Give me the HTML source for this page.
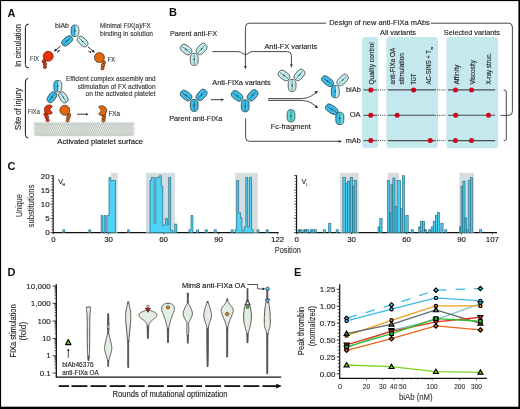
<!DOCTYPE html>
<html><head><meta charset="utf-8"><style>
html,body{margin:0;padding:0;background:#fff;}
svg{display:block;will-change:transform;}
text{font-family:"Liberation Sans", sans-serif;}
</style></head><body>
<svg width="520" height="409" viewBox="0 0 520 409" font-family='"Liberation Sans", sans-serif'><rect x="0" y="0" width="520" height="409" fill="#000"/>
<rect x="1.1" y="1.1" width="517.3" height="405.6" fill="#fff"/>
<text x="7.6" y="16.7" font-size="11" text-anchor="start" font-weight="bold" fill="#111" >A</text>
<text transform="translate(21.0,45.5) rotate(-90)" font-size="8.4" text-anchor="middle" font-weight="normal" fill="#1a1a1a" textLength="43.2" lengthAdjust="spacingAndGlyphs"  stroke="#1a1a1a" stroke-width="0.12">In circulation</text>
<text transform="translate(21.0,108.9) rotate(-90)" font-size="8.4" text-anchor="middle" font-weight="normal" fill="#1a1a1a" textLength="42.0" lengthAdjust="spacingAndGlyphs"  stroke="#1a1a1a" stroke-width="0.12">Site of injury</text>
<path d="M28.8,24 Q25.4,24 25.4,27.5 L25.4,64.5 Q25.4,68 28.8,68" fill="none" stroke="#111" stroke-width="1.0"/>
<path d="M28.2,78.5 Q25.4,78.5 25.4,82 L25.4,134.5 Q25.4,138 28.2,138" fill="none" stroke="#111" stroke-width="1.0"/>
<text x="55" y="28.4" font-size="6.4" text-anchor="start" font-weight="normal" fill="#333" textLength="14" lengthAdjust="spacingAndGlyphs"  stroke="#333" stroke-width="0.12">biAb</text>
<text x="100" y="28.2" font-size="6.4" text-anchor="start" font-weight="normal" fill="#333" textLength="50.8" lengthAdjust="spacingAndGlyphs"  stroke="#333" stroke-width="0.12">Minimal FIX(a)/FX</text>
<text x="100" y="35.8" font-size="6.4" text-anchor="start" font-weight="normal" fill="#333" textLength="53" lengthAdjust="spacingAndGlyphs"  stroke="#333" stroke-width="0.12">binding in solution</text>
<g transform="translate(75,30.8) rotate(90)"><path d="M5.70,-0.00 L5.67,-0.95 L5.57,-1.52 L5.40,-1.99 L5.16,-2.39 L4.86,-2.73 L4.49,-3.03 L4.05,-3.28 L3.53,-3.49 L2.94,-3.65 L2.24,-3.76 L1.40,-3.83 L0.00,-3.85 L-1.40,-3.83 L-2.24,-3.76 L-2.94,-3.65 L-3.53,-3.49 L-4.05,-3.28 L-4.49,-3.03 L-4.86,-2.73 L-5.16,-2.39 L-5.40,-1.99 L-5.57,-1.52 L-5.67,-0.95 L-5.70,-0.00 Z" fill="#c6f3f4"/><path d="M5.70,0.00 L5.67,0.95 L5.57,1.52 L5.40,1.99 L5.16,2.39 L4.86,2.73 L4.49,3.03 L4.05,3.28 L3.53,3.49 L2.94,3.65 L2.24,3.76 L1.40,3.83 L0.00,3.85 L-1.40,3.83 L-2.24,3.76 L-2.94,3.65 L-3.53,3.49 L-4.05,3.28 L-4.49,3.03 L-4.86,2.73 L-5.16,2.39 L-5.40,1.99 L-5.57,1.52 L-5.67,0.95 L-5.70,0.00 Z" fill="#3cc4f2"/><line x1="-3.99" y1="-1.93" x2="3.99" y2="-1.93" stroke="#000" stroke-opacity="0.14" stroke-width="0.5"/><line x1="-3.99" y1="1.93" x2="3.99" y2="1.93" stroke="#000" stroke-opacity="0.14" stroke-width="0.5"/><line x1="-4.84" y1="0" x2="4.84" y2="0" stroke="#1e1e1e" stroke-width="0.5"/><path d="M-1.1,0 L0,-0.8 L1.1,0 L0,0.8 Z" fill="#333"/><path d="M5.70,0.00 L5.67,0.95 L5.57,1.52 L5.40,1.99 L5.16,2.39 L4.86,2.73 L4.49,3.03 L4.05,3.28 L3.53,3.49 L2.94,3.65 L2.24,3.76 L1.40,3.83 L0.00,3.85 L-1.40,3.83 L-2.24,3.76 L-2.94,3.65 L-3.53,3.49 L-4.05,3.28 L-4.49,3.03 L-4.86,2.73 L-5.16,2.39 L-5.40,1.99 L-5.57,1.52 L-5.67,0.95 L-5.70,0.00 L-5.67,-0.95 L-5.57,-1.52 L-5.40,-1.99 L-5.16,-2.39 L-4.86,-2.73 L-4.49,-3.03 L-4.05,-3.28 L-3.53,-3.49 L-2.94,-3.65 L-2.24,-3.76 L-1.40,-3.83 L-0.00,-3.85 L1.40,-3.83 L2.24,-3.76 L2.94,-3.65 L3.53,-3.49 L4.05,-3.28 L4.49,-3.03 L4.86,-2.73 L5.16,-2.39 L5.40,-1.99 L5.57,-1.52 L5.67,-0.95 Z" fill="none" stroke="#1e1e1e" stroke-width="0.7"/></g>
<g transform="translate(67.2,40.9) rotate(-40)"><path d="M6.00,0.00 L5.96,0.86 L5.86,1.38 L5.68,1.80 L5.43,2.17 L5.11,2.49 L4.72,2.76 L4.26,2.98 L3.72,3.17 L3.09,3.31 L2.36,3.42 L1.47,3.48 L0.00,3.50 L-1.47,3.48 L-2.36,3.42 L-3.09,3.31 L-3.72,3.17 L-4.26,2.98 L-4.72,2.76 L-5.11,2.49 L-5.43,2.17 L-5.68,1.80 L-5.86,1.38 L-5.96,0.86 L-6.00,0.00 L-5.96,-0.86 L-5.86,-1.38 L-5.68,-1.80 L-5.43,-2.17 L-5.11,-2.49 L-4.72,-2.76 L-4.26,-2.98 L-3.72,-3.17 L-3.09,-3.31 L-2.36,-3.42 L-1.47,-3.48 L-0.00,-3.50 L1.47,-3.48 L2.36,-3.42 L3.09,-3.31 L3.72,-3.17 L4.26,-2.98 L4.72,-2.76 L5.11,-2.49 L5.43,-2.17 L5.68,-1.80 L5.86,-1.38 L5.96,-0.86 Z" fill="#3cc4f2"/><line x1="-4.20" y1="-1.75" x2="4.20" y2="-1.75" stroke="#000" stroke-opacity="0.14" stroke-width="0.5"/><line x1="-4.20" y1="1.75" x2="4.20" y2="1.75" stroke="#000" stroke-opacity="0.14" stroke-width="0.5"/><line x1="-5.10" y1="0" x2="5.10" y2="0" stroke="#1e1e1e" stroke-width="0.5"/><path d="M-1.1,0 L0,-0.8 L1.1,0 L0,0.8 Z" fill="#333"/><path d="M6.00,0.00 L5.96,0.86 L5.86,1.38 L5.68,1.80 L5.43,2.17 L5.11,2.49 L4.72,2.76 L4.26,2.98 L3.72,3.17 L3.09,3.31 L2.36,3.42 L1.47,3.48 L0.00,3.50 L-1.47,3.48 L-2.36,3.42 L-3.09,3.31 L-3.72,3.17 L-4.26,2.98 L-4.72,2.76 L-5.11,2.49 L-5.43,2.17 L-5.68,1.80 L-5.86,1.38 L-5.96,0.86 L-6.00,0.00 L-5.96,-0.86 L-5.86,-1.38 L-5.68,-1.80 L-5.43,-2.17 L-5.11,-2.49 L-4.72,-2.76 L-4.26,-2.98 L-3.72,-3.17 L-3.09,-3.31 L-2.36,-3.42 L-1.47,-3.48 L-0.00,-3.50 L1.47,-3.48 L2.36,-3.42 L3.09,-3.31 L3.72,-3.17 L4.26,-2.98 L4.72,-2.76 L5.11,-2.49 L5.43,-2.17 L5.68,-1.80 L5.86,-1.38 L5.96,-0.86 Z" fill="none" stroke="#1e1e1e" stroke-width="0.7"/></g>
<g transform="translate(82.6,41.5) rotate(45)"><path d="M6.00,0.00 L5.96,0.86 L5.86,1.38 L5.68,1.80 L5.43,2.17 L5.11,2.49 L4.72,2.76 L4.26,2.98 L3.72,3.17 L3.09,3.31 L2.36,3.42 L1.47,3.48 L0.00,3.50 L-1.47,3.48 L-2.36,3.42 L-3.09,3.31 L-3.72,3.17 L-4.26,2.98 L-4.72,2.76 L-5.11,2.49 L-5.43,2.17 L-5.68,1.80 L-5.86,1.38 L-5.96,0.86 L-6.00,0.00 L-5.96,-0.86 L-5.86,-1.38 L-5.68,-1.80 L-5.43,-2.17 L-5.11,-2.49 L-4.72,-2.76 L-4.26,-2.98 L-3.72,-3.17 L-3.09,-3.31 L-2.36,-3.42 L-1.47,-3.48 L-0.00,-3.50 L1.47,-3.48 L2.36,-3.42 L3.09,-3.31 L3.72,-3.17 L4.26,-2.98 L4.72,-2.76 L5.11,-2.49 L5.43,-2.17 L5.68,-1.80 L5.86,-1.38 L5.96,-0.86 Z" fill="#c6f3f4"/><line x1="-4.20" y1="-1.75" x2="4.20" y2="-1.75" stroke="#000" stroke-opacity="0.14" stroke-width="0.5"/><line x1="-4.20" y1="1.75" x2="4.20" y2="1.75" stroke="#000" stroke-opacity="0.14" stroke-width="0.5"/><line x1="-5.10" y1="0" x2="5.10" y2="0" stroke="#1e1e1e" stroke-width="0.5"/><path d="M-1.1,0 L0,-0.8 L1.1,0 L0,0.8 Z" fill="#333"/><path d="M6.00,0.00 L5.96,0.86 L5.86,1.38 L5.68,1.80 L5.43,2.17 L5.11,2.49 L4.72,2.76 L4.26,2.98 L3.72,3.17 L3.09,3.31 L2.36,3.42 L1.47,3.48 L0.00,3.50 L-1.47,3.48 L-2.36,3.42 L-3.09,3.31 L-3.72,3.17 L-4.26,2.98 L-4.72,2.76 L-5.11,2.49 L-5.43,2.17 L-5.68,1.80 L-5.86,1.38 L-5.96,0.86 L-6.00,0.00 L-5.96,-0.86 L-5.86,-1.38 L-5.68,-1.80 L-5.43,-2.17 L-5.11,-2.49 L-4.72,-2.76 L-4.26,-2.98 L-3.72,-3.17 L-3.09,-3.31 L-2.36,-3.42 L-1.47,-3.48 L-0.00,-3.50 L1.47,-3.48 L2.36,-3.42 L3.09,-3.31 L3.72,-3.17 L4.26,-2.98 L4.72,-2.76 L5.11,-2.49 L5.43,-2.17 L5.68,-1.80 L5.86,-1.38 L5.96,-0.86 Z" fill="none" stroke="#1e1e1e" stroke-width="0.7"/></g>
<line x1="60.6" y1="46.2" x2="55.85" y2="49.90" stroke="#222" stroke-width="0.95"/>
<path d="M53.8,51.5 L55.17,48.53 L57.01,50.90 Z" fill="#222"/>
<line x1="57.0" y1="52.5" x2="59.9" y2="50.3" stroke="#222" stroke-width="0.9"/>
<path d="M59.9,50.3 L57.14,50.64 L57.99,51.75 Z" fill="#222"/>
<line x1="87.9" y1="46.9" x2="92.80" y2="50.94" stroke="#222" stroke-width="0.95"/>
<path d="M94.8,52.6 L91.61,51.91 L93.52,49.60 Z" fill="#222"/>
<line x1="91.3" y1="53.1" x2="88.4" y2="50.9" stroke="#222" stroke-width="0.9"/>
<path d="M88.4,50.9 L91.16,51.24 L90.31,52.35 Z" fill="#222"/>
<circle cx="43.9" cy="61.3" r="1.8" fill="#ee3208" stroke="#2a1208" stroke-width="0.55"/>
<circle cx="44.9" cy="64.0" r="1.8" fill="#ee3208" stroke="#2a1208" stroke-width="0.55"/>
<circle cx="44.9" cy="67.0" r="1.6" fill="#ee3208" stroke="#2a1208" stroke-width="0.55"/>
<circle cx="48.2" cy="56.3" r="5.0" fill="#ee3208" stroke="#2a1208" stroke-width="0.6"/>
<circle cx="103.8" cy="62.4" r="1.8" fill="#e0690e" stroke="#2a1208" stroke-width="0.55"/>
<circle cx="103.0" cy="65.4" r="1.8" fill="#e0690e" stroke="#2a1208" stroke-width="0.55"/>
<circle cx="102.5" cy="68.4" r="1.6" fill="#e0690e" stroke="#2a1208" stroke-width="0.55"/>
<circle cx="99.4" cy="57.6" r="5.0" fill="#e0690e" stroke="#2a1208" stroke-width="0.6"/>
<text x="30" y="61.0" font-size="6.4" text-anchor="start" font-weight="normal" fill="#444" textLength="9" lengthAdjust="spacingAndGlyphs"  stroke="#444" stroke-width="0.12">FIX</text>
<text x="107.6" y="62.0" font-size="6.4" text-anchor="start" font-weight="normal" fill="#333" textLength="7.4" lengthAdjust="spacingAndGlyphs"  stroke="#333" stroke-width="0.12">FX</text>
<text x="155.6" y="81.0" font-size="6.4" text-anchor="end" font-weight="normal" fill="#333" textLength="89.6" lengthAdjust="spacingAndGlyphs"  stroke="#333" stroke-width="0.12">Efficient complex assembly and</text>
<text x="155.6" y="88.8" font-size="6.4" text-anchor="end" font-weight="normal" fill="#333" textLength="77.8" lengthAdjust="spacingAndGlyphs"  stroke="#333" stroke-width="0.12">stimulation of FX activation</text>
<text x="155.6" y="96.4" font-size="6.4" text-anchor="end" font-weight="normal" fill="#333" textLength="70" lengthAdjust="spacingAndGlyphs"  stroke="#333" stroke-width="0.12">on the activated platelet</text>
<g transform="translate(57.8,86.2) rotate(90)"><path d="M5.70,-0.00 L5.67,-0.98 L5.57,-1.57 L5.40,-2.06 L5.16,-2.48 L4.86,-2.84 L4.49,-3.15 L4.05,-3.41 L3.53,-3.62 L2.94,-3.79 L2.24,-3.91 L1.40,-3.98 L0.00,-4.00 L-1.40,-3.98 L-2.24,-3.91 L-2.94,-3.79 L-3.53,-3.62 L-4.05,-3.41 L-4.49,-3.15 L-4.86,-2.84 L-5.16,-2.48 L-5.40,-2.06 L-5.57,-1.57 L-5.67,-0.98 L-5.70,-0.00 Z" fill="#c6f3f4"/><path d="M5.70,0.00 L5.67,0.98 L5.57,1.57 L5.40,2.06 L5.16,2.48 L4.86,2.84 L4.49,3.15 L4.05,3.41 L3.53,3.62 L2.94,3.79 L2.24,3.91 L1.40,3.98 L0.00,4.00 L-1.40,3.98 L-2.24,3.91 L-2.94,3.79 L-3.53,3.62 L-4.05,3.41 L-4.49,3.15 L-4.86,2.84 L-5.16,2.48 L-5.40,2.06 L-5.57,1.57 L-5.67,0.98 L-5.70,0.00 Z" fill="#3cc4f2"/><line x1="-3.99" y1="-2.00" x2="3.99" y2="-2.00" stroke="#000" stroke-opacity="0.14" stroke-width="0.5"/><line x1="-3.99" y1="2.00" x2="3.99" y2="2.00" stroke="#000" stroke-opacity="0.14" stroke-width="0.5"/><line x1="-4.84" y1="0" x2="4.84" y2="0" stroke="#1e1e1e" stroke-width="0.5"/><path d="M-1.1,0 L0,-0.8 L1.1,0 L0,0.8 Z" fill="#333"/><path d="M5.70,0.00 L5.67,0.98 L5.57,1.57 L5.40,2.06 L5.16,2.48 L4.86,2.84 L4.49,3.15 L4.05,3.41 L3.53,3.62 L2.94,3.79 L2.24,3.91 L1.40,3.98 L0.00,4.00 L-1.40,3.98 L-2.24,3.91 L-2.94,3.79 L-3.53,3.62 L-4.05,3.41 L-4.49,3.15 L-4.86,2.84 L-5.16,2.48 L-5.40,2.06 L-5.57,1.57 L-5.67,0.98 L-5.70,0.00 L-5.67,-0.98 L-5.57,-1.57 L-5.40,-2.06 L-5.16,-2.48 L-4.86,-2.84 L-4.49,-3.15 L-4.05,-3.41 L-3.53,-3.62 L-2.94,-3.79 L-2.24,-3.91 L-1.40,-3.98 L-0.00,-4.00 L1.40,-3.98 L2.24,-3.91 L2.94,-3.79 L3.53,-3.62 L4.05,-3.41 L4.49,-3.15 L4.86,-2.84 L5.16,-2.48 L5.40,-2.06 L5.57,-1.57 L5.67,-0.98 Z" fill="none" stroke="#1e1e1e" stroke-width="0.7"/></g>
<g transform="translate(51.9,97.2) rotate(-55)"><path d="M5.75,0.00 L5.72,0.86 L5.61,1.38 L5.44,1.80 L5.21,2.17 L4.90,2.49 L4.53,2.76 L4.08,2.98 L3.57,3.17 L2.96,3.31 L2.26,3.42 L1.41,3.48 L0.00,3.50 L-1.41,3.48 L-2.26,3.42 L-2.96,3.31 L-3.57,3.17 L-4.08,2.98 L-4.53,2.76 L-4.90,2.49 L-5.21,2.17 L-5.44,1.80 L-5.61,1.38 L-5.72,0.86 L-5.75,0.00 L-5.72,-0.86 L-5.61,-1.38 L-5.44,-1.80 L-5.21,-2.17 L-4.90,-2.49 L-4.53,-2.76 L-4.08,-2.98 L-3.57,-3.17 L-2.96,-3.31 L-2.26,-3.42 L-1.41,-3.48 L-0.00,-3.50 L1.41,-3.48 L2.26,-3.42 L2.96,-3.31 L3.57,-3.17 L4.08,-2.98 L4.53,-2.76 L4.90,-2.49 L5.21,-2.17 L5.44,-1.80 L5.61,-1.38 L5.72,-0.86 Z" fill="#3cc4f2"/><line x1="-4.02" y1="-1.75" x2="4.02" y2="-1.75" stroke="#000" stroke-opacity="0.14" stroke-width="0.5"/><line x1="-4.02" y1="1.75" x2="4.02" y2="1.75" stroke="#000" stroke-opacity="0.14" stroke-width="0.5"/><line x1="-4.89" y1="0" x2="4.89" y2="0" stroke="#1e1e1e" stroke-width="0.5"/><path d="M-1.1,0 L0,-0.8 L1.1,0 L0,0.8 Z" fill="#333"/><path d="M5.75,0.00 L5.72,0.86 L5.61,1.38 L5.44,1.80 L5.21,2.17 L4.90,2.49 L4.53,2.76 L4.08,2.98 L3.57,3.17 L2.96,3.31 L2.26,3.42 L1.41,3.48 L0.00,3.50 L-1.41,3.48 L-2.26,3.42 L-2.96,3.31 L-3.57,3.17 L-4.08,2.98 L-4.53,2.76 L-4.90,2.49 L-5.21,2.17 L-5.44,1.80 L-5.61,1.38 L-5.72,0.86 L-5.75,0.00 L-5.72,-0.86 L-5.61,-1.38 L-5.44,-1.80 L-5.21,-2.17 L-4.90,-2.49 L-4.53,-2.76 L-4.08,-2.98 L-3.57,-3.17 L-2.96,-3.31 L-2.26,-3.42 L-1.41,-3.48 L-0.00,-3.50 L1.41,-3.48 L2.26,-3.42 L2.96,-3.31 L3.57,-3.17 L4.08,-2.98 L4.53,-2.76 L4.90,-2.49 L5.21,-2.17 L5.44,-1.80 L5.61,-1.38 L5.72,-0.86 Z" fill="none" stroke="#1e1e1e" stroke-width="0.7"/></g>
<g transform="translate(63.4,97.4) rotate(57)"><path d="M5.75,0.00 L5.72,0.86 L5.61,1.38 L5.44,1.80 L5.21,2.17 L4.90,2.49 L4.53,2.76 L4.08,2.98 L3.57,3.17 L2.96,3.31 L2.26,3.42 L1.41,3.48 L0.00,3.50 L-1.41,3.48 L-2.26,3.42 L-2.96,3.31 L-3.57,3.17 L-4.08,2.98 L-4.53,2.76 L-4.90,2.49 L-5.21,2.17 L-5.44,1.80 L-5.61,1.38 L-5.72,0.86 L-5.75,0.00 L-5.72,-0.86 L-5.61,-1.38 L-5.44,-1.80 L-5.21,-2.17 L-4.90,-2.49 L-4.53,-2.76 L-4.08,-2.98 L-3.57,-3.17 L-2.96,-3.31 L-2.26,-3.42 L-1.41,-3.48 L-0.00,-3.50 L1.41,-3.48 L2.26,-3.42 L2.96,-3.31 L3.57,-3.17 L4.08,-2.98 L4.53,-2.76 L4.90,-2.49 L5.21,-2.17 L5.44,-1.80 L5.61,-1.38 L5.72,-0.86 Z" fill="#c6f3f4"/><line x1="-4.02" y1="-1.75" x2="4.02" y2="-1.75" stroke="#000" stroke-opacity="0.14" stroke-width="0.5"/><line x1="-4.02" y1="1.75" x2="4.02" y2="1.75" stroke="#000" stroke-opacity="0.14" stroke-width="0.5"/><line x1="-4.89" y1="0" x2="4.89" y2="0" stroke="#1e1e1e" stroke-width="0.5"/><path d="M-1.1,0 L0,-0.8 L1.1,0 L0,0.8 Z" fill="#333"/><path d="M5.75,0.00 L5.72,0.86 L5.61,1.38 L5.44,1.80 L5.21,2.17 L4.90,2.49 L4.53,2.76 L4.08,2.98 L3.57,3.17 L2.96,3.31 L2.26,3.42 L1.41,3.48 L0.00,3.50 L-1.41,3.48 L-2.26,3.42 L-2.96,3.31 L-3.57,3.17 L-4.08,2.98 L-4.53,2.76 L-4.90,2.49 L-5.21,2.17 L-5.44,1.80 L-5.61,1.38 L-5.72,0.86 L-5.75,0.00 L-5.72,-0.86 L-5.61,-1.38 L-5.44,-1.80 L-5.21,-2.17 L-4.90,-2.49 L-4.53,-2.76 L-4.08,-2.98 L-3.57,-3.17 L-2.96,-3.31 L-2.26,-3.42 L-1.41,-3.48 L-0.00,-3.50 L1.41,-3.48 L2.26,-3.42 L2.96,-3.31 L3.57,-3.17 L4.08,-2.98 L4.53,-2.76 L4.90,-2.49 L5.21,-2.17 L5.44,-1.80 L5.61,-1.38 L5.72,-0.86 Z" fill="none" stroke="#1e1e1e" stroke-width="0.7"/></g>
<circle cx="45.6" cy="114.3" r="1.8" fill="#ee3208" stroke="#2a1208" stroke-width="0.55"/>
<circle cx="46.8" cy="117.0" r="1.9" fill="#ee3208" stroke="#2a1208" stroke-width="0.55"/>
<circle cx="47.6" cy="120.2" r="1.6" fill="#ee3208" stroke="#2a1208" stroke-width="0.55"/>
<path d="M49.70,109.60 L52.42,106.28 A4.7,4.7 0 1 0 52.42,112.92 Z" fill="#ee3208" stroke="#2a1208" stroke-width="0.6" stroke-linejoin="round"/>
<circle cx="69.0" cy="115.0" r="1.8" fill="#e0690e" stroke="#2a1208" stroke-width="0.55"/>
<circle cx="68.3" cy="117.7" r="1.8" fill="#e0690e" stroke="#2a1208" stroke-width="0.55"/>
<circle cx="67.6" cy="120.6" r="1.6" fill="#e0690e" stroke="#2a1208" stroke-width="0.55"/>
<circle cx="64.8" cy="110.3" r="5.0" fill="#e0690e" stroke="#2a1208" stroke-width="0.6"/>
<text x="27.8" y="114.2" font-size="6.4" text-anchor="start" font-weight="normal" fill="#444" textLength="12" lengthAdjust="spacingAndGlyphs"  stroke="#444" stroke-width="0.12">FIXa</text>
<line x1="77" y1="114.2" x2="86.30" y2="114.20" stroke="#222" stroke-width="0.9"/>
<path d="M88.6,114.2 L86.00,115.50 L86.00,112.90 Z" fill="#222"/>
<circle cx="104.0" cy="115.5" r="1.8" fill="#e0690e" stroke="#2a1208" stroke-width="0.55"/>
<circle cx="103.7" cy="118.2" r="1.8" fill="#e0690e" stroke="#2a1208" stroke-width="0.55"/>
<circle cx="103.4" cy="120.8" r="1.5" fill="#e0690e" stroke="#2a1208" stroke-width="0.55"/>
<path d="M101.20,110.60 L98.65,114.35 A4.9,4.9 0 1 0 98.65,106.85 Z" fill="#e0690e" stroke="#2a1208" stroke-width="0.6" stroke-linejoin="round"/>
<text x="108.4" y="115.6" font-size="6.4" text-anchor="start" font-weight="normal" fill="#333" textLength="11.8" lengthAdjust="spacingAndGlyphs"  stroke="#333" stroke-width="0.12">FXa</text>
<g><rect x="33.8" y="122.6" width="100.8" height="13.4" fill="#f4f6f4"/><circle cx="34.90" cy="123.7" r="1.1" fill="none" stroke="#98a298" stroke-width="0.42"/><circle cx="36.95" cy="123.7" r="1.1" fill="none" stroke="#98a298" stroke-width="0.42"/><circle cx="39.00" cy="123.7" r="1.1" fill="none" stroke="#98a298" stroke-width="0.42"/><circle cx="41.05" cy="123.7" r="1.1" fill="none" stroke="#98a298" stroke-width="0.42"/><circle cx="43.10" cy="123.7" r="1.1" fill="none" stroke="#98a298" stroke-width="0.42"/><circle cx="45.15" cy="123.7" r="1.1" fill="none" stroke="#98a298" stroke-width="0.42"/><circle cx="47.20" cy="123.7" r="1.1" fill="none" stroke="#98a298" stroke-width="0.42"/><circle cx="49.25" cy="123.7" r="1.1" fill="none" stroke="#98a298" stroke-width="0.42"/><circle cx="51.30" cy="123.7" r="1.1" fill="none" stroke="#98a298" stroke-width="0.42"/><circle cx="53.35" cy="123.7" r="1.1" fill="none" stroke="#98a298" stroke-width="0.42"/><circle cx="55.40" cy="123.7" r="1.1" fill="none" stroke="#98a298" stroke-width="0.42"/><circle cx="57.45" cy="123.7" r="1.1" fill="none" stroke="#98a298" stroke-width="0.42"/><circle cx="59.50" cy="123.7" r="1.1" fill="none" stroke="#98a298" stroke-width="0.42"/><circle cx="61.55" cy="123.7" r="1.1" fill="none" stroke="#98a298" stroke-width="0.42"/><circle cx="63.60" cy="123.7" r="1.1" fill="none" stroke="#98a298" stroke-width="0.42"/><circle cx="65.65" cy="123.7" r="1.1" fill="none" stroke="#98a298" stroke-width="0.42"/><circle cx="67.70" cy="123.7" r="1.1" fill="none" stroke="#98a298" stroke-width="0.42"/><circle cx="69.75" cy="123.7" r="1.1" fill="none" stroke="#98a298" stroke-width="0.42"/><circle cx="71.80" cy="123.7" r="1.1" fill="none" stroke="#98a298" stroke-width="0.42"/><circle cx="73.85" cy="123.7" r="1.1" fill="none" stroke="#98a298" stroke-width="0.42"/><circle cx="75.90" cy="123.7" r="1.1" fill="none" stroke="#98a298" stroke-width="0.42"/><circle cx="77.95" cy="123.7" r="1.1" fill="none" stroke="#98a298" stroke-width="0.42"/><circle cx="80.00" cy="123.7" r="1.1" fill="none" stroke="#98a298" stroke-width="0.42"/><circle cx="82.05" cy="123.7" r="1.1" fill="none" stroke="#98a298" stroke-width="0.42"/><circle cx="84.10" cy="123.7" r="1.1" fill="none" stroke="#98a298" stroke-width="0.42"/><circle cx="86.15" cy="123.7" r="1.1" fill="none" stroke="#98a298" stroke-width="0.42"/><circle cx="88.20" cy="123.7" r="1.1" fill="none" stroke="#98a298" stroke-width="0.42"/><circle cx="90.25" cy="123.7" r="1.1" fill="none" stroke="#98a298" stroke-width="0.42"/><circle cx="92.30" cy="123.7" r="1.1" fill="none" stroke="#98a298" stroke-width="0.42"/><circle cx="94.35" cy="123.7" r="1.1" fill="none" stroke="#98a298" stroke-width="0.42"/><circle cx="96.40" cy="123.7" r="1.1" fill="none" stroke="#98a298" stroke-width="0.42"/><circle cx="98.45" cy="123.7" r="1.1" fill="none" stroke="#98a298" stroke-width="0.42"/><circle cx="100.50" cy="123.7" r="1.1" fill="none" stroke="#98a298" stroke-width="0.42"/><circle cx="102.55" cy="123.7" r="1.1" fill="none" stroke="#98a298" stroke-width="0.42"/><circle cx="104.60" cy="123.7" r="1.1" fill="none" stroke="#98a298" stroke-width="0.42"/><circle cx="106.65" cy="123.7" r="1.1" fill="none" stroke="#98a298" stroke-width="0.42"/><circle cx="108.70" cy="123.7" r="1.1" fill="none" stroke="#98a298" stroke-width="0.42"/><circle cx="110.75" cy="123.7" r="1.1" fill="none" stroke="#98a298" stroke-width="0.42"/><circle cx="112.80" cy="123.7" r="1.1" fill="none" stroke="#98a298" stroke-width="0.42"/><circle cx="114.85" cy="123.7" r="1.1" fill="none" stroke="#98a298" stroke-width="0.42"/><circle cx="116.90" cy="123.7" r="1.1" fill="none" stroke="#98a298" stroke-width="0.42"/><circle cx="118.95" cy="123.7" r="1.1" fill="none" stroke="#98a298" stroke-width="0.42"/><circle cx="121.00" cy="123.7" r="1.1" fill="none" stroke="#98a298" stroke-width="0.42"/><circle cx="123.05" cy="123.7" r="1.1" fill="none" stroke="#98a298" stroke-width="0.42"/><circle cx="125.10" cy="123.7" r="1.1" fill="none" stroke="#98a298" stroke-width="0.42"/><circle cx="127.15" cy="123.7" r="1.1" fill="none" stroke="#98a298" stroke-width="0.42"/><circle cx="129.20" cy="123.7" r="1.1" fill="none" stroke="#98a298" stroke-width="0.42"/><circle cx="131.25" cy="123.7" r="1.1" fill="none" stroke="#98a298" stroke-width="0.42"/><circle cx="133.30" cy="123.7" r="1.1" fill="none" stroke="#98a298" stroke-width="0.42"/><circle cx="35.90" cy="125.9" r="1.1" fill="none" stroke="#aab3aa" stroke-width="0.42"/><circle cx="37.95" cy="125.9" r="1.1" fill="none" stroke="#aab3aa" stroke-width="0.42"/><circle cx="40.00" cy="125.9" r="1.1" fill="none" stroke="#aab3aa" stroke-width="0.42"/><circle cx="42.05" cy="125.9" r="1.1" fill="none" stroke="#aab3aa" stroke-width="0.42"/><circle cx="44.10" cy="125.9" r="1.1" fill="none" stroke="#aab3aa" stroke-width="0.42"/><circle cx="46.15" cy="125.9" r="1.1" fill="none" stroke="#aab3aa" stroke-width="0.42"/><circle cx="48.20" cy="125.9" r="1.1" fill="none" stroke="#aab3aa" stroke-width="0.42"/><circle cx="50.25" cy="125.9" r="1.1" fill="none" stroke="#aab3aa" stroke-width="0.42"/><circle cx="52.30" cy="125.9" r="1.1" fill="none" stroke="#aab3aa" stroke-width="0.42"/><circle cx="54.35" cy="125.9" r="1.1" fill="none" stroke="#aab3aa" stroke-width="0.42"/><circle cx="56.40" cy="125.9" r="1.1" fill="none" stroke="#aab3aa" stroke-width="0.42"/><circle cx="58.45" cy="125.9" r="1.1" fill="none" stroke="#aab3aa" stroke-width="0.42"/><circle cx="60.50" cy="125.9" r="1.1" fill="none" stroke="#aab3aa" stroke-width="0.42"/><circle cx="62.55" cy="125.9" r="1.1" fill="none" stroke="#aab3aa" stroke-width="0.42"/><circle cx="64.60" cy="125.9" r="1.1" fill="none" stroke="#aab3aa" stroke-width="0.42"/><circle cx="66.65" cy="125.9" r="1.1" fill="none" stroke="#aab3aa" stroke-width="0.42"/><circle cx="68.70" cy="125.9" r="1.1" fill="none" stroke="#aab3aa" stroke-width="0.42"/><circle cx="70.75" cy="125.9" r="1.1" fill="none" stroke="#aab3aa" stroke-width="0.42"/><circle cx="72.80" cy="125.9" r="1.1" fill="none" stroke="#aab3aa" stroke-width="0.42"/><circle cx="74.85" cy="125.9" r="1.1" fill="none" stroke="#aab3aa" stroke-width="0.42"/><circle cx="76.90" cy="125.9" r="1.1" fill="none" stroke="#aab3aa" stroke-width="0.42"/><circle cx="78.95" cy="125.9" r="1.1" fill="none" stroke="#aab3aa" stroke-width="0.42"/><circle cx="81.00" cy="125.9" r="1.1" fill="none" stroke="#aab3aa" stroke-width="0.42"/><circle cx="83.05" cy="125.9" r="1.1" fill="none" stroke="#aab3aa" stroke-width="0.42"/><circle cx="85.10" cy="125.9" r="1.1" fill="none" stroke="#aab3aa" stroke-width="0.42"/><circle cx="87.15" cy="125.9" r="1.1" fill="none" stroke="#aab3aa" stroke-width="0.42"/><circle cx="89.20" cy="125.9" r="1.1" fill="none" stroke="#aab3aa" stroke-width="0.42"/><circle cx="91.25" cy="125.9" r="1.1" fill="none" stroke="#aab3aa" stroke-width="0.42"/><circle cx="93.30" cy="125.9" r="1.1" fill="none" stroke="#aab3aa" stroke-width="0.42"/><circle cx="95.35" cy="125.9" r="1.1" fill="none" stroke="#aab3aa" stroke-width="0.42"/><circle cx="97.40" cy="125.9" r="1.1" fill="none" stroke="#aab3aa" stroke-width="0.42"/><circle cx="99.45" cy="125.9" r="1.1" fill="none" stroke="#aab3aa" stroke-width="0.42"/><circle cx="101.50" cy="125.9" r="1.1" fill="none" stroke="#aab3aa" stroke-width="0.42"/><circle cx="103.55" cy="125.9" r="1.1" fill="none" stroke="#aab3aa" stroke-width="0.42"/><circle cx="105.60" cy="125.9" r="1.1" fill="none" stroke="#aab3aa" stroke-width="0.42"/><circle cx="107.65" cy="125.9" r="1.1" fill="none" stroke="#aab3aa" stroke-width="0.42"/><circle cx="109.70" cy="125.9" r="1.1" fill="none" stroke="#aab3aa" stroke-width="0.42"/><circle cx="111.75" cy="125.9" r="1.1" fill="none" stroke="#aab3aa" stroke-width="0.42"/><circle cx="113.80" cy="125.9" r="1.1" fill="none" stroke="#aab3aa" stroke-width="0.42"/><circle cx="115.85" cy="125.9" r="1.1" fill="none" stroke="#aab3aa" stroke-width="0.42"/><circle cx="117.90" cy="125.9" r="1.1" fill="none" stroke="#aab3aa" stroke-width="0.42"/><circle cx="119.95" cy="125.9" r="1.1" fill="none" stroke="#aab3aa" stroke-width="0.42"/><circle cx="122.00" cy="125.9" r="1.1" fill="none" stroke="#aab3aa" stroke-width="0.42"/><circle cx="124.05" cy="125.9" r="1.1" fill="none" stroke="#aab3aa" stroke-width="0.42"/><circle cx="126.10" cy="125.9" r="1.1" fill="none" stroke="#aab3aa" stroke-width="0.42"/><circle cx="128.15" cy="125.9" r="1.1" fill="none" stroke="#aab3aa" stroke-width="0.42"/><circle cx="130.20" cy="125.9" r="1.1" fill="none" stroke="#aab3aa" stroke-width="0.42"/><circle cx="132.25" cy="125.9" r="1.1" fill="none" stroke="#aab3aa" stroke-width="0.42"/><circle cx="34.90" cy="128.1" r="1.1" fill="none" stroke="#aab3aa" stroke-width="0.42"/><circle cx="36.95" cy="128.1" r="1.1" fill="none" stroke="#aab3aa" stroke-width="0.42"/><circle cx="39.00" cy="128.1" r="1.1" fill="none" stroke="#aab3aa" stroke-width="0.42"/><circle cx="41.05" cy="128.1" r="1.1" fill="none" stroke="#aab3aa" stroke-width="0.42"/><circle cx="43.10" cy="128.1" r="1.1" fill="none" stroke="#aab3aa" stroke-width="0.42"/><circle cx="45.15" cy="128.1" r="1.1" fill="none" stroke="#aab3aa" stroke-width="0.42"/><circle cx="47.20" cy="128.1" r="1.1" fill="none" stroke="#aab3aa" stroke-width="0.42"/><circle cx="49.25" cy="128.1" r="1.1" fill="none" stroke="#aab3aa" stroke-width="0.42"/><circle cx="51.30" cy="128.1" r="1.1" fill="none" stroke="#aab3aa" stroke-width="0.42"/><circle cx="53.35" cy="128.1" r="1.1" fill="none" stroke="#aab3aa" stroke-width="0.42"/><circle cx="55.40" cy="128.1" r="1.1" fill="none" stroke="#aab3aa" stroke-width="0.42"/><circle cx="57.45" cy="128.1" r="1.1" fill="none" stroke="#aab3aa" stroke-width="0.42"/><circle cx="59.50" cy="128.1" r="1.1" fill="none" stroke="#aab3aa" stroke-width="0.42"/><circle cx="61.55" cy="128.1" r="1.1" fill="none" stroke="#aab3aa" stroke-width="0.42"/><circle cx="63.60" cy="128.1" r="1.1" fill="none" stroke="#aab3aa" stroke-width="0.42"/><circle cx="65.65" cy="128.1" r="1.1" fill="none" stroke="#aab3aa" stroke-width="0.42"/><circle cx="67.70" cy="128.1" r="1.1" fill="none" stroke="#aab3aa" stroke-width="0.42"/><circle cx="69.75" cy="128.1" r="1.1" fill="none" stroke="#aab3aa" stroke-width="0.42"/><circle cx="71.80" cy="128.1" r="1.1" fill="none" stroke="#aab3aa" stroke-width="0.42"/><circle cx="73.85" cy="128.1" r="1.1" fill="none" stroke="#aab3aa" stroke-width="0.42"/><circle cx="75.90" cy="128.1" r="1.1" fill="none" stroke="#aab3aa" stroke-width="0.42"/><circle cx="77.95" cy="128.1" r="1.1" fill="none" stroke="#aab3aa" stroke-width="0.42"/><circle cx="80.00" cy="128.1" r="1.1" fill="none" stroke="#aab3aa" stroke-width="0.42"/><circle cx="82.05" cy="128.1" r="1.1" fill="none" stroke="#aab3aa" stroke-width="0.42"/><circle cx="84.10" cy="128.1" r="1.1" fill="none" stroke="#aab3aa" stroke-width="0.42"/><circle cx="86.15" cy="128.1" r="1.1" fill="none" stroke="#aab3aa" stroke-width="0.42"/><circle cx="88.20" cy="128.1" r="1.1" fill="none" stroke="#aab3aa" stroke-width="0.42"/><circle cx="90.25" cy="128.1" r="1.1" fill="none" stroke="#aab3aa" stroke-width="0.42"/><circle cx="92.30" cy="128.1" r="1.1" fill="none" stroke="#aab3aa" stroke-width="0.42"/><circle cx="94.35" cy="128.1" r="1.1" fill="none" stroke="#aab3aa" stroke-width="0.42"/><circle cx="96.40" cy="128.1" r="1.1" fill="none" stroke="#aab3aa" stroke-width="0.42"/><circle cx="98.45" cy="128.1" r="1.1" fill="none" stroke="#aab3aa" stroke-width="0.42"/><circle cx="100.50" cy="128.1" r="1.1" fill="none" stroke="#aab3aa" stroke-width="0.42"/><circle cx="102.55" cy="128.1" r="1.1" fill="none" stroke="#aab3aa" stroke-width="0.42"/><circle cx="104.60" cy="128.1" r="1.1" fill="none" stroke="#aab3aa" stroke-width="0.42"/><circle cx="106.65" cy="128.1" r="1.1" fill="none" stroke="#aab3aa" stroke-width="0.42"/><circle cx="108.70" cy="128.1" r="1.1" fill="none" stroke="#aab3aa" stroke-width="0.42"/><circle cx="110.75" cy="128.1" r="1.1" fill="none" stroke="#aab3aa" stroke-width="0.42"/><circle cx="112.80" cy="128.1" r="1.1" fill="none" stroke="#aab3aa" stroke-width="0.42"/><circle cx="114.85" cy="128.1" r="1.1" fill="none" stroke="#aab3aa" stroke-width="0.42"/><circle cx="116.90" cy="128.1" r="1.1" fill="none" stroke="#aab3aa" stroke-width="0.42"/><circle cx="118.95" cy="128.1" r="1.1" fill="none" stroke="#aab3aa" stroke-width="0.42"/><circle cx="121.00" cy="128.1" r="1.1" fill="none" stroke="#aab3aa" stroke-width="0.42"/><circle cx="123.05" cy="128.1" r="1.1" fill="none" stroke="#aab3aa" stroke-width="0.42"/><circle cx="125.10" cy="128.1" r="1.1" fill="none" stroke="#aab3aa" stroke-width="0.42"/><circle cx="127.15" cy="128.1" r="1.1" fill="none" stroke="#aab3aa" stroke-width="0.42"/><circle cx="129.20" cy="128.1" r="1.1" fill="none" stroke="#aab3aa" stroke-width="0.42"/><circle cx="131.25" cy="128.1" r="1.1" fill="none" stroke="#aab3aa" stroke-width="0.42"/><circle cx="133.30" cy="128.1" r="1.1" fill="none" stroke="#aab3aa" stroke-width="0.42"/><circle cx="35.90" cy="130.3" r="1.1" fill="none" stroke="#aab3aa" stroke-width="0.42"/><circle cx="37.95" cy="130.3" r="1.1" fill="none" stroke="#aab3aa" stroke-width="0.42"/><circle cx="40.00" cy="130.3" r="1.1" fill="none" stroke="#aab3aa" stroke-width="0.42"/><circle cx="42.05" cy="130.3" r="1.1" fill="none" stroke="#aab3aa" stroke-width="0.42"/><circle cx="44.10" cy="130.3" r="1.1" fill="none" stroke="#aab3aa" stroke-width="0.42"/><circle cx="46.15" cy="130.3" r="1.1" fill="none" stroke="#aab3aa" stroke-width="0.42"/><circle cx="48.20" cy="130.3" r="1.1" fill="none" stroke="#aab3aa" stroke-width="0.42"/><circle cx="50.25" cy="130.3" r="1.1" fill="none" stroke="#aab3aa" stroke-width="0.42"/><circle cx="52.30" cy="130.3" r="1.1" fill="none" stroke="#aab3aa" stroke-width="0.42"/><circle cx="54.35" cy="130.3" r="1.1" fill="none" stroke="#aab3aa" stroke-width="0.42"/><circle cx="56.40" cy="130.3" r="1.1" fill="none" stroke="#aab3aa" stroke-width="0.42"/><circle cx="58.45" cy="130.3" r="1.1" fill="none" stroke="#aab3aa" stroke-width="0.42"/><circle cx="60.50" cy="130.3" r="1.1" fill="none" stroke="#aab3aa" stroke-width="0.42"/><circle cx="62.55" cy="130.3" r="1.1" fill="none" stroke="#aab3aa" stroke-width="0.42"/><circle cx="64.60" cy="130.3" r="1.1" fill="none" stroke="#aab3aa" stroke-width="0.42"/><circle cx="66.65" cy="130.3" r="1.1" fill="none" stroke="#aab3aa" stroke-width="0.42"/><circle cx="68.70" cy="130.3" r="1.1" fill="none" stroke="#aab3aa" stroke-width="0.42"/><circle cx="70.75" cy="130.3" r="1.1" fill="none" stroke="#aab3aa" stroke-width="0.42"/><circle cx="72.80" cy="130.3" r="1.1" fill="none" stroke="#aab3aa" stroke-width="0.42"/><circle cx="74.85" cy="130.3" r="1.1" fill="none" stroke="#aab3aa" stroke-width="0.42"/><circle cx="76.90" cy="130.3" r="1.1" fill="none" stroke="#aab3aa" stroke-width="0.42"/><circle cx="78.95" cy="130.3" r="1.1" fill="none" stroke="#aab3aa" stroke-width="0.42"/><circle cx="81.00" cy="130.3" r="1.1" fill="none" stroke="#aab3aa" stroke-width="0.42"/><circle cx="83.05" cy="130.3" r="1.1" fill="none" stroke="#aab3aa" stroke-width="0.42"/><circle cx="85.10" cy="130.3" r="1.1" fill="none" stroke="#aab3aa" stroke-width="0.42"/><circle cx="87.15" cy="130.3" r="1.1" fill="none" stroke="#aab3aa" stroke-width="0.42"/><circle cx="89.20" cy="130.3" r="1.1" fill="none" stroke="#aab3aa" stroke-width="0.42"/><circle cx="91.25" cy="130.3" r="1.1" fill="none" stroke="#aab3aa" stroke-width="0.42"/><circle cx="93.30" cy="130.3" r="1.1" fill="none" stroke="#aab3aa" stroke-width="0.42"/><circle cx="95.35" cy="130.3" r="1.1" fill="none" stroke="#aab3aa" stroke-width="0.42"/><circle cx="97.40" cy="130.3" r="1.1" fill="none" stroke="#aab3aa" stroke-width="0.42"/><circle cx="99.45" cy="130.3" r="1.1" fill="none" stroke="#aab3aa" stroke-width="0.42"/><circle cx="101.50" cy="130.3" r="1.1" fill="none" stroke="#aab3aa" stroke-width="0.42"/><circle cx="103.55" cy="130.3" r="1.1" fill="none" stroke="#aab3aa" stroke-width="0.42"/><circle cx="105.60" cy="130.3" r="1.1" fill="none" stroke="#aab3aa" stroke-width="0.42"/><circle cx="107.65" cy="130.3" r="1.1" fill="none" stroke="#aab3aa" stroke-width="0.42"/><circle cx="109.70" cy="130.3" r="1.1" fill="none" stroke="#aab3aa" stroke-width="0.42"/><circle cx="111.75" cy="130.3" r="1.1" fill="none" stroke="#aab3aa" stroke-width="0.42"/><circle cx="113.80" cy="130.3" r="1.1" fill="none" stroke="#aab3aa" stroke-width="0.42"/><circle cx="115.85" cy="130.3" r="1.1" fill="none" stroke="#aab3aa" stroke-width="0.42"/><circle cx="117.90" cy="130.3" r="1.1" fill="none" stroke="#aab3aa" stroke-width="0.42"/><circle cx="119.95" cy="130.3" r="1.1" fill="none" stroke="#aab3aa" stroke-width="0.42"/><circle cx="122.00" cy="130.3" r="1.1" fill="none" stroke="#aab3aa" stroke-width="0.42"/><circle cx="124.05" cy="130.3" r="1.1" fill="none" stroke="#aab3aa" stroke-width="0.42"/><circle cx="126.10" cy="130.3" r="1.1" fill="none" stroke="#aab3aa" stroke-width="0.42"/><circle cx="128.15" cy="130.3" r="1.1" fill="none" stroke="#aab3aa" stroke-width="0.42"/><circle cx="130.20" cy="130.3" r="1.1" fill="none" stroke="#aab3aa" stroke-width="0.42"/><circle cx="132.25" cy="130.3" r="1.1" fill="none" stroke="#aab3aa" stroke-width="0.42"/><circle cx="34.90" cy="132.5" r="1.1" fill="none" stroke="#aab3aa" stroke-width="0.42"/><circle cx="36.95" cy="132.5" r="1.1" fill="none" stroke="#aab3aa" stroke-width="0.42"/><circle cx="39.00" cy="132.5" r="1.1" fill="none" stroke="#aab3aa" stroke-width="0.42"/><circle cx="41.05" cy="132.5" r="1.1" fill="none" stroke="#aab3aa" stroke-width="0.42"/><circle cx="43.10" cy="132.5" r="1.1" fill="none" stroke="#aab3aa" stroke-width="0.42"/><circle cx="45.15" cy="132.5" r="1.1" fill="none" stroke="#aab3aa" stroke-width="0.42"/><circle cx="47.20" cy="132.5" r="1.1" fill="none" stroke="#aab3aa" stroke-width="0.42"/><circle cx="49.25" cy="132.5" r="1.1" fill="none" stroke="#aab3aa" stroke-width="0.42"/><circle cx="51.30" cy="132.5" r="1.1" fill="none" stroke="#aab3aa" stroke-width="0.42"/><circle cx="53.35" cy="132.5" r="1.1" fill="none" stroke="#aab3aa" stroke-width="0.42"/><circle cx="55.40" cy="132.5" r="1.1" fill="none" stroke="#aab3aa" stroke-width="0.42"/><circle cx="57.45" cy="132.5" r="1.1" fill="none" stroke="#aab3aa" stroke-width="0.42"/><circle cx="59.50" cy="132.5" r="1.1" fill="none" stroke="#aab3aa" stroke-width="0.42"/><circle cx="61.55" cy="132.5" r="1.1" fill="none" stroke="#aab3aa" stroke-width="0.42"/><circle cx="63.60" cy="132.5" r="1.1" fill="none" stroke="#aab3aa" stroke-width="0.42"/><circle cx="65.65" cy="132.5" r="1.1" fill="none" stroke="#aab3aa" stroke-width="0.42"/><circle cx="67.70" cy="132.5" r="1.1" fill="none" stroke="#aab3aa" stroke-width="0.42"/><circle cx="69.75" cy="132.5" r="1.1" fill="none" stroke="#aab3aa" stroke-width="0.42"/><circle cx="71.80" cy="132.5" r="1.1" fill="none" stroke="#aab3aa" stroke-width="0.42"/><circle cx="73.85" cy="132.5" r="1.1" fill="none" stroke="#aab3aa" stroke-width="0.42"/><circle cx="75.90" cy="132.5" r="1.1" fill="none" stroke="#aab3aa" stroke-width="0.42"/><circle cx="77.95" cy="132.5" r="1.1" fill="none" stroke="#aab3aa" stroke-width="0.42"/><circle cx="80.00" cy="132.5" r="1.1" fill="none" stroke="#aab3aa" stroke-width="0.42"/><circle cx="82.05" cy="132.5" r="1.1" fill="none" stroke="#aab3aa" stroke-width="0.42"/><circle cx="84.10" cy="132.5" r="1.1" fill="none" stroke="#aab3aa" stroke-width="0.42"/><circle cx="86.15" cy="132.5" r="1.1" fill="none" stroke="#aab3aa" stroke-width="0.42"/><circle cx="88.20" cy="132.5" r="1.1" fill="none" stroke="#aab3aa" stroke-width="0.42"/><circle cx="90.25" cy="132.5" r="1.1" fill="none" stroke="#aab3aa" stroke-width="0.42"/><circle cx="92.30" cy="132.5" r="1.1" fill="none" stroke="#aab3aa" stroke-width="0.42"/><circle cx="94.35" cy="132.5" r="1.1" fill="none" stroke="#aab3aa" stroke-width="0.42"/><circle cx="96.40" cy="132.5" r="1.1" fill="none" stroke="#aab3aa" stroke-width="0.42"/><circle cx="98.45" cy="132.5" r="1.1" fill="none" stroke="#aab3aa" stroke-width="0.42"/><circle cx="100.50" cy="132.5" r="1.1" fill="none" stroke="#aab3aa" stroke-width="0.42"/><circle cx="102.55" cy="132.5" r="1.1" fill="none" stroke="#aab3aa" stroke-width="0.42"/><circle cx="104.60" cy="132.5" r="1.1" fill="none" stroke="#aab3aa" stroke-width="0.42"/><circle cx="106.65" cy="132.5" r="1.1" fill="none" stroke="#aab3aa" stroke-width="0.42"/><circle cx="108.70" cy="132.5" r="1.1" fill="none" stroke="#aab3aa" stroke-width="0.42"/><circle cx="110.75" cy="132.5" r="1.1" fill="none" stroke="#aab3aa" stroke-width="0.42"/><circle cx="112.80" cy="132.5" r="1.1" fill="none" stroke="#aab3aa" stroke-width="0.42"/><circle cx="114.85" cy="132.5" r="1.1" fill="none" stroke="#aab3aa" stroke-width="0.42"/><circle cx="116.90" cy="132.5" r="1.1" fill="none" stroke="#aab3aa" stroke-width="0.42"/><circle cx="118.95" cy="132.5" r="1.1" fill="none" stroke="#aab3aa" stroke-width="0.42"/><circle cx="121.00" cy="132.5" r="1.1" fill="none" stroke="#aab3aa" stroke-width="0.42"/><circle cx="123.05" cy="132.5" r="1.1" fill="none" stroke="#aab3aa" stroke-width="0.42"/><circle cx="125.10" cy="132.5" r="1.1" fill="none" stroke="#aab3aa" stroke-width="0.42"/><circle cx="127.15" cy="132.5" r="1.1" fill="none" stroke="#aab3aa" stroke-width="0.42"/><circle cx="129.20" cy="132.5" r="1.1" fill="none" stroke="#aab3aa" stroke-width="0.42"/><circle cx="131.25" cy="132.5" r="1.1" fill="none" stroke="#aab3aa" stroke-width="0.42"/><circle cx="133.30" cy="132.5" r="1.1" fill="none" stroke="#aab3aa" stroke-width="0.42"/><circle cx="35.90" cy="134.8" r="1.1" fill="none" stroke="#98a298" stroke-width="0.42"/><circle cx="37.95" cy="134.8" r="1.1" fill="none" stroke="#98a298" stroke-width="0.42"/><circle cx="40.00" cy="134.8" r="1.1" fill="none" stroke="#98a298" stroke-width="0.42"/><circle cx="42.05" cy="134.8" r="1.1" fill="none" stroke="#98a298" stroke-width="0.42"/><circle cx="44.10" cy="134.8" r="1.1" fill="none" stroke="#98a298" stroke-width="0.42"/><circle cx="46.15" cy="134.8" r="1.1" fill="none" stroke="#98a298" stroke-width="0.42"/><circle cx="48.20" cy="134.8" r="1.1" fill="none" stroke="#98a298" stroke-width="0.42"/><circle cx="50.25" cy="134.8" r="1.1" fill="none" stroke="#98a298" stroke-width="0.42"/><circle cx="52.30" cy="134.8" r="1.1" fill="none" stroke="#98a298" stroke-width="0.42"/><circle cx="54.35" cy="134.8" r="1.1" fill="none" stroke="#98a298" stroke-width="0.42"/><circle cx="56.40" cy="134.8" r="1.1" fill="none" stroke="#98a298" stroke-width="0.42"/><circle cx="58.45" cy="134.8" r="1.1" fill="none" stroke="#98a298" stroke-width="0.42"/><circle cx="60.50" cy="134.8" r="1.1" fill="none" stroke="#98a298" stroke-width="0.42"/><circle cx="62.55" cy="134.8" r="1.1" fill="none" stroke="#98a298" stroke-width="0.42"/><circle cx="64.60" cy="134.8" r="1.1" fill="none" stroke="#98a298" stroke-width="0.42"/><circle cx="66.65" cy="134.8" r="1.1" fill="none" stroke="#98a298" stroke-width="0.42"/><circle cx="68.70" cy="134.8" r="1.1" fill="none" stroke="#98a298" stroke-width="0.42"/><circle cx="70.75" cy="134.8" r="1.1" fill="none" stroke="#98a298" stroke-width="0.42"/><circle cx="72.80" cy="134.8" r="1.1" fill="none" stroke="#98a298" stroke-width="0.42"/><circle cx="74.85" cy="134.8" r="1.1" fill="none" stroke="#98a298" stroke-width="0.42"/><circle cx="76.90" cy="134.8" r="1.1" fill="none" stroke="#98a298" stroke-width="0.42"/><circle cx="78.95" cy="134.8" r="1.1" fill="none" stroke="#98a298" stroke-width="0.42"/><circle cx="81.00" cy="134.8" r="1.1" fill="none" stroke="#98a298" stroke-width="0.42"/><circle cx="83.05" cy="134.8" r="1.1" fill="none" stroke="#98a298" stroke-width="0.42"/><circle cx="85.10" cy="134.8" r="1.1" fill="none" stroke="#98a298" stroke-width="0.42"/><circle cx="87.15" cy="134.8" r="1.1" fill="none" stroke="#98a298" stroke-width="0.42"/><circle cx="89.20" cy="134.8" r="1.1" fill="none" stroke="#98a298" stroke-width="0.42"/><circle cx="91.25" cy="134.8" r="1.1" fill="none" stroke="#98a298" stroke-width="0.42"/><circle cx="93.30" cy="134.8" r="1.1" fill="none" stroke="#98a298" stroke-width="0.42"/><circle cx="95.35" cy="134.8" r="1.1" fill="none" stroke="#98a298" stroke-width="0.42"/><circle cx="97.40" cy="134.8" r="1.1" fill="none" stroke="#98a298" stroke-width="0.42"/><circle cx="99.45" cy="134.8" r="1.1" fill="none" stroke="#98a298" stroke-width="0.42"/><circle cx="101.50" cy="134.8" r="1.1" fill="none" stroke="#98a298" stroke-width="0.42"/><circle cx="103.55" cy="134.8" r="1.1" fill="none" stroke="#98a298" stroke-width="0.42"/><circle cx="105.60" cy="134.8" r="1.1" fill="none" stroke="#98a298" stroke-width="0.42"/><circle cx="107.65" cy="134.8" r="1.1" fill="none" stroke="#98a298" stroke-width="0.42"/><circle cx="109.70" cy="134.8" r="1.1" fill="none" stroke="#98a298" stroke-width="0.42"/><circle cx="111.75" cy="134.8" r="1.1" fill="none" stroke="#98a298" stroke-width="0.42"/><circle cx="113.80" cy="134.8" r="1.1" fill="none" stroke="#98a298" stroke-width="0.42"/><circle cx="115.85" cy="134.8" r="1.1" fill="none" stroke="#98a298" stroke-width="0.42"/><circle cx="117.90" cy="134.8" r="1.1" fill="none" stroke="#98a298" stroke-width="0.42"/><circle cx="119.95" cy="134.8" r="1.1" fill="none" stroke="#98a298" stroke-width="0.42"/><circle cx="122.00" cy="134.8" r="1.1" fill="none" stroke="#98a298" stroke-width="0.42"/><circle cx="124.05" cy="134.8" r="1.1" fill="none" stroke="#98a298" stroke-width="0.42"/><circle cx="126.10" cy="134.8" r="1.1" fill="none" stroke="#98a298" stroke-width="0.42"/><circle cx="128.15" cy="134.8" r="1.1" fill="none" stroke="#98a298" stroke-width="0.42"/><circle cx="130.20" cy="134.8" r="1.1" fill="none" stroke="#98a298" stroke-width="0.42"/><circle cx="132.25" cy="134.8" r="1.1" fill="none" stroke="#98a298" stroke-width="0.42"/></g>
<text x="57.3" y="143.6" font-size="7.0" text-anchor="start" font-weight="normal" fill="#111" textLength="85.8" lengthAdjust="spacingAndGlyphs"  stroke="#111" stroke-width="0.12">Activated platelet surface</text>
<text x="168.9" y="16.2" font-size="11" text-anchor="start" font-weight="bold" fill="#111" >B</text>
<text x="170" y="35.8" font-size="6.6" text-anchor="start" font-weight="normal" fill="#222" textLength="47" lengthAdjust="spacingAndGlyphs"  stroke="#222" stroke-width="0.12">Parent anti-FX</text>
<text x="169.2" y="121.3" font-size="6.6" text-anchor="start" font-weight="normal" fill="#222" textLength="53" lengthAdjust="spacingAndGlyphs"  stroke="#222" stroke-width="0.12">Parent anti-FIXa</text>
<text x="212.3" y="84.8" font-size="6.6" text-anchor="start" font-weight="normal" fill="#222" textLength="58.4" lengthAdjust="spacingAndGlyphs"  stroke="#222" stroke-width="0.12">Anti-FIXa variants</text>
<text x="264.4" y="49.4" font-size="6.6" text-anchor="start" font-weight="normal" fill="#222" textLength="52.8" lengthAdjust="spacingAndGlyphs"  stroke="#222" stroke-width="0.12">Anti-FX variants</text>
<text x="270.8" y="128.6" font-size="6.6" text-anchor="start" font-weight="normal" fill="#222" textLength="40" lengthAdjust="spacingAndGlyphs"  stroke="#222" stroke-width="0.12">Fc-fragment</text>
<g transform="translate(186.1,49.5) rotate(37)"><path d="M6.10,0.00 L6.06,0.95 L5.96,1.52 L5.78,1.99 L5.52,2.39 L5.20,2.73 L4.80,3.03 L4.33,3.28 L3.78,3.49 L3.15,3.65 L2.40,3.76 L1.50,3.83 L0.00,3.85 L-1.50,3.83 L-2.40,3.76 L-3.15,3.65 L-3.78,3.49 L-4.33,3.28 L-4.80,3.03 L-5.20,2.73 L-5.52,2.39 L-5.78,1.99 L-5.96,1.52 L-6.06,0.95 L-6.10,0.00 L-6.06,-0.95 L-5.96,-1.52 L-5.78,-1.99 L-5.52,-2.39 L-5.20,-2.73 L-4.80,-3.03 L-4.33,-3.28 L-3.78,-3.49 L-3.15,-3.65 L-2.40,-3.76 L-1.50,-3.83 L-0.00,-3.85 L1.50,-3.83 L2.40,-3.76 L3.15,-3.65 L3.78,-3.49 L4.33,-3.28 L4.80,-3.03 L5.20,-2.73 L5.52,-2.39 L5.78,-1.99 L5.96,-1.52 L6.06,-0.95 Z" fill="#c6f3f4"/><line x1="-4.27" y1="-1.93" x2="4.27" y2="-1.93" stroke="#000" stroke-opacity="0.14" stroke-width="0.5"/><line x1="-4.27" y1="1.93" x2="4.27" y2="1.93" stroke="#000" stroke-opacity="0.14" stroke-width="0.5"/><line x1="-5.18" y1="0" x2="5.18" y2="0" stroke="#1e1e1e" stroke-width="0.5"/><path d="M-1.1,0 L0,-0.8 L1.1,0 L0,0.8 Z" fill="#333"/><path d="M6.10,0.00 L6.06,0.95 L5.96,1.52 L5.78,1.99 L5.52,2.39 L5.20,2.73 L4.80,3.03 L4.33,3.28 L3.78,3.49 L3.15,3.65 L2.40,3.76 L1.50,3.83 L0.00,3.85 L-1.50,3.83 L-2.40,3.76 L-3.15,3.65 L-3.78,3.49 L-4.33,3.28 L-4.80,3.03 L-5.20,2.73 L-5.52,2.39 L-5.78,1.99 L-5.96,1.52 L-6.06,0.95 L-6.10,0.00 L-6.06,-0.95 L-5.96,-1.52 L-5.78,-1.99 L-5.52,-2.39 L-5.20,-2.73 L-4.80,-3.03 L-4.33,-3.28 L-3.78,-3.49 L-3.15,-3.65 L-2.40,-3.76 L-1.50,-3.83 L-0.00,-3.85 L1.50,-3.83 L2.40,-3.76 L3.15,-3.65 L3.78,-3.49 L4.33,-3.28 L4.80,-3.03 L5.20,-2.73 L5.52,-2.39 L5.78,-1.99 L5.96,-1.52 L6.06,-0.95 Z" fill="none" stroke="#1e1e1e" stroke-width="0.7"/></g>
<g transform="translate(201.6,48.9) rotate(-49)"><path d="M6.10,0.00 L6.06,0.95 L5.96,1.52 L5.78,1.99 L5.52,2.39 L5.20,2.73 L4.80,3.03 L4.33,3.28 L3.78,3.49 L3.15,3.65 L2.40,3.76 L1.50,3.83 L0.00,3.85 L-1.50,3.83 L-2.40,3.76 L-3.15,3.65 L-3.78,3.49 L-4.33,3.28 L-4.80,3.03 L-5.20,2.73 L-5.52,2.39 L-5.78,1.99 L-5.96,1.52 L-6.06,0.95 L-6.10,0.00 L-6.06,-0.95 L-5.96,-1.52 L-5.78,-1.99 L-5.52,-2.39 L-5.20,-2.73 L-4.80,-3.03 L-4.33,-3.28 L-3.78,-3.49 L-3.15,-3.65 L-2.40,-3.76 L-1.50,-3.83 L-0.00,-3.85 L1.50,-3.83 L2.40,-3.76 L3.15,-3.65 L3.78,-3.49 L4.33,-3.28 L4.80,-3.03 L5.20,-2.73 L5.52,-2.39 L5.78,-1.99 L5.96,-1.52 L6.06,-0.95 Z" fill="#c6f3f4"/><line x1="-4.27" y1="-1.93" x2="4.27" y2="-1.93" stroke="#000" stroke-opacity="0.14" stroke-width="0.5"/><line x1="-4.27" y1="1.93" x2="4.27" y2="1.93" stroke="#000" stroke-opacity="0.14" stroke-width="0.5"/><line x1="-5.18" y1="0" x2="5.18" y2="0" stroke="#1e1e1e" stroke-width="0.5"/><path d="M-1.1,0 L0,-0.8 L1.1,0 L0,0.8 Z" fill="#333"/><path d="M6.10,0.00 L6.06,0.95 L5.96,1.52 L5.78,1.99 L5.52,2.39 L5.20,2.73 L4.80,3.03 L4.33,3.28 L3.78,3.49 L3.15,3.65 L2.40,3.76 L1.50,3.83 L0.00,3.85 L-1.50,3.83 L-2.40,3.76 L-3.15,3.65 L-3.78,3.49 L-4.33,3.28 L-4.80,3.03 L-5.20,2.73 L-5.52,2.39 L-5.78,1.99 L-5.96,1.52 L-6.06,0.95 L-6.10,0.00 L-6.06,-0.95 L-5.96,-1.52 L-5.78,-1.99 L-5.52,-2.39 L-5.20,-2.73 L-4.80,-3.03 L-4.33,-3.28 L-3.78,-3.49 L-3.15,-3.65 L-2.40,-3.76 L-1.50,-3.83 L-0.00,-3.85 L1.50,-3.83 L2.40,-3.76 L3.15,-3.65 L3.78,-3.49 L4.33,-3.28 L4.80,-3.03 L5.20,-2.73 L5.52,-2.39 L5.78,-1.99 L5.96,-1.52 L6.06,-0.95 Z" fill="none" stroke="#1e1e1e" stroke-width="0.7"/></g>
<g transform="translate(194.2,59.4) rotate(90)"><path d="M6.00,0.00 L5.96,0.96 L5.86,1.54 L5.68,2.01 L5.43,2.42 L5.11,2.77 L4.72,3.07 L4.26,3.32 L3.72,3.53 L3.09,3.69 L2.36,3.81 L1.47,3.88 L0.00,3.90 L-1.47,3.88 L-2.36,3.81 L-3.09,3.69 L-3.72,3.53 L-4.26,3.32 L-4.72,3.07 L-5.11,2.77 L-5.43,2.42 L-5.68,2.01 L-5.86,1.54 L-5.96,0.96 L-6.00,0.00 L-5.96,-0.96 L-5.86,-1.54 L-5.68,-2.01 L-5.43,-2.42 L-5.11,-2.77 L-4.72,-3.07 L-4.26,-3.32 L-3.72,-3.53 L-3.09,-3.69 L-2.36,-3.81 L-1.47,-3.88 L-0.00,-3.90 L1.47,-3.88 L2.36,-3.81 L3.09,-3.69 L3.72,-3.53 L4.26,-3.32 L4.72,-3.07 L5.11,-2.77 L5.43,-2.42 L5.68,-2.01 L5.86,-1.54 L5.96,-0.96 Z" fill="#c6f3f4"/><line x1="-4.20" y1="-1.95" x2="4.20" y2="-1.95" stroke="#000" stroke-opacity="0.14" stroke-width="0.5"/><line x1="-4.20" y1="1.95" x2="4.20" y2="1.95" stroke="#000" stroke-opacity="0.14" stroke-width="0.5"/><line x1="-5.10" y1="0" x2="5.10" y2="0" stroke="#1e1e1e" stroke-width="0.5"/><path d="M-1.1,0 L0,-0.8 L1.1,0 L0,0.8 Z" fill="#333"/><path d="M6.00,0.00 L5.96,0.96 L5.86,1.54 L5.68,2.01 L5.43,2.42 L5.11,2.77 L4.72,3.07 L4.26,3.32 L3.72,3.53 L3.09,3.69 L2.36,3.81 L1.47,3.88 L0.00,3.90 L-1.47,3.88 L-2.36,3.81 L-3.09,3.69 L-3.72,3.53 L-4.26,3.32 L-4.72,3.07 L-5.11,2.77 L-5.43,2.42 L-5.68,2.01 L-5.86,1.54 L-5.96,0.96 L-6.00,0.00 L-5.96,-0.96 L-5.86,-1.54 L-5.68,-2.01 L-5.43,-2.42 L-5.11,-2.77 L-4.72,-3.07 L-4.26,-3.32 L-3.72,-3.53 L-3.09,-3.69 L-2.36,-3.81 L-1.47,-3.88 L-0.00,-3.90 L1.47,-3.88 L2.36,-3.81 L3.09,-3.69 L3.72,-3.53 L4.26,-3.32 L4.72,-3.07 L5.11,-2.77 L5.43,-2.42 L5.68,-2.01 L5.86,-1.54 L5.96,-0.96 Z" fill="none" stroke="#1e1e1e" stroke-width="0.7"/></g>
<g transform="translate(186.1,95.5) rotate(37)"><path d="M6.10,0.00 L6.06,0.95 L5.96,1.52 L5.78,1.99 L5.52,2.39 L5.20,2.73 L4.80,3.03 L4.33,3.28 L3.78,3.49 L3.15,3.65 L2.40,3.76 L1.50,3.83 L0.00,3.85 L-1.50,3.83 L-2.40,3.76 L-3.15,3.65 L-3.78,3.49 L-4.33,3.28 L-4.80,3.03 L-5.20,2.73 L-5.52,2.39 L-5.78,1.99 L-5.96,1.52 L-6.06,0.95 L-6.10,0.00 L-6.06,-0.95 L-5.96,-1.52 L-5.78,-1.99 L-5.52,-2.39 L-5.20,-2.73 L-4.80,-3.03 L-4.33,-3.28 L-3.78,-3.49 L-3.15,-3.65 L-2.40,-3.76 L-1.50,-3.83 L-0.00,-3.85 L1.50,-3.83 L2.40,-3.76 L3.15,-3.65 L3.78,-3.49 L4.33,-3.28 L4.80,-3.03 L5.20,-2.73 L5.52,-2.39 L5.78,-1.99 L5.96,-1.52 L6.06,-0.95 Z" fill="#3cc4f2"/><line x1="-4.27" y1="-1.93" x2="4.27" y2="-1.93" stroke="#000" stroke-opacity="0.14" stroke-width="0.5"/><line x1="-4.27" y1="1.93" x2="4.27" y2="1.93" stroke="#000" stroke-opacity="0.14" stroke-width="0.5"/><line x1="-5.18" y1="0" x2="5.18" y2="0" stroke="#1e1e1e" stroke-width="0.5"/><path d="M-1.1,0 L0,-0.8 L1.1,0 L0,0.8 Z" fill="#333"/><path d="M6.10,0.00 L6.06,0.95 L5.96,1.52 L5.78,1.99 L5.52,2.39 L5.20,2.73 L4.80,3.03 L4.33,3.28 L3.78,3.49 L3.15,3.65 L2.40,3.76 L1.50,3.83 L0.00,3.85 L-1.50,3.83 L-2.40,3.76 L-3.15,3.65 L-3.78,3.49 L-4.33,3.28 L-4.80,3.03 L-5.20,2.73 L-5.52,2.39 L-5.78,1.99 L-5.96,1.52 L-6.06,0.95 L-6.10,0.00 L-6.06,-0.95 L-5.96,-1.52 L-5.78,-1.99 L-5.52,-2.39 L-5.20,-2.73 L-4.80,-3.03 L-4.33,-3.28 L-3.78,-3.49 L-3.15,-3.65 L-2.40,-3.76 L-1.50,-3.83 L-0.00,-3.85 L1.50,-3.83 L2.40,-3.76 L3.15,-3.65 L3.78,-3.49 L4.33,-3.28 L4.80,-3.03 L5.20,-2.73 L5.52,-2.39 L5.78,-1.99 L5.96,-1.52 L6.06,-0.95 Z" fill="none" stroke="#1e1e1e" stroke-width="0.7"/></g>
<g transform="translate(201.6,94.9) rotate(-49)"><path d="M6.10,0.00 L6.06,0.95 L5.96,1.52 L5.78,1.99 L5.52,2.39 L5.20,2.73 L4.80,3.03 L4.33,3.28 L3.78,3.49 L3.15,3.65 L2.40,3.76 L1.50,3.83 L0.00,3.85 L-1.50,3.83 L-2.40,3.76 L-3.15,3.65 L-3.78,3.49 L-4.33,3.28 L-4.80,3.03 L-5.20,2.73 L-5.52,2.39 L-5.78,1.99 L-5.96,1.52 L-6.06,0.95 L-6.10,0.00 L-6.06,-0.95 L-5.96,-1.52 L-5.78,-1.99 L-5.52,-2.39 L-5.20,-2.73 L-4.80,-3.03 L-4.33,-3.28 L-3.78,-3.49 L-3.15,-3.65 L-2.40,-3.76 L-1.50,-3.83 L-0.00,-3.85 L1.50,-3.83 L2.40,-3.76 L3.15,-3.65 L3.78,-3.49 L4.33,-3.28 L4.80,-3.03 L5.20,-2.73 L5.52,-2.39 L5.78,-1.99 L5.96,-1.52 L6.06,-0.95 Z" fill="#3cc4f2"/><line x1="-4.27" y1="-1.93" x2="4.27" y2="-1.93" stroke="#000" stroke-opacity="0.14" stroke-width="0.5"/><line x1="-4.27" y1="1.93" x2="4.27" y2="1.93" stroke="#000" stroke-opacity="0.14" stroke-width="0.5"/><line x1="-5.18" y1="0" x2="5.18" y2="0" stroke="#1e1e1e" stroke-width="0.5"/><path d="M-1.1,0 L0,-0.8 L1.1,0 L0,0.8 Z" fill="#333"/><path d="M6.10,0.00 L6.06,0.95 L5.96,1.52 L5.78,1.99 L5.52,2.39 L5.20,2.73 L4.80,3.03 L4.33,3.28 L3.78,3.49 L3.15,3.65 L2.40,3.76 L1.50,3.83 L0.00,3.85 L-1.50,3.83 L-2.40,3.76 L-3.15,3.65 L-3.78,3.49 L-4.33,3.28 L-4.80,3.03 L-5.20,2.73 L-5.52,2.39 L-5.78,1.99 L-5.96,1.52 L-6.06,0.95 L-6.10,0.00 L-6.06,-0.95 L-5.96,-1.52 L-5.78,-1.99 L-5.52,-2.39 L-5.20,-2.73 L-4.80,-3.03 L-4.33,-3.28 L-3.78,-3.49 L-3.15,-3.65 L-2.40,-3.76 L-1.50,-3.83 L-0.00,-3.85 L1.50,-3.83 L2.40,-3.76 L3.15,-3.65 L3.78,-3.49 L4.33,-3.28 L4.80,-3.03 L5.20,-2.73 L5.52,-2.39 L5.78,-1.99 L5.96,-1.52 L6.06,-0.95 Z" fill="none" stroke="#1e1e1e" stroke-width="0.7"/></g>
<g transform="translate(194.2,105.4) rotate(90)"><path d="M6.00,0.00 L5.96,0.96 L5.86,1.54 L5.68,2.01 L5.43,2.42 L5.11,2.77 L4.72,3.07 L4.26,3.32 L3.72,3.53 L3.09,3.69 L2.36,3.81 L1.47,3.88 L0.00,3.90 L-1.47,3.88 L-2.36,3.81 L-3.09,3.69 L-3.72,3.53 L-4.26,3.32 L-4.72,3.07 L-5.11,2.77 L-5.43,2.42 L-5.68,2.01 L-5.86,1.54 L-5.96,0.96 L-6.00,0.00 L-5.96,-0.96 L-5.86,-1.54 L-5.68,-2.01 L-5.43,-2.42 L-5.11,-2.77 L-4.72,-3.07 L-4.26,-3.32 L-3.72,-3.53 L-3.09,-3.69 L-2.36,-3.81 L-1.47,-3.88 L-0.00,-3.90 L1.47,-3.88 L2.36,-3.81 L3.09,-3.69 L3.72,-3.53 L4.26,-3.32 L4.72,-3.07 L5.11,-2.77 L5.43,-2.42 L5.68,-2.01 L5.86,-1.54 L5.96,-0.96 Z" fill="#3cc4f2"/><line x1="-4.20" y1="-1.95" x2="4.20" y2="-1.95" stroke="#000" stroke-opacity="0.14" stroke-width="0.5"/><line x1="-4.20" y1="1.95" x2="4.20" y2="1.95" stroke="#000" stroke-opacity="0.14" stroke-width="0.5"/><line x1="-5.10" y1="0" x2="5.10" y2="0" stroke="#1e1e1e" stroke-width="0.5"/><path d="M-1.1,0 L0,-0.8 L1.1,0 L0,0.8 Z" fill="#333"/><path d="M6.00,0.00 L5.96,0.96 L5.86,1.54 L5.68,2.01 L5.43,2.42 L5.11,2.77 L4.72,3.07 L4.26,3.32 L3.72,3.53 L3.09,3.69 L2.36,3.81 L1.47,3.88 L0.00,3.90 L-1.47,3.88 L-2.36,3.81 L-3.09,3.69 L-3.72,3.53 L-4.26,3.32 L-4.72,3.07 L-5.11,2.77 L-5.43,2.42 L-5.68,2.01 L-5.86,1.54 L-5.96,0.96 L-6.00,0.00 L-5.96,-0.96 L-5.86,-1.54 L-5.68,-2.01 L-5.43,-2.42 L-5.11,-2.77 L-4.72,-3.07 L-4.26,-3.32 L-3.72,-3.53 L-3.09,-3.69 L-2.36,-3.81 L-1.47,-3.88 L-0.00,-3.90 L1.47,-3.88 L2.36,-3.81 L3.09,-3.69 L3.72,-3.53 L4.26,-3.32 L4.72,-3.07 L5.11,-2.77 L5.43,-2.42 L5.68,-2.01 L5.86,-1.54 L5.96,-0.96 Z" fill="none" stroke="#1e1e1e" stroke-width="0.7"/></g>
<g transform="translate(237.1,95.89999999999999) rotate(37)"><path d="M6.10,0.00 L6.06,0.95 L5.96,1.52 L5.78,1.99 L5.52,2.39 L5.20,2.73 L4.80,3.03 L4.33,3.28 L3.78,3.49 L3.15,3.65 L2.40,3.76 L1.50,3.83 L0.00,3.85 L-1.50,3.83 L-2.40,3.76 L-3.15,3.65 L-3.78,3.49 L-4.33,3.28 L-4.80,3.03 L-5.20,2.73 L-5.52,2.39 L-5.78,1.99 L-5.96,1.52 L-6.06,0.95 L-6.10,0.00 L-6.06,-0.95 L-5.96,-1.52 L-5.78,-1.99 L-5.52,-2.39 L-5.20,-2.73 L-4.80,-3.03 L-4.33,-3.28 L-3.78,-3.49 L-3.15,-3.65 L-2.40,-3.76 L-1.50,-3.83 L-0.00,-3.85 L1.50,-3.83 L2.40,-3.76 L3.15,-3.65 L3.78,-3.49 L4.33,-3.28 L4.80,-3.03 L5.20,-2.73 L5.52,-2.39 L5.78,-1.99 L5.96,-1.52 L6.06,-0.95 Z" fill="#3cc4f2"/><line x1="-4.27" y1="-1.93" x2="4.27" y2="-1.93" stroke="#000" stroke-opacity="0.14" stroke-width="0.5"/><line x1="-4.27" y1="1.93" x2="4.27" y2="1.93" stroke="#000" stroke-opacity="0.14" stroke-width="0.5"/><line x1="-5.18" y1="0" x2="5.18" y2="0" stroke="#1e1e1e" stroke-width="0.5"/><path d="M-1.1,0 L0,-0.8 L1.1,0 L0,0.8 Z" fill="#333"/><path d="M6.10,0.00 L6.06,0.95 L5.96,1.52 L5.78,1.99 L5.52,2.39 L5.20,2.73 L4.80,3.03 L4.33,3.28 L3.78,3.49 L3.15,3.65 L2.40,3.76 L1.50,3.83 L0.00,3.85 L-1.50,3.83 L-2.40,3.76 L-3.15,3.65 L-3.78,3.49 L-4.33,3.28 L-4.80,3.03 L-5.20,2.73 L-5.52,2.39 L-5.78,1.99 L-5.96,1.52 L-6.06,0.95 L-6.10,0.00 L-6.06,-0.95 L-5.96,-1.52 L-5.78,-1.99 L-5.52,-2.39 L-5.20,-2.73 L-4.80,-3.03 L-4.33,-3.28 L-3.78,-3.49 L-3.15,-3.65 L-2.40,-3.76 L-1.50,-3.83 L-0.00,-3.85 L1.50,-3.83 L2.40,-3.76 L3.15,-3.65 L3.78,-3.49 L4.33,-3.28 L4.80,-3.03 L5.20,-2.73 L5.52,-2.39 L5.78,-1.99 L5.96,-1.52 L6.06,-0.95 Z" fill="none" stroke="#1e1e1e" stroke-width="0.7"/></g>
<g transform="translate(252.6,95.3) rotate(-49)"><path d="M6.10,0.00 L6.06,0.95 L5.96,1.52 L5.78,1.99 L5.52,2.39 L5.20,2.73 L4.80,3.03 L4.33,3.28 L3.78,3.49 L3.15,3.65 L2.40,3.76 L1.50,3.83 L0.00,3.85 L-1.50,3.83 L-2.40,3.76 L-3.15,3.65 L-3.78,3.49 L-4.33,3.28 L-4.80,3.03 L-5.20,2.73 L-5.52,2.39 L-5.78,1.99 L-5.96,1.52 L-6.06,0.95 L-6.10,0.00 L-6.06,-0.95 L-5.96,-1.52 L-5.78,-1.99 L-5.52,-2.39 L-5.20,-2.73 L-4.80,-3.03 L-4.33,-3.28 L-3.78,-3.49 L-3.15,-3.65 L-2.40,-3.76 L-1.50,-3.83 L-0.00,-3.85 L1.50,-3.83 L2.40,-3.76 L3.15,-3.65 L3.78,-3.49 L4.33,-3.28 L4.80,-3.03 L5.20,-2.73 L5.52,-2.39 L5.78,-1.99 L5.96,-1.52 L6.06,-0.95 Z" fill="#3cc4f2"/><line x1="-4.27" y1="-1.93" x2="4.27" y2="-1.93" stroke="#000" stroke-opacity="0.14" stroke-width="0.5"/><line x1="-4.27" y1="1.93" x2="4.27" y2="1.93" stroke="#000" stroke-opacity="0.14" stroke-width="0.5"/><line x1="-5.18" y1="0" x2="5.18" y2="0" stroke="#1e1e1e" stroke-width="0.5"/><path d="M-1.1,0 L0,-0.8 L1.1,0 L0,0.8 Z" fill="#333"/><path d="M6.10,0.00 L6.06,0.95 L5.96,1.52 L5.78,1.99 L5.52,2.39 L5.20,2.73 L4.80,3.03 L4.33,3.28 L3.78,3.49 L3.15,3.65 L2.40,3.76 L1.50,3.83 L0.00,3.85 L-1.50,3.83 L-2.40,3.76 L-3.15,3.65 L-3.78,3.49 L-4.33,3.28 L-4.80,3.03 L-5.20,2.73 L-5.52,2.39 L-5.78,1.99 L-5.96,1.52 L-6.06,0.95 L-6.10,0.00 L-6.06,-0.95 L-5.96,-1.52 L-5.78,-1.99 L-5.52,-2.39 L-5.20,-2.73 L-4.80,-3.03 L-4.33,-3.28 L-3.78,-3.49 L-3.15,-3.65 L-2.40,-3.76 L-1.50,-3.83 L-0.00,-3.85 L1.50,-3.83 L2.40,-3.76 L3.15,-3.65 L3.78,-3.49 L4.33,-3.28 L4.80,-3.03 L5.20,-2.73 L5.52,-2.39 L5.78,-1.99 L5.96,-1.52 L6.06,-0.95 Z" fill="none" stroke="#1e1e1e" stroke-width="0.7"/></g>
<g transform="translate(245.2,105.8) rotate(90)"><path d="M6.00,0.00 L5.96,0.96 L5.86,1.54 L5.68,2.01 L5.43,2.42 L5.11,2.77 L4.72,3.07 L4.26,3.32 L3.72,3.53 L3.09,3.69 L2.36,3.81 L1.47,3.88 L0.00,3.90 L-1.47,3.88 L-2.36,3.81 L-3.09,3.69 L-3.72,3.53 L-4.26,3.32 L-4.72,3.07 L-5.11,2.77 L-5.43,2.42 L-5.68,2.01 L-5.86,1.54 L-5.96,0.96 L-6.00,0.00 L-5.96,-0.96 L-5.86,-1.54 L-5.68,-2.01 L-5.43,-2.42 L-5.11,-2.77 L-4.72,-3.07 L-4.26,-3.32 L-3.72,-3.53 L-3.09,-3.69 L-2.36,-3.81 L-1.47,-3.88 L-0.00,-3.90 L1.47,-3.88 L2.36,-3.81 L3.09,-3.69 L3.72,-3.53 L4.26,-3.32 L4.72,-3.07 L5.11,-2.77 L5.43,-2.42 L5.68,-2.01 L5.86,-1.54 L5.96,-0.96 Z" fill="#3cc4f2"/><line x1="-4.20" y1="-1.95" x2="4.20" y2="-1.95" stroke="#000" stroke-opacity="0.14" stroke-width="0.5"/><line x1="-4.20" y1="1.95" x2="4.20" y2="1.95" stroke="#000" stroke-opacity="0.14" stroke-width="0.5"/><line x1="-5.10" y1="0" x2="5.10" y2="0" stroke="#1e1e1e" stroke-width="0.5"/><path d="M-1.1,0 L0,-0.8 L1.1,0 L0,0.8 Z" fill="#333"/><path d="M6.00,0.00 L5.96,0.96 L5.86,1.54 L5.68,2.01 L5.43,2.42 L5.11,2.77 L4.72,3.07 L4.26,3.32 L3.72,3.53 L3.09,3.69 L2.36,3.81 L1.47,3.88 L0.00,3.90 L-1.47,3.88 L-2.36,3.81 L-3.09,3.69 L-3.72,3.53 L-4.26,3.32 L-4.72,3.07 L-5.11,2.77 L-5.43,2.42 L-5.68,2.01 L-5.86,1.54 L-5.96,0.96 L-6.00,0.00 L-5.96,-0.96 L-5.86,-1.54 L-5.68,-2.01 L-5.43,-2.42 L-5.11,-2.77 L-4.72,-3.07 L-4.26,-3.32 L-3.72,-3.53 L-3.09,-3.69 L-2.36,-3.81 L-1.47,-3.88 L-0.00,-3.90 L1.47,-3.88 L2.36,-3.81 L3.09,-3.69 L3.72,-3.53 L4.26,-3.32 L4.72,-3.07 L5.11,-2.77 L5.43,-2.42 L5.68,-2.01 L5.86,-1.54 L5.96,-0.96 Z" fill="none" stroke="#1e1e1e" stroke-width="0.7"/></g>
<g transform="translate(284.0,75.5) rotate(37)"><path d="M6.10,0.00 L6.06,0.95 L5.96,1.52 L5.78,1.99 L5.52,2.39 L5.20,2.73 L4.80,3.03 L4.33,3.28 L3.78,3.49 L3.15,3.65 L2.40,3.76 L1.50,3.83 L0.00,3.85 L-1.50,3.83 L-2.40,3.76 L-3.15,3.65 L-3.78,3.49 L-4.33,3.28 L-4.80,3.03 L-5.20,2.73 L-5.52,2.39 L-5.78,1.99 L-5.96,1.52 L-6.06,0.95 L-6.10,0.00 L-6.06,-0.95 L-5.96,-1.52 L-5.78,-1.99 L-5.52,-2.39 L-5.20,-2.73 L-4.80,-3.03 L-4.33,-3.28 L-3.78,-3.49 L-3.15,-3.65 L-2.40,-3.76 L-1.50,-3.83 L-0.00,-3.85 L1.50,-3.83 L2.40,-3.76 L3.15,-3.65 L3.78,-3.49 L4.33,-3.28 L4.80,-3.03 L5.20,-2.73 L5.52,-2.39 L5.78,-1.99 L5.96,-1.52 L6.06,-0.95 Z" fill="#c6f3f4"/><line x1="-4.27" y1="-1.93" x2="4.27" y2="-1.93" stroke="#000" stroke-opacity="0.14" stroke-width="0.5"/><line x1="-4.27" y1="1.93" x2="4.27" y2="1.93" stroke="#000" stroke-opacity="0.14" stroke-width="0.5"/><line x1="-5.18" y1="0" x2="5.18" y2="0" stroke="#1e1e1e" stroke-width="0.5"/><path d="M-1.1,0 L0,-0.8 L1.1,0 L0,0.8 Z" fill="#333"/><path d="M6.10,0.00 L6.06,0.95 L5.96,1.52 L5.78,1.99 L5.52,2.39 L5.20,2.73 L4.80,3.03 L4.33,3.28 L3.78,3.49 L3.15,3.65 L2.40,3.76 L1.50,3.83 L0.00,3.85 L-1.50,3.83 L-2.40,3.76 L-3.15,3.65 L-3.78,3.49 L-4.33,3.28 L-4.80,3.03 L-5.20,2.73 L-5.52,2.39 L-5.78,1.99 L-5.96,1.52 L-6.06,0.95 L-6.10,0.00 L-6.06,-0.95 L-5.96,-1.52 L-5.78,-1.99 L-5.52,-2.39 L-5.20,-2.73 L-4.80,-3.03 L-4.33,-3.28 L-3.78,-3.49 L-3.15,-3.65 L-2.40,-3.76 L-1.50,-3.83 L-0.00,-3.85 L1.50,-3.83 L2.40,-3.76 L3.15,-3.65 L3.78,-3.49 L4.33,-3.28 L4.80,-3.03 L5.20,-2.73 L5.52,-2.39 L5.78,-1.99 L5.96,-1.52 L6.06,-0.95 Z" fill="none" stroke="#1e1e1e" stroke-width="0.7"/></g>
<g transform="translate(299.5,74.9) rotate(-49)"><path d="M6.10,0.00 L6.06,0.95 L5.96,1.52 L5.78,1.99 L5.52,2.39 L5.20,2.73 L4.80,3.03 L4.33,3.28 L3.78,3.49 L3.15,3.65 L2.40,3.76 L1.50,3.83 L0.00,3.85 L-1.50,3.83 L-2.40,3.76 L-3.15,3.65 L-3.78,3.49 L-4.33,3.28 L-4.80,3.03 L-5.20,2.73 L-5.52,2.39 L-5.78,1.99 L-5.96,1.52 L-6.06,0.95 L-6.10,0.00 L-6.06,-0.95 L-5.96,-1.52 L-5.78,-1.99 L-5.52,-2.39 L-5.20,-2.73 L-4.80,-3.03 L-4.33,-3.28 L-3.78,-3.49 L-3.15,-3.65 L-2.40,-3.76 L-1.50,-3.83 L-0.00,-3.85 L1.50,-3.83 L2.40,-3.76 L3.15,-3.65 L3.78,-3.49 L4.33,-3.28 L4.80,-3.03 L5.20,-2.73 L5.52,-2.39 L5.78,-1.99 L5.96,-1.52 L6.06,-0.95 Z" fill="#c6f3f4"/><line x1="-4.27" y1="-1.93" x2="4.27" y2="-1.93" stroke="#000" stroke-opacity="0.14" stroke-width="0.5"/><line x1="-4.27" y1="1.93" x2="4.27" y2="1.93" stroke="#000" stroke-opacity="0.14" stroke-width="0.5"/><line x1="-5.18" y1="0" x2="5.18" y2="0" stroke="#1e1e1e" stroke-width="0.5"/><path d="M-1.1,0 L0,-0.8 L1.1,0 L0,0.8 Z" fill="#333"/><path d="M6.10,0.00 L6.06,0.95 L5.96,1.52 L5.78,1.99 L5.52,2.39 L5.20,2.73 L4.80,3.03 L4.33,3.28 L3.78,3.49 L3.15,3.65 L2.40,3.76 L1.50,3.83 L0.00,3.85 L-1.50,3.83 L-2.40,3.76 L-3.15,3.65 L-3.78,3.49 L-4.33,3.28 L-4.80,3.03 L-5.20,2.73 L-5.52,2.39 L-5.78,1.99 L-5.96,1.52 L-6.06,0.95 L-6.10,0.00 L-6.06,-0.95 L-5.96,-1.52 L-5.78,-1.99 L-5.52,-2.39 L-5.20,-2.73 L-4.80,-3.03 L-4.33,-3.28 L-3.78,-3.49 L-3.15,-3.65 L-2.40,-3.76 L-1.50,-3.83 L-0.00,-3.85 L1.50,-3.83 L2.40,-3.76 L3.15,-3.65 L3.78,-3.49 L4.33,-3.28 L4.80,-3.03 L5.20,-2.73 L5.52,-2.39 L5.78,-1.99 L5.96,-1.52 L6.06,-0.95 Z" fill="none" stroke="#1e1e1e" stroke-width="0.7"/></g>
<g transform="translate(292.1,85.4) rotate(90)"><path d="M6.00,0.00 L5.96,0.96 L5.86,1.54 L5.68,2.01 L5.43,2.42 L5.11,2.77 L4.72,3.07 L4.26,3.32 L3.72,3.53 L3.09,3.69 L2.36,3.81 L1.47,3.88 L0.00,3.90 L-1.47,3.88 L-2.36,3.81 L-3.09,3.69 L-3.72,3.53 L-4.26,3.32 L-4.72,3.07 L-5.11,2.77 L-5.43,2.42 L-5.68,2.01 L-5.86,1.54 L-5.96,0.96 L-6.00,0.00 L-5.96,-0.96 L-5.86,-1.54 L-5.68,-2.01 L-5.43,-2.42 L-5.11,-2.77 L-4.72,-3.07 L-4.26,-3.32 L-3.72,-3.53 L-3.09,-3.69 L-2.36,-3.81 L-1.47,-3.88 L-0.00,-3.90 L1.47,-3.88 L2.36,-3.81 L3.09,-3.69 L3.72,-3.53 L4.26,-3.32 L4.72,-3.07 L5.11,-2.77 L5.43,-2.42 L5.68,-2.01 L5.86,-1.54 L5.96,-0.96 Z" fill="#c6f3f4"/><line x1="-4.20" y1="-1.95" x2="4.20" y2="-1.95" stroke="#000" stroke-opacity="0.14" stroke-width="0.5"/><line x1="-4.20" y1="1.95" x2="4.20" y2="1.95" stroke="#000" stroke-opacity="0.14" stroke-width="0.5"/><line x1="-5.10" y1="0" x2="5.10" y2="0" stroke="#1e1e1e" stroke-width="0.5"/><path d="M-1.1,0 L0,-0.8 L1.1,0 L0,0.8 Z" fill="#333"/><path d="M6.00,0.00 L5.96,0.96 L5.86,1.54 L5.68,2.01 L5.43,2.42 L5.11,2.77 L4.72,3.07 L4.26,3.32 L3.72,3.53 L3.09,3.69 L2.36,3.81 L1.47,3.88 L0.00,3.90 L-1.47,3.88 L-2.36,3.81 L-3.09,3.69 L-3.72,3.53 L-4.26,3.32 L-4.72,3.07 L-5.11,2.77 L-5.43,2.42 L-5.68,2.01 L-5.86,1.54 L-5.96,0.96 L-6.00,0.00 L-5.96,-0.96 L-5.86,-1.54 L-5.68,-2.01 L-5.43,-2.42 L-5.11,-2.77 L-4.72,-3.07 L-4.26,-3.32 L-3.72,-3.53 L-3.09,-3.69 L-2.36,-3.81 L-1.47,-3.88 L-0.00,-3.90 L1.47,-3.88 L2.36,-3.81 L3.09,-3.69 L3.72,-3.53 L4.26,-3.32 L4.72,-3.07 L5.11,-2.77 L5.43,-2.42 L5.68,-2.01 L5.86,-1.54 L5.96,-0.96 Z" fill="none" stroke="#1e1e1e" stroke-width="0.7"/></g>
<g transform="translate(327.6,81.2) rotate(38)"><path d="M6.60,0.00 L6.56,0.88 L6.44,1.42 L6.25,1.86 L5.98,2.23 L5.63,2.56 L5.20,2.83 L4.69,3.07 L4.09,3.26 L3.40,3.41 L2.60,3.51 L1.62,3.58 L0.00,3.60 L-1.62,3.58 L-2.60,3.51 L-3.40,3.41 L-4.09,3.26 L-4.69,3.07 L-5.20,2.83 L-5.63,2.56 L-5.98,2.23 L-6.25,1.86 L-6.44,1.42 L-6.56,0.88 L-6.60,0.00 L-6.56,-0.88 L-6.44,-1.42 L-6.25,-1.86 L-5.98,-2.23 L-5.63,-2.56 L-5.20,-2.83 L-4.69,-3.07 L-4.09,-3.26 L-3.40,-3.41 L-2.60,-3.51 L-1.62,-3.58 L-0.00,-3.60 L1.62,-3.58 L2.60,-3.51 L3.40,-3.41 L4.09,-3.26 L4.69,-3.07 L5.20,-2.83 L5.63,-2.56 L5.98,-2.23 L6.25,-1.86 L6.44,-1.42 L6.56,-0.88 Z" fill="#3cc4f2"/><line x1="-4.62" y1="-1.80" x2="4.62" y2="-1.80" stroke="#000" stroke-opacity="0.14" stroke-width="0.5"/><line x1="-4.62" y1="1.80" x2="4.62" y2="1.80" stroke="#000" stroke-opacity="0.14" stroke-width="0.5"/><line x1="-5.61" y1="0" x2="5.61" y2="0" stroke="#1e1e1e" stroke-width="0.5"/><path d="M-1.1,0 L0,-0.8 L1.1,0 L0,0.8 Z" fill="#333"/><path d="M6.60,0.00 L6.56,0.88 L6.44,1.42 L6.25,1.86 L5.98,2.23 L5.63,2.56 L5.20,2.83 L4.69,3.07 L4.09,3.26 L3.40,3.41 L2.60,3.51 L1.62,3.58 L0.00,3.60 L-1.62,3.58 L-2.60,3.51 L-3.40,3.41 L-4.09,3.26 L-4.69,3.07 L-5.20,2.83 L-5.63,2.56 L-5.98,2.23 L-6.25,1.86 L-6.44,1.42 L-6.56,0.88 L-6.60,0.00 L-6.56,-0.88 L-6.44,-1.42 L-6.25,-1.86 L-5.98,-2.23 L-5.63,-2.56 L-5.20,-2.83 L-4.69,-3.07 L-4.09,-3.26 L-3.40,-3.41 L-2.60,-3.51 L-1.62,-3.58 L-0.00,-3.60 L1.62,-3.58 L2.60,-3.51 L3.40,-3.41 L4.09,-3.26 L4.69,-3.07 L5.20,-2.83 L5.63,-2.56 L5.98,-2.23 L6.25,-1.86 L6.44,-1.42 L6.56,-0.88 Z" fill="none" stroke="#1e1e1e" stroke-width="0.7"/></g>
<g transform="translate(342.6,80.0) rotate(-45)"><path d="M6.60,0.00 L6.56,0.88 L6.44,1.42 L6.25,1.86 L5.98,2.23 L5.63,2.56 L5.20,2.83 L4.69,3.07 L4.09,3.26 L3.40,3.41 L2.60,3.51 L1.62,3.58 L0.00,3.60 L-1.62,3.58 L-2.60,3.51 L-3.40,3.41 L-4.09,3.26 L-4.69,3.07 L-5.20,2.83 L-5.63,2.56 L-5.98,2.23 L-6.25,1.86 L-6.44,1.42 L-6.56,0.88 L-6.60,0.00 L-6.56,-0.88 L-6.44,-1.42 L-6.25,-1.86 L-5.98,-2.23 L-5.63,-2.56 L-5.20,-2.83 L-4.69,-3.07 L-4.09,-3.26 L-3.40,-3.41 L-2.60,-3.51 L-1.62,-3.58 L-0.00,-3.60 L1.62,-3.58 L2.60,-3.51 L3.40,-3.41 L4.09,-3.26 L4.69,-3.07 L5.20,-2.83 L5.63,-2.56 L5.98,-2.23 L6.25,-1.86 L6.44,-1.42 L6.56,-0.88 Z" fill="#c6f3f4"/><line x1="-4.62" y1="-1.80" x2="4.62" y2="-1.80" stroke="#000" stroke-opacity="0.14" stroke-width="0.5"/><line x1="-4.62" y1="1.80" x2="4.62" y2="1.80" stroke="#000" stroke-opacity="0.14" stroke-width="0.5"/><line x1="-5.61" y1="0" x2="5.61" y2="0" stroke="#1e1e1e" stroke-width="0.5"/><path d="M-1.1,0 L0,-0.8 L1.1,0 L0,0.8 Z" fill="#333"/><path d="M6.60,0.00 L6.56,0.88 L6.44,1.42 L6.25,1.86 L5.98,2.23 L5.63,2.56 L5.20,2.83 L4.69,3.07 L4.09,3.26 L3.40,3.41 L2.60,3.51 L1.62,3.58 L0.00,3.60 L-1.62,3.58 L-2.60,3.51 L-3.40,3.41 L-4.09,3.26 L-4.69,3.07 L-5.20,2.83 L-5.63,2.56 L-5.98,2.23 L-6.25,1.86 L-6.44,1.42 L-6.56,0.88 L-6.60,0.00 L-6.56,-0.88 L-6.44,-1.42 L-6.25,-1.86 L-5.98,-2.23 L-5.63,-2.56 L-5.20,-2.83 L-4.69,-3.07 L-4.09,-3.26 L-3.40,-3.41 L-2.60,-3.51 L-1.62,-3.58 L-0.00,-3.60 L1.62,-3.58 L2.60,-3.51 L3.40,-3.41 L4.09,-3.26 L4.69,-3.07 L5.20,-2.83 L5.63,-2.56 L5.98,-2.23 L6.25,-1.86 L6.44,-1.42 L6.56,-0.88 Z" fill="none" stroke="#1e1e1e" stroke-width="0.7"/></g>
<g transform="translate(335.3,91.6) rotate(90)"><path d="M6.10,-0.00 L6.06,-0.98 L5.96,-1.57 L5.78,-2.06 L5.52,-2.48 L5.20,-2.84 L4.80,-3.15 L4.33,-3.41 L3.78,-3.62 L3.15,-3.79 L2.40,-3.91 L1.50,-3.98 L0.00,-4.00 L-1.50,-3.98 L-2.40,-3.91 L-3.15,-3.79 L-3.78,-3.62 L-4.33,-3.41 L-4.80,-3.15 L-5.20,-2.84 L-5.52,-2.48 L-5.78,-2.06 L-5.96,-1.57 L-6.06,-0.98 L-6.10,-0.00 Z" fill="#c6f3f4"/><path d="M6.10,0.00 L6.06,0.98 L5.96,1.57 L5.78,2.06 L5.52,2.48 L5.20,2.84 L4.80,3.15 L4.33,3.41 L3.78,3.62 L3.15,3.79 L2.40,3.91 L1.50,3.98 L0.00,4.00 L-1.50,3.98 L-2.40,3.91 L-3.15,3.79 L-3.78,3.62 L-4.33,3.41 L-4.80,3.15 L-5.20,2.84 L-5.52,2.48 L-5.78,2.06 L-5.96,1.57 L-6.06,0.98 L-6.10,0.00 Z" fill="#3cc4f2"/><line x1="-4.27" y1="-2.00" x2="4.27" y2="-2.00" stroke="#000" stroke-opacity="0.14" stroke-width="0.5"/><line x1="-4.27" y1="2.00" x2="4.27" y2="2.00" stroke="#000" stroke-opacity="0.14" stroke-width="0.5"/><line x1="-5.18" y1="0" x2="5.18" y2="0" stroke="#1e1e1e" stroke-width="0.5"/><path d="M-1.1,0 L0,-0.8 L1.1,0 L0,0.8 Z" fill="#333"/><path d="M6.10,0.00 L6.06,0.98 L5.96,1.57 L5.78,2.06 L5.52,2.48 L5.20,2.84 L4.80,3.15 L4.33,3.41 L3.78,3.62 L3.15,3.79 L2.40,3.91 L1.50,3.98 L0.00,4.00 L-1.50,3.98 L-2.40,3.91 L-3.15,3.79 L-3.78,3.62 L-4.33,3.41 L-4.80,3.15 L-5.20,2.84 L-5.52,2.48 L-5.78,2.06 L-5.96,1.57 L-6.06,0.98 L-6.10,0.00 L-6.06,-0.98 L-5.96,-1.57 L-5.78,-2.06 L-5.52,-2.48 L-5.20,-2.84 L-4.80,-3.15 L-4.33,-3.41 L-3.78,-3.62 L-3.15,-3.79 L-2.40,-3.91 L-1.50,-3.98 L-0.00,-4.00 L1.50,-3.98 L2.40,-3.91 L3.15,-3.79 L3.78,-3.62 L4.33,-3.41 L4.80,-3.15 L5.20,-2.84 L5.52,-2.48 L5.78,-2.06 L5.96,-1.57 L6.06,-0.98 Z" fill="none" stroke="#1e1e1e" stroke-width="0.7"/></g>
<g transform="translate(331.7,109.3) rotate(33)"><path d="M6.60,0.00 L6.56,0.91 L6.44,1.46 L6.25,1.91 L5.98,2.29 L5.63,2.63 L5.20,2.91 L4.69,3.15 L4.09,3.35 L3.40,3.50 L2.60,3.61 L1.62,3.68 L0.00,3.70 L-1.62,3.68 L-2.60,3.61 L-3.40,3.50 L-4.09,3.35 L-4.69,3.15 L-5.20,2.91 L-5.63,2.63 L-5.98,2.29 L-6.25,1.91 L-6.44,1.46 L-6.56,0.91 L-6.60,0.00 L-6.56,-0.91 L-6.44,-1.46 L-6.25,-1.91 L-5.98,-2.29 L-5.63,-2.63 L-5.20,-2.91 L-4.69,-3.15 L-4.09,-3.35 L-3.40,-3.50 L-2.60,-3.61 L-1.62,-3.68 L-0.00,-3.70 L1.62,-3.68 L2.60,-3.61 L3.40,-3.50 L4.09,-3.35 L4.69,-3.15 L5.20,-2.91 L5.63,-2.63 L5.98,-2.29 L6.25,-1.91 L6.44,-1.46 L6.56,-0.91 Z" fill="#3cc4f2"/><line x1="-4.62" y1="-1.85" x2="4.62" y2="-1.85" stroke="#000" stroke-opacity="0.14" stroke-width="0.5"/><line x1="-4.62" y1="1.85" x2="4.62" y2="1.85" stroke="#000" stroke-opacity="0.14" stroke-width="0.5"/><line x1="-5.61" y1="0" x2="5.61" y2="0" stroke="#1e1e1e" stroke-width="0.5"/><path d="M-1.1,0 L0,-0.8 L1.1,0 L0,0.8 Z" fill="#333"/><path d="M6.60,0.00 L6.56,0.91 L6.44,1.46 L6.25,1.91 L5.98,2.29 L5.63,2.63 L5.20,2.91 L4.69,3.15 L4.09,3.35 L3.40,3.50 L2.60,3.61 L1.62,3.68 L0.00,3.70 L-1.62,3.68 L-2.60,3.61 L-3.40,3.50 L-4.09,3.35 L-4.69,3.15 L-5.20,2.91 L-5.63,2.63 L-5.98,2.29 L-6.25,1.91 L-6.44,1.46 L-6.56,0.91 L-6.60,0.00 L-6.56,-0.91 L-6.44,-1.46 L-6.25,-1.91 L-5.98,-2.29 L-5.63,-2.63 L-5.20,-2.91 L-4.69,-3.15 L-4.09,-3.35 L-3.40,-3.50 L-2.60,-3.61 L-1.62,-3.68 L-0.00,-3.70 L1.62,-3.68 L2.60,-3.61 L3.40,-3.50 L4.09,-3.35 L4.69,-3.15 L5.20,-2.91 L5.63,-2.63 L5.98,-2.29 L6.25,-1.91 L6.44,-1.46 L6.56,-0.91 Z" fill="none" stroke="#1e1e1e" stroke-width="0.7"/></g>
<g transform="translate(339.8,118.4) rotate(90)"><path d="M6.20,-0.00 L6.16,-0.98 L6.05,-1.57 L5.87,-2.06 L5.61,-2.48 L5.29,-2.84 L4.88,-3.15 L4.40,-3.41 L3.84,-3.62 L3.20,-3.79 L2.44,-3.91 L1.52,-3.98 L0.00,-4.00 L-1.52,-3.98 L-2.44,-3.91 L-3.20,-3.79 L-3.84,-3.62 L-4.40,-3.41 L-4.88,-3.15 L-5.29,-2.84 L-5.61,-2.48 L-5.87,-2.06 L-6.05,-1.57 L-6.16,-0.98 L-6.20,-0.00 Z" fill="#62e2de"/><path d="M6.20,0.00 L6.16,0.98 L6.05,1.57 L5.87,2.06 L5.61,2.48 L5.29,2.84 L4.88,3.15 L4.40,3.41 L3.84,3.62 L3.20,3.79 L2.44,3.91 L1.52,3.98 L0.00,4.00 L-1.52,3.98 L-2.44,3.91 L-3.20,3.79 L-3.84,3.62 L-4.40,3.41 L-4.88,3.15 L-5.29,2.84 L-5.61,2.48 L-5.87,2.06 L-6.05,1.57 L-6.16,0.98 L-6.20,0.00 Z" fill="#3cc4f2"/><line x1="-4.34" y1="-2.00" x2="4.34" y2="-2.00" stroke="#000" stroke-opacity="0.14" stroke-width="0.5"/><line x1="-4.34" y1="2.00" x2="4.34" y2="2.00" stroke="#000" stroke-opacity="0.14" stroke-width="0.5"/><line x1="-5.27" y1="0" x2="5.27" y2="0" stroke="#1e1e1e" stroke-width="0.5"/><path d="M-1.1,0 L0,-0.8 L1.1,0 L0,0.8 Z" fill="#333"/><path d="M6.20,0.00 L6.16,0.98 L6.05,1.57 L5.87,2.06 L5.61,2.48 L5.29,2.84 L4.88,3.15 L4.40,3.41 L3.84,3.62 L3.20,3.79 L2.44,3.91 L1.52,3.98 L0.00,4.00 L-1.52,3.98 L-2.44,3.91 L-3.20,3.79 L-3.84,3.62 L-4.40,3.41 L-4.88,3.15 L-5.29,2.84 L-5.61,2.48 L-5.87,2.06 L-6.05,1.57 L-6.16,0.98 L-6.20,0.00 L-6.16,-0.98 L-6.05,-1.57 L-5.87,-2.06 L-5.61,-2.48 L-5.29,-2.84 L-4.88,-3.15 L-4.40,-3.41 L-3.84,-3.62 L-3.20,-3.79 L-2.44,-3.91 L-1.52,-3.98 L-0.00,-4.00 L1.52,-3.98 L2.44,-3.91 L3.20,-3.79 L3.84,-3.62 L4.40,-3.41 L4.88,-3.15 L5.29,-2.84 L5.61,-2.48 L5.87,-2.06 L6.05,-1.57 L6.16,-0.98 Z" fill="none" stroke="#1e1e1e" stroke-width="0.7"/></g>
<g transform="translate(291.0,115.8) rotate(90)"><path d="M6.10,0.00 L6.06,0.96 L5.96,1.54 L5.78,2.01 L5.52,2.42 L5.20,2.77 L4.80,3.07 L4.33,3.32 L3.78,3.53 L3.15,3.69 L2.40,3.81 L1.50,3.88 L0.00,3.90 L-1.50,3.88 L-2.40,3.81 L-3.15,3.69 L-3.78,3.53 L-4.33,3.32 L-4.80,3.07 L-5.20,2.77 L-5.52,2.42 L-5.78,2.01 L-5.96,1.54 L-6.06,0.96 L-6.10,0.00 L-6.06,-0.96 L-5.96,-1.54 L-5.78,-2.01 L-5.52,-2.42 L-5.20,-2.77 L-4.80,-3.07 L-4.33,-3.32 L-3.78,-3.53 L-3.15,-3.69 L-2.40,-3.81 L-1.50,-3.88 L-0.00,-3.90 L1.50,-3.88 L2.40,-3.81 L3.15,-3.69 L3.78,-3.53 L4.33,-3.32 L4.80,-3.07 L5.20,-2.77 L5.52,-2.42 L5.78,-2.01 L5.96,-1.54 L6.06,-0.96 Z" fill="#62e2de"/><line x1="-4.27" y1="-1.95" x2="4.27" y2="-1.95" stroke="#000" stroke-opacity="0.14" stroke-width="0.5"/><line x1="-4.27" y1="1.95" x2="4.27" y2="1.95" stroke="#000" stroke-opacity="0.14" stroke-width="0.5"/><line x1="-5.18" y1="0" x2="5.18" y2="0" stroke="#1e1e1e" stroke-width="0.5"/><path d="M-1.1,0 L0,-0.8 L1.1,0 L0,0.8 Z" fill="#333"/><path d="M6.10,0.00 L6.06,0.96 L5.96,1.54 L5.78,2.01 L5.52,2.42 L5.20,2.77 L4.80,3.07 L4.33,3.32 L3.78,3.53 L3.15,3.69 L2.40,3.81 L1.50,3.88 L0.00,3.90 L-1.50,3.88 L-2.40,3.81 L-3.15,3.69 L-3.78,3.53 L-4.33,3.32 L-4.80,3.07 L-5.20,2.77 L-5.52,2.42 L-5.78,2.01 L-5.96,1.54 L-6.06,0.96 L-6.10,0.00 L-6.06,-0.96 L-5.96,-1.54 L-5.78,-2.01 L-5.52,-2.42 L-5.20,-2.77 L-4.80,-3.07 L-4.33,-3.32 L-3.78,-3.53 L-3.15,-3.69 L-2.40,-3.81 L-1.50,-3.88 L-0.00,-3.90 L1.50,-3.88 L2.40,-3.81 L3.15,-3.69 L3.78,-3.53 L4.33,-3.32 L4.80,-3.07 L5.20,-2.77 L5.52,-2.42 L5.78,-2.01 L5.96,-1.54 L6.06,-0.96 Z" fill="none" stroke="#1e1e1e" stroke-width="0.7"/></g>
<path d="M212.3,51.6 L238.6,51.6 C241.6,51.6 242.2,54.4 245.4,54.4 C248.6,54.4 249.2,51.6 252.2,51.6 L287.5,51.6 Q291.4,51.6 291.4,55.5 L291.4,64.5" fill="none" stroke="#333" stroke-width="0.9"/>
<path d="M291.4,67.8 L290.0,64.3 L292.8,64.3 Z" fill="#333"/>
<path d="M326.2,23.2 L249.4,23.2 Q245.4,23.2 245.4,27.2 L245.4,66" fill="none" stroke="#333" stroke-width="0.9"/>
<path d="M245.4,69.4 L244.0,65.9 L246.8,65.9 Z" fill="#333"/>
<text x="329.2" y="25.3" font-size="6.6" text-anchor="start" font-weight="normal" fill="#222" textLength="100.6" lengthAdjust="spacingAndGlyphs"  stroke="#222" stroke-width="0.12">Design of new anti-FIXa mAbs</text>
<path d="M431,23.2 L508.6,23.2 Q512.4,23.2 512.4,27 L512.4,111.5 Q512.4,115.4 508.6,115.4 L500.5,115.4" fill="none" stroke="#333" stroke-width="0.9"/>
<path d="M503.6,90.2 L504.8,90.2 Q506.3,90.2 506.3,91.7 L506.3,139 Q506.3,140.5 504.8,140.5 L503.6,140.5" fill="none" stroke="#333" stroke-width="0.9"/>
<line x1="210.8" y1="99.7" x2="221.50" y2="99.70" stroke="#222" stroke-width="0.9"/>
<path d="M224,99.7 L221.20,101.10 L221.20,98.30 Z" fill="#222"/>
<path d="M268,98.6 L300,98.6 C308,98.6 312,96 316,92.5" fill="none" stroke="#333" stroke-width="0.9"/>
<path d="M268,100.4 L300,100.4 C308,100.4 312,103 316,106.6" fill="none" stroke="#333" stroke-width="0.9"/>
<path d="M318.2,90.8 L314.4,91.6 L316.2,94.2 Z" fill="#333"/>
<path d="M318.2,108.2 L314.4,107.4 L316.2,104.8 Z" fill="#333"/>
<path d="M245.6,118.4 L245.6,137.3 Q245.6,141.3 249.6,141.3 L339,141.3" fill="none" stroke="#333" stroke-width="0.9"/>
<path d="M342.2,141.3 L338.6,139.9 L338.6,142.7 Z" fill="#333"/>
<text x="346" y="91.6" font-size="6.8" text-anchor="start" font-weight="normal" fill="#222" textLength="14.8" lengthAdjust="spacingAndGlyphs"  stroke="#222" stroke-width="0.12">biAb</text>
<text x="349.7" y="117.3" font-size="6.8" text-anchor="start" font-weight="normal" fill="#222" textLength="11" lengthAdjust="spacingAndGlyphs"  stroke="#222" stroke-width="0.12">OA</text>
<text x="345.8" y="143.0" font-size="6.8" text-anchor="start" font-weight="normal" fill="#222" textLength="15" lengthAdjust="spacingAndGlyphs"  stroke="#222" stroke-width="0.12">mAb</text>
<text x="380" y="35.3" font-size="6.8" text-anchor="start" font-weight="normal" fill="#222" textLength="36" lengthAdjust="spacingAndGlyphs"  stroke="#222" stroke-width="0.12">All variants</text>
<text x="443.8" y="34.8" font-size="6.8" text-anchor="start" font-weight="normal" fill="#222" textLength="56.2" lengthAdjust="spacingAndGlyphs"  stroke="#222" stroke-width="0.12">Selected variants</text>
<rect x="362" y="37" width="16.2" height="111" rx="3" fill="#c3e8ee"/>
<rect x="386.4" y="37" width="51.6" height="111" rx="3" fill="#c3e8ee"/>
<rect x="446.4" y="37" width="51.8" height="111.2" rx="3" fill="#c3e8ee"/>
<text transform="translate(374.4,84.6) rotate(-90)" font-size="6.4" text-anchor="start" font-weight="normal" fill="#222" textLength="42.3" lengthAdjust="spacingAndGlyphs"  stroke="#222" stroke-width="0.12">Quality control</text>
<text transform="translate(395.2,84.6) rotate(-90)" font-size="6.4" text-anchor="start" font-weight="normal" fill="#222" textLength="36.9" lengthAdjust="spacingAndGlyphs"  stroke="#222" stroke-width="0.12">anti-FIXa OA</text>
<text transform="translate(403.6,84.6) rotate(-90)" font-size="6.4" text-anchor="start" font-weight="normal" fill="#222" textLength="31.6" lengthAdjust="spacingAndGlyphs"  stroke="#222" stroke-width="0.12">stimulation</text>
<text transform="translate(415.8,84.6) rotate(-90)" font-size="6.4" text-anchor="start" font-weight="normal" fill="#222" textLength="10.8" lengthAdjust="spacingAndGlyphs"  stroke="#222" stroke-width="0.12">TGT</text>
<text transform="translate(431.3,84.6) rotate(-90)" font-size="6.4" text-anchor="start" font-weight="normal" fill="#222" textLength="34.6" lengthAdjust="spacingAndGlyphs"  stroke="#222" stroke-width="0.12">AC-SINS + T</text>
<text transform="translate(432.8,49.9) rotate(-90)" font-size="3.8" text-anchor="start" font-weight="normal" fill="#222"  stroke="#222" stroke-width="0.12">m</text>
<text transform="translate(458.6,84.6) rotate(-90)" font-size="6.4" text-anchor="start" font-weight="normal" fill="#222" textLength="20" lengthAdjust="spacingAndGlyphs"  stroke="#222" stroke-width="0.12">Affinity</text>
<text transform="translate(474.8,84.6) rotate(-90)" font-size="6.4" text-anchor="start" font-weight="normal" fill="#222" textLength="24.6" lengthAdjust="spacingAndGlyphs"  stroke="#222" stroke-width="0.12">Viscosity</text>
<text transform="translate(490.8,84.6) rotate(-90)" font-size="6.4" text-anchor="start" font-weight="normal" fill="#222" textLength="31.6" lengthAdjust="spacingAndGlyphs"  stroke="#222" stroke-width="0.12">X-ray struc.</text>
<line x1="363.6" y1="89.9" x2="377.2" y2="89.9" stroke="#4a4f50" stroke-width="1.1"/>
<line x1="378.2" y1="89.9" x2="386.4" y2="89.9" stroke="#4a4f50" stroke-width="1.0" stroke-dasharray="1,0.9"/>
<line x1="388" y1="89.9" x2="435.8" y2="89.9" stroke="#4a4f50" stroke-width="1.1"/>
<line x1="437" y1="89.9" x2="446" y2="89.9" stroke="#4a4f50" stroke-width="1.0" stroke-dasharray="1,0.9"/>
<line x1="448" y1="89.9" x2="495.2" y2="89.9" stroke="#4a4f50" stroke-width="1.1"/>
<circle cx="370.8" cy="89.9" r="2.5" fill="#d0021b"/>
<circle cx="413.6" cy="89.9" r="2.5" fill="#d0021b"/>
<circle cx="455.5" cy="89.9" r="2.5" fill="#d0021b"/>
<circle cx="471.6" cy="89.9" r="2.5" fill="#d0021b"/>
<line x1="363.6" y1="115.3" x2="377.2" y2="115.3" stroke="#4a4f50" stroke-width="1.1"/>
<line x1="378.2" y1="115.3" x2="386.4" y2="115.3" stroke="#4a4f50" stroke-width="1.0" stroke-dasharray="1,0.9"/>
<line x1="388" y1="115.3" x2="435.8" y2="115.3" stroke="#4a4f50" stroke-width="1.1"/>
<line x1="437" y1="115.3" x2="446" y2="115.3" stroke="#4a4f50" stroke-width="1.0" stroke-dasharray="1,0.9"/>
<line x1="448" y1="115.3" x2="495.2" y2="115.3" stroke="#4a4f50" stroke-width="1.1"/>
<circle cx="370.8" cy="115.3" r="2.5" fill="#d0021b"/>
<circle cx="397.2" cy="115.3" r="2.5" fill="#d0021b"/>
<circle cx="455.7" cy="115.3" r="2.5" fill="#d0021b"/>
<circle cx="488.5" cy="115.3" r="2.5" fill="#d0021b"/>
<line x1="363.6" y1="140.6" x2="377.2" y2="140.6" stroke="#4a4f50" stroke-width="1.1"/>
<line x1="378.2" y1="140.6" x2="386.4" y2="140.6" stroke="#4a4f50" stroke-width="1.0" stroke-dasharray="1,0.9"/>
<line x1="388" y1="140.6" x2="435.8" y2="140.6" stroke="#4a4f50" stroke-width="1.1"/>
<line x1="437" y1="140.6" x2="446" y2="140.6" stroke="#4a4f50" stroke-width="1.0" stroke-dasharray="1,0.9"/>
<line x1="448" y1="140.6" x2="495.2" y2="140.6" stroke="#4a4f50" stroke-width="1.1"/>
<circle cx="370.8" cy="140.6" r="2.5" fill="#d0021b"/>
<circle cx="430.2" cy="140.6" r="2.5" fill="#d0021b"/>
<circle cx="455.5" cy="140.6" r="2.5" fill="#d0021b"/>
<circle cx="471.6" cy="140.6" r="2.5" fill="#d0021b"/>
<text x="7.6" y="169.6" font-size="11" text-anchor="start" font-weight="bold" fill="#111" >C</text>
<text transform="translate(22.2,205.6) rotate(-90)" font-size="8.2" text-anchor="middle" font-weight="normal" fill="#333" textLength="22.6" lengthAdjust="spacingAndGlyphs"  stroke="#333" stroke-width="0.12">Unique</text>
<text transform="translate(33.6,206.0) rotate(-90)" font-size="8.2" text-anchor="middle" font-weight="normal" fill="#333" textLength="42.8" lengthAdjust="spacingAndGlyphs"  stroke="#333" stroke-width="0.12">substitutions</text>
<line x1="53.2" y1="175.29999999999998" x2="53.2" y2="233.2" stroke="#111" stroke-width="1.1"/>
<line x1="50.6" y1="232.60" x2="53.2" y2="232.60" stroke="#111" stroke-width="0.8"/>
<line x1="51.300000000000004" y1="229.75" x2="53.2" y2="229.75" stroke="#111" stroke-width="0.65"/>
<line x1="51.300000000000004" y1="226.91" x2="53.2" y2="226.91" stroke="#111" stroke-width="0.65"/>
<line x1="51.300000000000004" y1="224.06" x2="53.2" y2="224.06" stroke="#111" stroke-width="0.65"/>
<line x1="51.300000000000004" y1="221.22" x2="53.2" y2="221.22" stroke="#111" stroke-width="0.65"/>
<line x1="50.6" y1="218.38" x2="53.2" y2="218.38" stroke="#111" stroke-width="0.8"/>
<line x1="51.300000000000004" y1="215.53" x2="53.2" y2="215.53" stroke="#111" stroke-width="0.65"/>
<line x1="51.300000000000004" y1="212.69" x2="53.2" y2="212.69" stroke="#111" stroke-width="0.65"/>
<line x1="51.300000000000004" y1="209.84" x2="53.2" y2="209.84" stroke="#111" stroke-width="0.65"/>
<line x1="51.300000000000004" y1="207.00" x2="53.2" y2="207.00" stroke="#111" stroke-width="0.65"/>
<line x1="50.6" y1="204.15" x2="53.2" y2="204.15" stroke="#111" stroke-width="0.8"/>
<line x1="51.300000000000004" y1="201.31" x2="53.2" y2="201.31" stroke="#111" stroke-width="0.65"/>
<line x1="51.300000000000004" y1="198.46" x2="53.2" y2="198.46" stroke="#111" stroke-width="0.65"/>
<line x1="51.300000000000004" y1="195.62" x2="53.2" y2="195.62" stroke="#111" stroke-width="0.65"/>
<line x1="51.300000000000004" y1="192.77" x2="53.2" y2="192.77" stroke="#111" stroke-width="0.65"/>
<line x1="50.6" y1="189.92" x2="53.2" y2="189.92" stroke="#111" stroke-width="0.8"/>
<line x1="51.300000000000004" y1="187.08" x2="53.2" y2="187.08" stroke="#111" stroke-width="0.65"/>
<line x1="51.300000000000004" y1="184.23" x2="53.2" y2="184.23" stroke="#111" stroke-width="0.65"/>
<line x1="51.300000000000004" y1="181.39" x2="53.2" y2="181.39" stroke="#111" stroke-width="0.65"/>
<line x1="51.300000000000004" y1="178.54" x2="53.2" y2="178.54" stroke="#111" stroke-width="0.65"/>
<line x1="50.6" y1="175.70" x2="53.2" y2="175.70" stroke="#111" stroke-width="0.8"/>
<line x1="52.7" y1="232.6" x2="278.6" y2="232.6" stroke="#111" stroke-width="1.1"/>
<line x1="53.5" y1="232.6" x2="53.5" y2="234.4" stroke="#111" stroke-width="0.6"/>
<text x="53.5" y="242.2" font-size="7.9" text-anchor="middle" font-weight="normal" fill="#111"  stroke="#111" stroke-width="0.12">0</text>
<line x1="108.6" y1="232.6" x2="108.6" y2="234.4" stroke="#111" stroke-width="0.6"/>
<text x="108.6" y="242.2" font-size="7.9" text-anchor="middle" font-weight="normal" fill="#111"  stroke="#111" stroke-width="0.12">30</text>
<line x1="163.6" y1="232.6" x2="163.6" y2="234.4" stroke="#111" stroke-width="0.6"/>
<text x="163.6" y="242.2" font-size="7.9" text-anchor="middle" font-weight="normal" fill="#111"  stroke="#111" stroke-width="0.12">60</text>
<line x1="218.6" y1="232.6" x2="218.6" y2="234.4" stroke="#111" stroke-width="0.6"/>
<text x="218.6" y="242.2" font-size="7.9" text-anchor="middle" font-weight="normal" fill="#111"  stroke="#111" stroke-width="0.12">90</text>
<line x1="277.6" y1="232.6" x2="277.6" y2="234.4" stroke="#111" stroke-width="0.6"/>
<text x="277.6" y="242.2" font-size="7.9" text-anchor="middle" font-weight="normal" fill="#111"  stroke="#111" stroke-width="0.12">122</text>
<line x1="296.6" y1="175.29999999999998" x2="296.6" y2="233.2" stroke="#111" stroke-width="1.1"/>
<line x1="294.0" y1="232.60" x2="296.6" y2="232.60" stroke="#111" stroke-width="0.8"/>
<line x1="294.70000000000005" y1="229.75" x2="296.6" y2="229.75" stroke="#111" stroke-width="0.65"/>
<line x1="294.70000000000005" y1="226.91" x2="296.6" y2="226.91" stroke="#111" stroke-width="0.65"/>
<line x1="294.70000000000005" y1="224.06" x2="296.6" y2="224.06" stroke="#111" stroke-width="0.65"/>
<line x1="294.70000000000005" y1="221.22" x2="296.6" y2="221.22" stroke="#111" stroke-width="0.65"/>
<line x1="294.0" y1="218.38" x2="296.6" y2="218.38" stroke="#111" stroke-width="0.8"/>
<line x1="294.70000000000005" y1="215.53" x2="296.6" y2="215.53" stroke="#111" stroke-width="0.65"/>
<line x1="294.70000000000005" y1="212.69" x2="296.6" y2="212.69" stroke="#111" stroke-width="0.65"/>
<line x1="294.70000000000005" y1="209.84" x2="296.6" y2="209.84" stroke="#111" stroke-width="0.65"/>
<line x1="294.70000000000005" y1="207.00" x2="296.6" y2="207.00" stroke="#111" stroke-width="0.65"/>
<line x1="294.0" y1="204.15" x2="296.6" y2="204.15" stroke="#111" stroke-width="0.8"/>
<line x1="294.70000000000005" y1="201.31" x2="296.6" y2="201.31" stroke="#111" stroke-width="0.65"/>
<line x1="294.70000000000005" y1="198.46" x2="296.6" y2="198.46" stroke="#111" stroke-width="0.65"/>
<line x1="294.70000000000005" y1="195.62" x2="296.6" y2="195.62" stroke="#111" stroke-width="0.65"/>
<line x1="294.70000000000005" y1="192.77" x2="296.6" y2="192.77" stroke="#111" stroke-width="0.65"/>
<line x1="294.0" y1="189.92" x2="296.6" y2="189.92" stroke="#111" stroke-width="0.8"/>
<line x1="294.70000000000005" y1="187.08" x2="296.6" y2="187.08" stroke="#111" stroke-width="0.65"/>
<line x1="294.70000000000005" y1="184.23" x2="296.6" y2="184.23" stroke="#111" stroke-width="0.65"/>
<line x1="294.70000000000005" y1="181.39" x2="296.6" y2="181.39" stroke="#111" stroke-width="0.65"/>
<line x1="294.70000000000005" y1="178.54" x2="296.6" y2="178.54" stroke="#111" stroke-width="0.65"/>
<line x1="294.0" y1="175.70" x2="296.6" y2="175.70" stroke="#111" stroke-width="0.8"/>
<line x1="296.1" y1="232.6" x2="497" y2="232.6" stroke="#111" stroke-width="1.1"/>
<line x1="296.6" y1="232.6" x2="296.6" y2="234.4" stroke="#111" stroke-width="0.6"/>
<text x="296.6" y="242.2" font-size="7.9" text-anchor="middle" font-weight="normal" fill="#111"  stroke="#111" stroke-width="0.12">0</text>
<line x1="351.6" y1="232.6" x2="351.6" y2="234.4" stroke="#111" stroke-width="0.6"/>
<text x="351.6" y="242.2" font-size="7.9" text-anchor="middle" font-weight="normal" fill="#111"  stroke="#111" stroke-width="0.12">30</text>
<line x1="406.6" y1="232.6" x2="406.6" y2="234.4" stroke="#111" stroke-width="0.6"/>
<text x="406.6" y="242.2" font-size="7.9" text-anchor="middle" font-weight="normal" fill="#111"  stroke="#111" stroke-width="0.12">60</text>
<line x1="461.6" y1="232.6" x2="461.6" y2="234.4" stroke="#111" stroke-width="0.6"/>
<text x="461.6" y="242.2" font-size="7.9" text-anchor="middle" font-weight="normal" fill="#111"  stroke="#111" stroke-width="0.12">90</text>
<line x1="492.4" y1="232.6" x2="492.4" y2="234.4" stroke="#111" stroke-width="0.6"/>
<text x="492.4" y="242.2" font-size="7.9" text-anchor="middle" font-weight="normal" fill="#111"  stroke="#111" stroke-width="0.12">107</text>
<text x="49.6" y="235.4" font-size="8.0" text-anchor="end" font-weight="normal" fill="#111"  stroke="#111" stroke-width="0.12">0</text>
<text x="49.6" y="221.175" font-size="8.0" text-anchor="end" font-weight="normal" fill="#111"  stroke="#111" stroke-width="0.12">5</text>
<text x="49.6" y="206.95" font-size="8.0" text-anchor="end" font-weight="normal" fill="#111"  stroke="#111" stroke-width="0.12">10</text>
<text x="49.6" y="192.725" font-size="8.0" text-anchor="end" font-weight="normal" fill="#111"  stroke="#111" stroke-width="0.12">15</text>
<text x="49.6" y="178.5" font-size="8.0" text-anchor="end" font-weight="normal" fill="#111"  stroke="#111" stroke-width="0.12">20</text>
<text x="58.2" y="183.6" font-size="7.2" text-anchor="start" font-weight="normal" fill="#222"  stroke="#222" stroke-width="0.12">V</text>
<text x="62.6" y="186.2" font-size="3.4" text-anchor="start" font-weight="normal" fill="#222"  stroke="#222" stroke-width="0.12">H</text>
<text x="301.4" y="183.6" font-size="7.2" text-anchor="start" font-weight="normal" fill="#222"  stroke="#222" stroke-width="0.12">V</text>
<text x="306.0" y="186.2" font-size="3.4" text-anchor="start" font-weight="normal" fill="#222"  stroke="#222" stroke-width="0.12">L</text>
<text x="274.8" y="252.5" font-size="9.6" text-anchor="start" font-weight="normal" fill="#333" textLength="26.0" lengthAdjust="spacingAndGlyphs"  stroke="#333" stroke-width="0.12">Position</text>
<rect x="110.9" y="172.8" width="6.699999999999989" height="59.79999999999998" fill="#d5dde0"/>
<rect x="146.0" y="172.8" width="29.0" height="59.79999999999998" fill="#d5dde0"/>
<rect x="235.2" y="172.8" width="22.600000000000023" height="59.79999999999998" fill="#d5dde0"/>
<rect x="340.0" y="172.8" width="18.80000000000001" height="59.79999999999998" fill="#d5dde0"/>
<rect x="387.7" y="172.8" width="11.300000000000011" height="59.79999999999998" fill="#d5dde0"/>
<rect x="459.4" y="172.8" width="14.5" height="59.79999999999998" fill="#d5dde0"/>
<rect x="298.00" y="229.75" width="1.80" height="2.85" fill="#48cdf0" stroke="#245f72" stroke-width="0.6"/>
<rect x="299.80" y="229.75" width="1.60" height="2.85" fill="#48cdf0" stroke="#245f72" stroke-width="0.6"/>
<rect x="302.90" y="229.75" width="1.90" height="2.85" fill="#48cdf0" stroke="#245f72" stroke-width="0.6"/>
<rect x="304.80" y="229.75" width="1.80" height="2.85" fill="#48cdf0" stroke="#245f72" stroke-width="0.6"/>
<rect x="306.60" y="229.75" width="1.90" height="2.85" fill="#48cdf0" stroke="#245f72" stroke-width="0.6"/>
<rect x="310.00" y="229.75" width="2.00" height="2.85" fill="#48cdf0" stroke="#245f72" stroke-width="0.6"/>
<rect x="312.00" y="229.75" width="2.20" height="2.85" fill="#48cdf0" stroke="#245f72" stroke-width="0.6"/>
<rect x="314.20" y="229.75" width="2.10" height="2.85" fill="#48cdf0" stroke="#245f72" stroke-width="0.6"/>
<rect x="323.40" y="229.75" width="2.00" height="2.85" fill="#48cdf0" stroke="#245f72" stroke-width="0.6"/>
<rect x="328.70" y="223.21" width="2.20" height="9.39" fill="#48cdf0" stroke="#245f72" stroke-width="0.6"/>
<rect x="336.10" y="229.75" width="2.10" height="2.85" fill="#48cdf0" stroke="#245f72" stroke-width="0.6"/>
<rect x="342.90" y="177.41" width="2.40" height="55.19" fill="#48cdf0" stroke="#245f72" stroke-width="0.6"/>
<rect x="345.30" y="183.67" width="2.10" height="48.93" fill="#48cdf0" stroke="#245f72" stroke-width="0.6"/>
<rect x="347.40" y="181.11" width="2.00" height="51.49" fill="#48cdf0" stroke="#245f72" stroke-width="0.6"/>
<rect x="350.20" y="177.41" width="2.40" height="55.19" fill="#48cdf0" stroke="#245f72" stroke-width="0.6"/>
<rect x="352.60" y="186.23" width="1.60" height="46.37" fill="#48cdf0" stroke="#245f72" stroke-width="0.6"/>
<rect x="354.20" y="180.54" width="2.10" height="52.06" fill="#48cdf0" stroke="#245f72" stroke-width="0.6"/>
<rect x="378.00" y="226.91" width="1.80" height="5.69" fill="#48cdf0" stroke="#245f72" stroke-width="0.6"/>
<rect x="379.80" y="218.38" width="2.30" height="14.23" fill="#48cdf0" stroke="#245f72" stroke-width="0.6"/>
<rect x="387.40" y="180.54" width="2.00" height="52.06" fill="#48cdf0" stroke="#245f72" stroke-width="0.6"/>
<rect x="389.40" y="212.69" width="1.60" height="19.92" fill="#48cdf0" stroke="#245f72" stroke-width="0.6"/>
<rect x="391.00" y="184.23" width="1.90" height="48.37" fill="#48cdf0" stroke="#245f72" stroke-width="0.6"/>
<rect x="392.90" y="177.98" width="2.10" height="54.62" fill="#48cdf0" stroke="#245f72" stroke-width="0.6"/>
<rect x="395.00" y="206.43" width="2.10" height="26.17" fill="#48cdf0" stroke="#245f72" stroke-width="0.6"/>
<rect x="397.10" y="180.54" width="3.50" height="52.06" fill="#48cdf0" stroke="#245f72" stroke-width="0.6"/>
<rect x="400.60" y="208.70" width="1.70" height="23.90" fill="#48cdf0" stroke="#245f72" stroke-width="0.6"/>
<rect x="402.30" y="175.70" width="2.40" height="56.90" fill="#48cdf0" stroke="#245f72" stroke-width="0.6"/>
<rect x="405.80" y="215.53" width="2.40" height="17.07" fill="#48cdf0" stroke="#245f72" stroke-width="0.6"/>
<rect x="411.10" y="229.75" width="2.20" height="2.85" fill="#48cdf0" stroke="#245f72" stroke-width="0.6"/>
<rect x="418.70" y="226.91" width="1.60" height="5.69" fill="#48cdf0" stroke="#245f72" stroke-width="0.6"/>
<rect x="420.30" y="221.22" width="2.10" height="11.38" fill="#48cdf0" stroke="#245f72" stroke-width="0.6"/>
<rect x="422.40" y="221.22" width="2.30" height="11.38" fill="#48cdf0" stroke="#245f72" stroke-width="0.6"/>
<rect x="424.70" y="229.75" width="1.60" height="2.85" fill="#48cdf0" stroke="#245f72" stroke-width="0.6"/>
<rect x="428.40" y="229.75" width="2.10" height="2.85" fill="#48cdf0" stroke="#245f72" stroke-width="0.6"/>
<rect x="431.10" y="226.91" width="2.10" height="5.69" fill="#48cdf0" stroke="#245f72" stroke-width="0.6"/>
<rect x="433.20" y="221.22" width="2.10" height="11.38" fill="#48cdf0" stroke="#245f72" stroke-width="0.6"/>
<rect x="435.30" y="215.53" width="2.00" height="17.07" fill="#48cdf0" stroke="#245f72" stroke-width="0.6"/>
<rect x="437.30" y="212.69" width="2.10" height="19.92" fill="#48cdf0" stroke="#245f72" stroke-width="0.6"/>
<rect x="440.80" y="223.21" width="2.30" height="9.39" fill="#48cdf0" stroke="#245f72" stroke-width="0.6"/>
<rect x="444.80" y="229.75" width="2.00" height="2.85" fill="#48cdf0" stroke="#245f72" stroke-width="0.6"/>
<rect x="459.40" y="226.91" width="1.60" height="5.69" fill="#48cdf0" stroke="#245f72" stroke-width="0.6"/>
<rect x="461.00" y="186.23" width="1.90" height="46.37" fill="#48cdf0" stroke="#245f72" stroke-width="0.6"/>
<rect x="462.90" y="181.11" width="2.10" height="51.49" fill="#48cdf0" stroke="#245f72" stroke-width="0.6"/>
<rect x="465.00" y="217.81" width="1.60" height="14.79" fill="#48cdf0" stroke="#245f72" stroke-width="0.6"/>
<rect x="466.60" y="229.75" width="1.60" height="2.85" fill="#48cdf0" stroke="#245f72" stroke-width="0.6"/>
<rect x="468.20" y="180.54" width="2.10" height="52.06" fill="#48cdf0" stroke="#245f72" stroke-width="0.6"/>
<rect x="470.30" y="177.69" width="2.00" height="54.91" fill="#48cdf0" stroke="#245f72" stroke-width="0.6"/>
<rect x="479.60" y="229.75" width="2.20" height="2.85" fill="#48cdf0" stroke="#245f72" stroke-width="0.6"/>
<path d="M62.80,232.6 L62.80,229.75 L64.60,229.75 L64.60,232.6 Z" fill="#4ed4f6" stroke="#24708a" stroke-width="0.75" stroke-linejoin="miter"/>
<path d="M88.80,232.6 L88.80,229.75 L90.60,229.75 L90.60,232.6 Z" fill="#4ed4f6" stroke="#24708a" stroke-width="0.75" stroke-linejoin="miter"/>
<path d="M101.20,232.6 L101.20,215.53 L102.90,215.53 L102.90,232.6 Z" fill="#4ed4f6" stroke="#24708a" stroke-width="0.75" stroke-linejoin="miter"/>
<path d="M104.10,232.6 L104.10,215.53 L105.80,215.53 L105.80,232.6 Z" fill="#4ed4f6" stroke="#24708a" stroke-width="0.75" stroke-linejoin="miter"/>
<path d="M106.90,232.6 L106.90,215.53 L109.00,215.53 L109.00,177.41 L110.70,177.41 L110.70,180.54 L115.40,180.54 L115.40,232.6 Z" fill="#4ed4f6" stroke="#24708a" stroke-width="0.75" stroke-linejoin="miter"/>
<path d="M127.60,232.6 L127.60,229.75 L129.40,229.75 L129.40,232.6 Z" fill="#4ed4f6" stroke="#24708a" stroke-width="0.75" stroke-linejoin="miter"/>
<path d="M150.00,232.6 L150.00,180.54 L151.40,180.54 L151.40,177.41 L154.20,177.41 L154.20,223.21 L155.80,223.21 L155.80,177.41 L159.40,177.41 L159.40,175.70 L161.30,175.70 L161.30,185.94 L162.70,185.94 L162.70,225.49 L164.20,225.49 L164.20,224.92 L165.50,224.92 L165.50,218.38 L167.40,218.38 L167.40,225.20 L168.70,225.20 L168.70,177.41 L170.60,177.41 L170.60,230.32 L173.00,230.32 L173.00,232.6 Z" fill="#4ed4f6" stroke="#24708a" stroke-width="0.75" stroke-linejoin="miter"/>
<path d="M174.70,232.6 L174.70,224.06 L176.80,224.06 L176.80,232.6 Z" fill="#4ed4f6" stroke="#24708a" stroke-width="0.75" stroke-linejoin="miter"/>
<path d="M188.90,232.6 L188.90,229.75 L191.00,229.75 L191.00,215.53 L192.90,215.53 L192.90,232.6 Z" fill="#4ed4f6" stroke="#24708a" stroke-width="0.75" stroke-linejoin="miter"/>
<path d="M196.60,232.6 L196.60,229.75 L198.50,229.75 L198.50,232.6 Z" fill="#4ed4f6" stroke="#24708a" stroke-width="0.75" stroke-linejoin="miter"/>
<path d="M205.30,232.6 L205.30,229.75 L207.30,229.75 L207.30,232.6 Z" fill="#4ed4f6" stroke="#24708a" stroke-width="0.75" stroke-linejoin="miter"/>
<path d="M214.20,232.6 L214.20,229.75 L216.30,229.75 L216.30,232.6 Z" fill="#4ed4f6" stroke="#24708a" stroke-width="0.75" stroke-linejoin="miter"/>
<path d="M231.30,232.6 L231.30,229.75 L233.20,229.75 L233.20,232.6 Z" fill="#4ed4f6" stroke="#24708a" stroke-width="0.75" stroke-linejoin="miter"/>
<path d="M235.20,232.6 L235.20,229.75 L236.70,229.75 L236.70,180.54 L238.60,180.54 L238.60,212.69 L240.50,212.69 L240.50,217.81 L241.90,217.81 L241.90,230.89 L244.20,230.89 L244.20,226.91 L245.80,226.91 L245.80,177.41 L247.70,177.41 L247.70,226.91 L249.40,226.91 L249.40,177.41 L251.50,177.41 L251.50,229.75 L253.10,229.75 L253.10,232.6 Z" fill="#4ed4f6" stroke="#24708a" stroke-width="0.75" stroke-linejoin="miter"/>
<path d="M257.00,232.6 L257.00,229.75 L259.00,229.75 L259.00,232.6 Z" fill="#4ed4f6" stroke="#24708a" stroke-width="0.75" stroke-linejoin="miter"/>
<path d="M266.20,232.6 L266.20,229.75 L268.20,229.75 L268.20,232.6 Z" fill="#4ed4f6" stroke="#24708a" stroke-width="0.75" stroke-linejoin="miter"/>
<text x="7.6" y="275.6" font-size="11" text-anchor="start" font-weight="bold" fill="#111" >D</text>
<text transform="translate(15.5,331.0) rotate(-90)" font-size="9.4" text-anchor="middle" font-weight="normal" fill="#222" textLength="53.2" lengthAdjust="spacingAndGlyphs"  stroke="#222" stroke-width="0.12">FIXa stimulation</text>
<text transform="translate(26.0,331.2) rotate(-90)" font-size="9.4" text-anchor="middle" font-weight="normal" fill="#222" textLength="18.8" lengthAdjust="spacingAndGlyphs"  stroke="#222" stroke-width="0.12">(fold)</text>
<line x1="56.3" y1="284.2" x2="56.3" y2="377.6" stroke="#111" stroke-width="1.3"/>
<line x1="55.9" y1="377.1" x2="281.2" y2="377.1" stroke="#111" stroke-width="1.1"/>
<line x1="52.6" y1="286.0" x2="56.4" y2="286.0" stroke="#111" stroke-width="0.8"/>
<text x="50.8" y="288.6" font-size="8.0" text-anchor="end" font-weight="normal" fill="#222"  stroke="#222" stroke-width="0.12">10,000</text>
<line x1="54.5" y1="298.16" x2="56.4" y2="298.16" stroke="#111" stroke-width="0.6"/>
<line x1="54.5" y1="295.10" x2="56.4" y2="295.10" stroke="#111" stroke-width="0.6"/>
<line x1="54.5" y1="292.92" x2="56.4" y2="292.92" stroke="#111" stroke-width="0.6"/>
<line x1="54.5" y1="291.24" x2="56.4" y2="291.24" stroke="#111" stroke-width="0.6"/>
<line x1="54.5" y1="289.86" x2="56.4" y2="289.86" stroke="#111" stroke-width="0.6"/>
<line x1="54.5" y1="288.70" x2="56.4" y2="288.70" stroke="#111" stroke-width="0.6"/>
<line x1="54.5" y1="287.69" x2="56.4" y2="287.69" stroke="#111" stroke-width="0.6"/>
<line x1="54.5" y1="286.80" x2="56.4" y2="286.80" stroke="#111" stroke-width="0.6"/>
<line x1="52.6" y1="303.4" x2="56.4" y2="303.4" stroke="#111" stroke-width="0.8"/>
<text x="50.8" y="306.0" font-size="8.0" text-anchor="end" font-weight="normal" fill="#222"  stroke="#222" stroke-width="0.12">1,000</text>
<line x1="54.5" y1="315.56" x2="56.4" y2="315.56" stroke="#111" stroke-width="0.6"/>
<line x1="54.5" y1="312.50" x2="56.4" y2="312.50" stroke="#111" stroke-width="0.6"/>
<line x1="54.5" y1="310.32" x2="56.4" y2="310.32" stroke="#111" stroke-width="0.6"/>
<line x1="54.5" y1="308.64" x2="56.4" y2="308.64" stroke="#111" stroke-width="0.6"/>
<line x1="54.5" y1="307.26" x2="56.4" y2="307.26" stroke="#111" stroke-width="0.6"/>
<line x1="54.5" y1="306.10" x2="56.4" y2="306.10" stroke="#111" stroke-width="0.6"/>
<line x1="54.5" y1="305.09" x2="56.4" y2="305.09" stroke="#111" stroke-width="0.6"/>
<line x1="54.5" y1="304.20" x2="56.4" y2="304.20" stroke="#111" stroke-width="0.6"/>
<line x1="52.6" y1="321.0" x2="56.4" y2="321.0" stroke="#111" stroke-width="0.8"/>
<text x="50.8" y="323.6" font-size="8.0" text-anchor="end" font-weight="normal" fill="#222"  stroke="#222" stroke-width="0.12">100</text>
<line x1="54.5" y1="333.16" x2="56.4" y2="333.16" stroke="#111" stroke-width="0.6"/>
<line x1="54.5" y1="330.10" x2="56.4" y2="330.10" stroke="#111" stroke-width="0.6"/>
<line x1="54.5" y1="327.92" x2="56.4" y2="327.92" stroke="#111" stroke-width="0.6"/>
<line x1="54.5" y1="326.24" x2="56.4" y2="326.24" stroke="#111" stroke-width="0.6"/>
<line x1="54.5" y1="324.86" x2="56.4" y2="324.86" stroke="#111" stroke-width="0.6"/>
<line x1="54.5" y1="323.70" x2="56.4" y2="323.70" stroke="#111" stroke-width="0.6"/>
<line x1="54.5" y1="322.69" x2="56.4" y2="322.69" stroke="#111" stroke-width="0.6"/>
<line x1="54.5" y1="321.80" x2="56.4" y2="321.80" stroke="#111" stroke-width="0.6"/>
<line x1="52.6" y1="338.5" x2="56.4" y2="338.5" stroke="#111" stroke-width="0.8"/>
<text x="50.8" y="341.1" font-size="8.0" text-anchor="end" font-weight="normal" fill="#222"  stroke="#222" stroke-width="0.12">10</text>
<line x1="54.5" y1="350.66" x2="56.4" y2="350.66" stroke="#111" stroke-width="0.6"/>
<line x1="54.5" y1="347.60" x2="56.4" y2="347.60" stroke="#111" stroke-width="0.6"/>
<line x1="54.5" y1="345.42" x2="56.4" y2="345.42" stroke="#111" stroke-width="0.6"/>
<line x1="54.5" y1="343.74" x2="56.4" y2="343.74" stroke="#111" stroke-width="0.6"/>
<line x1="54.5" y1="342.36" x2="56.4" y2="342.36" stroke="#111" stroke-width="0.6"/>
<line x1="54.5" y1="341.20" x2="56.4" y2="341.20" stroke="#111" stroke-width="0.6"/>
<line x1="54.5" y1="340.19" x2="56.4" y2="340.19" stroke="#111" stroke-width="0.6"/>
<line x1="54.5" y1="339.30" x2="56.4" y2="339.30" stroke="#111" stroke-width="0.6"/>
<line x1="52.6" y1="355.8" x2="56.4" y2="355.8" stroke="#111" stroke-width="0.8"/>
<text x="50.8" y="358.40000000000003" font-size="8.0" text-anchor="end" font-weight="normal" fill="#222"  stroke="#222" stroke-width="0.12">1</text>
<line x1="54.5" y1="367.96" x2="56.4" y2="367.96" stroke="#111" stroke-width="0.6"/>
<line x1="54.5" y1="364.90" x2="56.4" y2="364.90" stroke="#111" stroke-width="0.6"/>
<line x1="54.5" y1="362.72" x2="56.4" y2="362.72" stroke="#111" stroke-width="0.6"/>
<line x1="54.5" y1="361.04" x2="56.4" y2="361.04" stroke="#111" stroke-width="0.6"/>
<line x1="54.5" y1="359.66" x2="56.4" y2="359.66" stroke="#111" stroke-width="0.6"/>
<line x1="54.5" y1="358.50" x2="56.4" y2="358.50" stroke="#111" stroke-width="0.6"/>
<line x1="54.5" y1="357.49" x2="56.4" y2="357.49" stroke="#111" stroke-width="0.6"/>
<line x1="54.5" y1="356.60" x2="56.4" y2="356.60" stroke="#111" stroke-width="0.6"/>
<line x1="52.6" y1="373.0" x2="56.4" y2="373.0" stroke="#111" stroke-width="0.8"/>
<text x="50.8" y="375.6" font-size="8.0" text-anchor="end" font-weight="normal" fill="#222"  stroke="#222" stroke-width="0.12">0.1</text>
<line x1="58.80" y1="386.1" x2="69.00" y2="386.1" stroke="#111" stroke-width="1.8"/>
<line x1="71.50" y1="386.1" x2="87.40" y2="386.1" stroke="#111" stroke-width="1.8"/>
<line x1="90.60" y1="386.1" x2="106.50" y2="386.1" stroke="#111" stroke-width="1.8"/>
<line x1="109.70" y1="386.1" x2="125.60" y2="386.1" stroke="#111" stroke-width="1.8"/>
<line x1="128.80" y1="386.1" x2="144.70" y2="386.1" stroke="#111" stroke-width="1.8"/>
<line x1="147.90" y1="386.1" x2="163.80" y2="386.1" stroke="#111" stroke-width="1.8"/>
<line x1="167.00" y1="386.1" x2="182.90" y2="386.1" stroke="#111" stroke-width="1.8"/>
<line x1="186.10" y1="386.1" x2="202.00" y2="386.1" stroke="#111" stroke-width="1.8"/>
<line x1="205.20" y1="386.1" x2="221.10" y2="386.1" stroke="#111" stroke-width="1.8"/>
<line x1="224.30" y1="386.1" x2="240.20" y2="386.1" stroke="#111" stroke-width="1.8"/>
<line x1="243.40" y1="386.1" x2="259.30" y2="386.1" stroke="#111" stroke-width="1.8"/>
<line x1="262.5" y1="386.1" x2="277.5" y2="386.1" stroke="#111" stroke-width="1.8"/>
<path d="M281.8,386.1 L276.2,383.8 L276.2,388.4 Z" fill="#111"/>
<text x="112.6" y="396.8" font-size="9.2" text-anchor="start" font-weight="normal" fill="#222" textLength="115.0" lengthAdjust="spacingAndGlyphs"  stroke="#222" stroke-width="0.12">Rounds of mutational optimization</text>
<path d="M68.3,339.6 L71.0,344.6 L65.6,344.6 Z" fill="#6cc520" stroke="#000" stroke-width="1.15" stroke-linejoin="round"/>
<line x1="68.3" y1="357.8" x2="68.30" y2="350.70" stroke="#222" stroke-width="0.8"/>
<path d="M68.3,348.4 L69.60,351.00 L67.00,351.00 Z" fill="#222"/>
<text x="62.3" y="367.4" font-size="6.4" text-anchor="start" font-weight="normal" fill="#222" textLength="31.4" lengthAdjust="spacingAndGlyphs"  stroke="#222" stroke-width="0.12">biAb46376</text>
<text x="62.3" y="374.8" font-size="6.4" text-anchor="start" font-weight="normal" fill="#222" textLength="36.4" lengthAdjust="spacingAndGlyphs"  stroke="#222" stroke-width="0.12">anti-FIXa OA</text>
<path d="M86.40,307.00 L86.41,307.19 L86.41,307.44 L86.42,307.75 L86.44,308.11 L86.46,308.53 L86.50,309.00 L86.55,309.54 L86.62,310.15 L86.69,310.81 L86.77,311.52 L86.84,312.25 L86.90,313.00 L86.95,313.74 L87.00,314.48 L87.04,315.25 L87.08,316.07 L87.12,316.98 L87.15,318.00 L87.18,319.11 L87.20,320.30 L87.21,321.56 L87.23,322.93 L87.24,324.40 L87.25,326.00 L87.26,327.79 L87.27,329.78 L87.28,331.88 L87.28,334.00 L87.29,336.07 L87.30,338.00 L87.31,339.84 L87.33,341.67 L87.34,343.44 L87.36,345.11 L87.38,346.65 L87.40,348.00 L87.42,349.13 L87.44,350.07 L87.47,350.88 L87.49,351.59 L87.52,352.28 L87.55,353.00 L87.58,353.73 L87.62,354.43 L87.66,355.09 L87.71,355.74 L87.75,356.37 L87.80,357.00 L87.86,357.65 L87.92,358.33 L87.99,359.00 L88.06,359.61 L88.11,360.12 L88.15,360.50 L88.85,360.50 L88.89,360.12 L88.94,359.61 L89.01,359.00 L89.08,358.33 L89.14,357.65 L89.20,357.00 L89.25,356.37 L89.29,355.74 L89.34,355.09 L89.38,354.43 L89.42,353.73 L89.45,353.00 L89.48,352.28 L89.51,351.59 L89.53,350.88 L89.56,350.07 L89.58,349.13 L89.60,348.00 L89.62,346.65 L89.64,345.11 L89.66,343.44 L89.67,341.67 L89.69,339.84 L89.70,338.00 L89.71,336.07 L89.72,334.00 L89.72,331.88 L89.73,329.78 L89.74,327.79 L89.75,326.00 L89.76,324.40 L89.77,322.93 L89.79,321.56 L89.80,320.30 L89.82,319.11 L89.85,318.00 L89.88,316.98 L89.92,316.07 L89.96,315.25 L90.00,314.48 L90.05,313.74 L90.10,313.00 L90.16,312.25 L90.23,311.52 L90.31,310.81 L90.38,310.15 L90.45,309.54 L90.50,309.00 L90.54,308.53 L90.56,308.11 L90.58,307.75 L90.59,307.44 L90.59,307.19 L90.60,307.00 Z" fill="#e2eee4" stroke="#5a514c" stroke-width="1.0" stroke-linejoin="round"/>
<path d="M87.59,355.74 L87.63,356.37 L87.68,357.00 L87.74,357.65 L87.80,358.33 L87.87,359.00 L87.94,359.61 L87.99,360.12 L88.03,360.50 L88.97,360.50 L89.01,360.12 L89.06,359.61 L89.13,359.00 L89.20,358.33 L89.26,357.65 L89.32,357.00 L89.37,356.37 L89.41,355.74 Z" fill="#5a514c"/>
<path d="M107.70,313.70 L107.70,314.40 L107.69,315.38 L107.69,316.54 L107.68,317.76 L107.67,318.95 L107.65,320.00 L107.62,320.93 L107.57,321.84 L107.52,322.71 L107.47,323.53 L107.43,324.30 L107.40,325.00 L107.38,325.60 L107.37,326.11 L107.36,326.56 L107.36,327.00 L107.38,327.47 L107.40,328.00 L107.45,328.61 L107.53,329.26 L107.62,329.94 L107.70,330.63 L107.75,331.32 L107.75,332.00 L107.69,332.66 L107.60,333.30 L107.47,333.94 L107.32,334.59 L107.16,335.28 L107.00,336.00 L106.82,336.79 L106.62,337.63 L106.41,338.50 L106.19,339.37 L105.99,340.21 L105.80,341.00 L105.63,341.74 L105.46,342.44 L105.29,343.12 L105.14,343.78 L105.01,344.40 L104.90,345.00 L104.80,345.55 L104.72,346.04 L104.66,346.50 L104.61,346.96 L104.59,347.45 L104.60,348.00 L104.64,348.61 L104.71,349.26 L104.81,349.94 L104.92,350.63 L105.05,351.32 L105.20,352.00 L105.37,352.67 L105.56,353.33 L105.78,354.00 L105.99,354.67 L106.20,355.33 L106.40,356.00 L106.59,356.68 L106.77,357.39 L106.95,358.09 L107.12,358.78 L107.27,359.42 L107.40,360.00 L107.51,360.49 L107.59,360.89 L107.66,361.25 L107.71,361.61 L107.76,362.01 L107.80,362.50 L107.83,363.13 L107.84,363.87 L107.85,364.66 L107.85,365.41 L107.85,366.05 L107.85,366.50 L108.55,366.50 L108.55,366.05 L108.55,365.41 L108.55,364.66 L108.56,363.87 L108.57,363.13 L108.60,362.50 L108.64,362.01 L108.69,361.61 L108.74,361.25 L108.81,360.89 L108.89,360.49 L109.00,360.00 L109.13,359.42 L109.28,358.78 L109.45,358.09 L109.63,357.39 L109.81,356.68 L110.00,356.00 L110.20,355.33 L110.41,354.67 L110.62,354.00 L110.84,353.33 L111.03,352.67 L111.20,352.00 L111.35,351.32 L111.48,350.63 L111.59,349.94 L111.69,349.26 L111.76,348.61 L111.80,348.00 L111.81,347.45 L111.79,346.96 L111.74,346.50 L111.68,346.04 L111.60,345.55 L111.50,345.00 L111.39,344.40 L111.26,343.78 L111.11,343.12 L110.94,342.44 L110.77,341.74 L110.60,341.00 L110.41,340.21 L110.21,339.37 L109.99,338.50 L109.78,337.63 L109.58,336.79 L109.40,336.00 L109.24,335.28 L109.08,334.59 L108.93,333.94 L108.80,333.30 L108.71,332.66 L108.65,332.00 L108.65,331.32 L108.70,330.63 L108.78,329.94 L108.87,329.26 L108.95,328.61 L109.00,328.00 L109.02,327.47 L109.04,327.00 L109.04,326.56 L109.03,326.11 L109.02,325.60 L109.00,325.00 L108.97,324.30 L108.93,323.53 L108.88,322.71 L108.83,321.84 L108.78,320.93 L108.75,320.00 L108.73,318.95 L108.72,317.76 L108.71,316.54 L108.71,315.38 L108.70,314.40 L108.70,313.70 Z" fill="#e2eee4" stroke="#5a514c" stroke-width="1.0" stroke-linejoin="round"/>
<path d="M107.58,313.70 L107.58,314.40 L107.57,315.38 L107.57,316.54 L107.56,317.76 L107.55,318.95 L107.53,320.00 L107.50,320.93 L107.45,321.84 L107.40,322.71 L107.35,323.53 L107.31,324.30 L107.28,325.00 L109.12,325.00 L109.09,324.30 L109.05,323.53 L109.00,322.71 L108.95,321.84 L108.90,320.93 L108.87,320.00 L108.85,318.95 L108.84,317.76 L108.83,316.54 L108.83,315.38 L108.82,314.40 L108.82,313.70 Z" fill="#5a514c"/>
<path d="M107.28,328.00 L107.33,328.61 L107.41,329.26 L107.50,329.94 L107.58,330.63 L107.63,331.32 L107.63,332.00 L107.57,332.66 L107.48,333.30 L107.35,333.94 L109.05,333.94 L108.92,333.30 L108.83,332.66 L108.77,332.00 L108.77,331.32 L108.82,330.63 L108.90,329.94 L108.99,329.26 L109.07,328.61 L109.12,328.00 Z" fill="#5a514c"/>
<path d="M107.28,360.00 L107.39,360.49 L107.47,360.89 L107.54,361.25 L107.59,361.61 L107.64,362.01 L107.68,362.50 L107.71,363.13 L107.72,363.87 L107.73,364.66 L107.73,365.41 L107.73,366.05 L107.73,366.50 L108.67,366.50 L108.67,366.05 L108.67,365.41 L108.67,364.66 L108.68,363.87 L108.69,363.13 L108.72,362.50 L108.76,362.01 L108.81,361.61 L108.86,361.25 L108.93,360.89 L109.01,360.49 L109.12,360.00 Z" fill="#5a514c"/>
<path d="M127.80,301.80 L127.72,302.25 L127.60,302.86 L127.46,303.59 L127.31,304.39 L127.15,305.21 L127.00,306.00 L126.84,306.79 L126.66,307.61 L126.47,308.45 L126.30,309.30 L126.13,310.16 L126.00,311.00 L125.89,311.84 L125.80,312.70 L125.73,313.56 L125.67,314.41 L125.63,315.22 L125.60,316.00 L125.58,316.70 L125.58,317.33 L125.59,317.94 L125.62,318.56 L125.65,319.23 L125.70,320.00 L125.76,320.88 L125.83,321.85 L125.92,322.88 L126.01,323.93 L126.11,324.98 L126.20,326.00 L126.30,327.00 L126.40,328.00 L126.50,329.00 L126.60,330.00 L126.70,331.00 L126.80,332.00 L126.89,333.01 L126.98,334.04 L127.07,335.06 L127.15,336.07 L127.23,337.06 L127.30,338.00 L127.37,338.91 L127.44,339.81 L127.50,340.69 L127.55,341.52 L127.60,342.29 L127.65,343.00 L127.69,343.40 L127.72,343.47 L127.75,343.47 L127.77,343.71 L127.79,344.46 L127.80,346.00 L127.81,348.75 L127.81,352.56 L127.81,356.89 L127.81,361.17 L127.80,364.86 L127.80,367.40 L128.60,367.40 L128.60,364.86 L128.59,361.17 L128.59,356.89 L128.59,352.56 L128.59,348.75 L128.60,346.00 L128.61,344.46 L128.63,343.71 L128.65,343.47 L128.68,343.47 L128.71,343.40 L128.75,343.00 L128.80,342.29 L128.85,341.52 L128.90,340.69 L128.96,339.81 L129.03,338.91 L129.10,338.00 L129.17,337.06 L129.25,336.07 L129.33,335.06 L129.42,334.04 L129.51,333.01 L129.60,332.00 L129.70,331.00 L129.80,330.00 L129.90,329.00 L130.00,328.00 L130.10,327.00 L130.20,326.00 L130.29,324.98 L130.39,323.93 L130.48,322.88 L130.57,321.85 L130.64,320.88 L130.70,320.00 L130.75,319.23 L130.78,318.56 L130.81,317.94 L130.82,317.33 L130.82,316.70 L130.80,316.00 L130.77,315.22 L130.73,314.41 L130.67,313.56 L130.60,312.70 L130.51,311.84 L130.40,311.00 L130.27,310.16 L130.10,309.30 L129.92,308.45 L129.74,307.61 L129.56,306.79 L129.40,306.00 L129.25,305.21 L129.09,304.39 L128.94,303.59 L128.80,302.86 L128.68,302.25 L128.60,301.80 Z" fill="#e2eee4" stroke="#5a514c" stroke-width="1.0" stroke-linejoin="round"/>
<path d="M127.68,301.80 L127.60,302.25 L127.48,302.86 L127.34,303.59 L129.06,303.59 L128.92,302.86 L128.80,302.25 L128.72,301.80 Z" fill="#5a514c"/>
<path d="M127.32,339.81 L127.38,340.69 L127.43,341.52 L127.48,342.29 L127.53,343.00 L127.57,343.40 L127.60,343.47 L127.63,343.47 L127.65,343.71 L127.67,344.46 L127.68,346.00 L127.69,348.75 L127.69,352.56 L127.69,356.89 L127.69,361.17 L127.68,364.86 L127.68,367.40 L128.72,367.40 L128.72,364.86 L128.71,361.17 L128.71,356.89 L128.71,352.56 L128.71,348.75 L128.72,346.00 L128.73,344.46 L128.75,343.71 L128.77,343.47 L128.80,343.47 L128.83,343.40 L128.87,343.00 L128.92,342.29 L128.97,341.52 L129.02,340.69 L129.08,339.81 Z" fill="#5a514c"/>
<path d="M146.30,310.00 L146.10,310.11 L145.83,310.25 L145.50,310.42 L145.13,310.61 L144.73,310.80 L144.30,311.00 L143.82,311.19 L143.27,311.40 L142.69,311.61 L142.11,311.83 L141.57,312.06 L141.10,312.30 L140.70,312.56 L140.34,312.83 L140.01,313.12 L139.73,313.41 L139.49,313.71 L139.30,314.00 L139.16,314.30 L139.07,314.60 L139.03,314.90 L139.02,315.20 L139.05,315.50 L139.10,315.80 L139.18,316.09 L139.29,316.36 L139.43,316.64 L139.60,316.91 L139.83,317.20 L140.10,317.50 L140.44,317.82 L140.86,318.14 L141.31,318.48 L141.79,318.82 L142.26,319.16 L142.70,319.50 L143.12,319.83 L143.56,320.17 L143.98,320.50 L144.39,320.83 L144.77,321.17 L145.10,321.50 L145.39,321.83 L145.64,322.15 L145.86,322.47 L146.05,322.80 L146.23,323.14 L146.40,323.50 L146.56,323.77 L146.69,323.93 L146.81,324.11 L146.91,324.42 L147.01,325.01 L147.10,326.00 L147.18,327.63 L147.26,329.83 L147.32,332.31 L147.37,334.75 L147.42,336.85 L147.45,338.30 L148.35,338.30 L148.38,336.85 L148.43,334.75 L148.48,332.31 L148.54,329.83 L148.62,327.63 L148.70,326.00 L148.79,325.01 L148.89,324.42 L148.99,324.11 L149.11,323.93 L149.24,323.77 L149.40,323.50 L149.57,323.14 L149.75,322.80 L149.94,322.47 L150.16,322.15 L150.41,321.83 L150.70,321.50 L151.03,321.17 L151.41,320.83 L151.82,320.50 L152.24,320.17 L152.68,319.83 L153.10,319.50 L153.54,319.16 L154.01,318.82 L154.49,318.48 L154.94,318.14 L155.36,317.82 L155.70,317.50 L155.97,317.20 L156.20,316.91 L156.38,316.64 L156.51,316.36 L156.62,316.09 L156.70,315.80 L156.75,315.50 L156.78,315.20 L156.78,314.90 L156.73,314.60 L156.64,314.30 L156.50,314.00 L156.31,313.71 L156.07,313.41 L155.79,313.12 L155.46,312.83 L155.10,312.56 L154.70,312.30 L154.23,312.06 L153.69,311.83 L153.11,311.61 L152.53,311.40 L151.98,311.19 L151.50,311.00 L151.07,310.80 L150.67,310.61 L150.30,310.42 L149.97,310.25 L149.70,310.11 L149.50,310.00 Z" fill="#e2eee4" stroke="#5a514c" stroke-width="1.0" stroke-linejoin="round"/>
<path d="M146.98,326.00 L147.06,327.63 L147.14,329.83 L147.20,332.31 L147.25,334.75 L147.30,336.85 L147.33,338.30 L148.47,338.30 L148.50,336.85 L148.55,334.75 L148.60,332.31 L148.66,329.83 L148.74,327.63 L148.82,326.00 Z" fill="#5a514c"/>
<path d="M166.40,303.40 L166.13,303.48 L165.76,303.57 L165.31,303.69 L164.84,303.83 L164.39,304.00 L164.00,304.20 L163.65,304.43 L163.31,304.70 L162.99,304.99 L162.69,305.31 L162.42,305.65 L162.20,306.00 L162.02,306.38 L161.87,306.78 L161.76,307.21 L161.68,307.64 L161.63,308.08 L161.60,308.50 L161.60,308.91 L161.63,309.31 L161.69,309.72 L161.77,310.13 L161.88,310.55 L162.00,311.00 L162.15,311.46 L162.33,311.93 L162.54,312.41 L162.76,312.91 L162.98,313.44 L163.20,314.00 L163.42,314.61 L163.66,315.26 L163.90,315.94 L164.14,316.63 L164.38,317.32 L164.60,318.00 L164.81,318.67 L165.02,319.33 L165.22,320.00 L165.42,320.67 L165.61,321.33 L165.80,322.00 L165.98,322.68 L166.17,323.37 L166.34,324.06 L166.51,324.74 L166.66,325.39 L166.80,326.00 L166.92,326.44 L167.01,326.69 L167.10,326.91 L167.17,327.26 L167.24,327.90 L167.30,329.00 L167.36,330.80 L167.41,333.22 L167.46,335.94 L167.49,338.61 L167.53,340.91 L167.55,342.50 L168.45,342.50 L168.47,340.91 L168.51,338.61 L168.54,335.94 L168.59,333.22 L168.64,330.80 L168.70,329.00 L168.76,327.90 L168.83,327.26 L168.90,326.91 L168.99,326.69 L169.08,326.44 L169.20,326.00 L169.34,325.39 L169.49,324.74 L169.66,324.06 L169.83,323.37 L170.02,322.68 L170.20,322.00 L170.39,321.33 L170.58,320.67 L170.78,320.00 L170.98,319.33 L171.19,318.67 L171.40,318.00 L171.62,317.32 L171.86,316.63 L172.10,315.94 L172.34,315.26 L172.58,314.61 L172.80,314.00 L173.02,313.44 L173.24,312.91 L173.46,312.41 L173.67,311.93 L173.85,311.46 L174.00,311.00 L174.12,310.55 L174.23,310.13 L174.31,309.72 L174.37,309.31 L174.40,308.91 L174.40,308.50 L174.37,308.08 L174.32,307.64 L174.24,307.21 L174.13,306.78 L173.98,306.38 L173.80,306.00 L173.58,305.65 L173.31,305.31 L173.01,304.99 L172.69,304.70 L172.35,304.43 L172.00,304.20 L171.61,304.00 L171.16,303.83 L170.69,303.69 L170.24,303.57 L169.87,303.48 L169.60,303.40 Z" fill="#e2eee4" stroke="#5a514c" stroke-width="1.0" stroke-linejoin="round"/>
<path d="M167.12,327.90 L167.18,329.00 L167.24,330.80 L167.29,333.22 L167.34,335.94 L167.37,338.61 L167.41,340.91 L167.43,342.50 L168.57,342.50 L168.59,340.91 L168.63,338.61 L168.66,335.94 L168.71,333.22 L168.76,330.80 L168.82,329.00 L168.88,327.90 Z" fill="#5a514c"/>
<path d="M186.90,293.20 L186.95,293.34 L187.02,293.47 L187.10,293.66 L187.18,293.95 L187.25,294.38 L187.30,295.00 L187.33,295.91 L187.36,297.10 L187.38,298.43 L187.38,299.77 L187.36,301.00 L187.30,302.00 L187.21,302.72 L187.11,303.26 L186.98,303.69 L186.81,304.07 L186.62,304.49 L186.40,305.00 L186.12,305.60 L185.79,306.24 L185.42,306.91 L185.05,307.59 L184.70,308.29 L184.40,309.00 L184.13,309.72 L183.85,310.46 L183.60,311.22 L183.39,311.98 L183.25,312.74 L183.20,313.50 L183.25,314.27 L183.40,315.06 L183.61,315.84 L183.87,316.61 L184.14,317.34 L184.40,318.00 L184.68,318.60 L185.00,319.15 L185.33,319.66 L185.66,320.13 L185.96,320.58 L186.20,321.00 L186.39,321.37 L186.54,321.67 L186.66,321.94 L186.76,322.22 L186.84,322.56 L186.90,323.00 L186.94,323.55 L186.96,324.19 L186.95,324.88 L186.93,325.59 L186.91,326.31 L186.90,327.00 L186.89,327.67 L186.86,328.33 L186.84,329.00 L186.81,329.67 L186.80,330.33 L186.80,331.00 L186.81,331.69 L186.84,332.41 L186.88,333.12 L186.91,333.81 L186.96,334.45 L187.00,335.00 L187.05,335.40 L187.10,335.66 L187.16,335.86 L187.21,336.10 L187.26,336.45 L187.30,337.00 L187.33,337.86 L187.35,338.99 L187.37,340.23 L187.38,341.44 L187.39,342.48 L187.40,343.20 L188.20,343.20 L188.21,342.48 L188.22,341.44 L188.23,340.23 L188.25,338.99 L188.27,337.86 L188.30,337.00 L188.34,336.45 L188.39,336.10 L188.44,335.86 L188.50,335.66 L188.55,335.40 L188.60,335.00 L188.64,334.45 L188.69,333.81 L188.73,333.12 L188.76,332.41 L188.79,331.69 L188.80,331.00 L188.80,330.33 L188.79,329.67 L188.76,329.00 L188.74,328.33 L188.71,327.67 L188.70,327.00 L188.69,326.31 L188.67,325.59 L188.65,324.88 L188.64,324.19 L188.66,323.55 L188.70,323.00 L188.76,322.56 L188.84,322.22 L188.94,321.94 L189.06,321.67 L189.21,321.37 L189.40,321.00 L189.64,320.58 L189.94,320.13 L190.27,319.66 L190.60,319.15 L190.92,318.60 L191.20,318.00 L191.46,317.34 L191.73,316.61 L191.99,315.84 L192.20,315.06 L192.35,314.27 L192.40,313.50 L192.35,312.74 L192.21,311.98 L192.00,311.22 L191.75,310.46 L191.47,309.72 L191.20,309.00 L190.90,308.29 L190.55,307.59 L190.18,306.91 L189.81,306.24 L189.48,305.60 L189.20,305.00 L188.98,304.49 L188.79,304.07 L188.62,303.69 L188.49,303.26 L188.39,302.72 L188.30,302.00 L188.24,301.00 L188.22,299.77 L188.22,298.43 L188.24,297.10 L188.27,295.91 L188.30,295.00 L188.35,294.38 L188.42,293.95 L188.50,293.66 L188.58,293.47 L188.65,293.34 L188.70,293.20 Z" fill="#e2eee4" stroke="#5a514c" stroke-width="1.0" stroke-linejoin="round"/>
<path d="M186.90,293.47 L186.98,293.66 L187.06,293.95 L187.13,294.38 L187.18,295.00 L187.21,295.91 L187.24,297.10 L187.26,298.43 L187.26,299.77 L187.24,301.00 L187.18,302.00 L187.09,302.72 L186.99,303.26 L188.61,303.26 L188.51,302.72 L188.42,302.00 L188.36,301.00 L188.34,299.77 L188.34,298.43 L188.36,297.10 L188.39,295.91 L188.42,295.00 L188.47,294.38 L188.54,293.95 L188.62,293.66 L188.70,293.47 Z" fill="#5a514c"/>
<path d="M186.88,335.00 L186.93,335.40 L186.98,335.66 L187.04,335.86 L187.09,336.10 L187.14,336.45 L187.18,337.00 L187.21,337.86 L187.23,338.99 L187.25,340.23 L187.26,341.44 L187.27,342.48 L187.28,343.20 L188.32,343.20 L188.33,342.48 L188.34,341.44 L188.35,340.23 L188.37,338.99 L188.39,337.86 L188.42,337.00 L188.46,336.45 L188.51,336.10 L188.56,335.86 L188.62,335.66 L188.67,335.40 L188.72,335.00 Z" fill="#5a514c"/>
<path d="M207.20,301.40 L207.10,301.78 L206.96,302.28 L206.80,302.89 L206.61,303.56 L206.41,304.28 L206.20,305.00 L205.96,305.75 L205.69,306.56 L205.39,307.40 L205.10,308.27 L204.83,309.14 L204.60,310.00 L204.39,310.86 L204.18,311.73 L203.99,312.61 L203.84,313.49 L203.74,314.35 L203.70,315.20 L203.74,316.03 L203.85,316.86 L204.01,317.67 L204.20,318.47 L204.40,319.25 L204.60,320.00 L204.81,320.71 L205.05,321.39 L205.31,322.05 L205.56,322.70 L205.80,323.34 L206.00,324.00 L206.18,324.57 L206.34,325.04 L206.48,325.50 L206.61,326.07 L206.71,326.87 L206.80,328.00 L206.86,329.50 L206.89,331.30 L206.89,333.31 L206.89,335.48 L206.89,337.73 L206.90,340.00 L206.92,342.37 L206.93,344.90 L206.94,347.53 L206.96,350.14 L206.98,352.66 L207.00,355.00 L207.03,357.26 L207.07,359.55 L207.11,361.74 L207.14,363.72 L207.18,365.38 L207.20,366.60 L208.00,366.60 L208.02,365.38 L208.06,363.72 L208.09,361.74 L208.13,359.55 L208.17,357.26 L208.20,355.00 L208.22,352.66 L208.24,350.14 L208.26,347.53 L208.27,344.90 L208.28,342.37 L208.30,340.00 L208.31,337.73 L208.31,335.48 L208.31,333.31 L208.31,331.30 L208.34,329.50 L208.40,328.00 L208.49,326.87 L208.59,326.07 L208.72,325.50 L208.86,325.04 L209.02,324.57 L209.20,324.00 L209.40,323.34 L209.64,322.70 L209.89,322.05 L210.15,321.39 L210.39,320.71 L210.60,320.00 L210.80,319.25 L211.00,318.47 L211.19,317.67 L211.35,316.86 L211.46,316.03 L211.50,315.20 L211.46,314.35 L211.36,313.49 L211.21,312.61 L211.02,311.73 L210.81,310.86 L210.60,310.00 L210.37,309.14 L210.10,308.27 L209.81,307.40 L209.51,306.56 L209.24,305.75 L209.00,305.00 L208.79,304.28 L208.59,303.56 L208.40,302.89 L208.24,302.28 L208.10,301.78 L208.00,301.40 Z" fill="#e2eee4" stroke="#5a514c" stroke-width="1.0" stroke-linejoin="round"/>
<path d="M207.08,301.40 L206.98,301.78 L206.84,302.28 L206.68,302.89 L208.52,302.89 L208.36,302.28 L208.22,301.78 L208.12,301.40 Z" fill="#5a514c"/>
<path d="M206.68,328.00 L206.74,329.50 L206.77,331.30 L206.77,333.31 L206.77,335.48 L206.77,337.73 L206.78,340.00 L206.80,342.37 L206.81,344.90 L206.82,347.53 L206.84,350.14 L206.86,352.66 L206.88,355.00 L206.91,357.26 L206.95,359.55 L206.99,361.74 L207.02,363.72 L207.06,365.38 L207.08,366.60 L208.12,366.60 L208.14,365.38 L208.18,363.72 L208.21,361.74 L208.25,359.55 L208.29,357.26 L208.32,355.00 L208.34,352.66 L208.36,350.14 L208.38,347.53 L208.39,344.90 L208.40,342.37 L208.42,340.00 L208.43,337.73 L208.43,335.48 L208.43,333.31 L208.43,331.30 L208.46,329.50 L208.52,328.00 Z" fill="#5a514c"/>
<path d="M226.80,298.80 L226.77,299.03 L226.74,299.34 L226.69,299.71 L226.63,300.13 L226.53,300.56 L226.40,301.00 L226.23,301.45 L226.02,301.94 L225.78,302.45 L225.51,302.97 L225.22,303.49 L224.90,304.00 L224.53,304.51 L224.09,305.02 L223.63,305.53 L223.17,306.04 L222.75,306.53 L222.40,307.00 L222.11,307.45 L221.85,307.87 L221.63,308.28 L221.45,308.69 L221.30,309.09 L221.20,309.50 L221.14,309.90 L221.12,310.28 L221.14,310.66 L221.19,311.06 L221.28,311.50 L221.40,312.00 L221.56,312.58 L221.77,313.22 L222.01,313.91 L222.27,314.61 L222.54,315.32 L222.80,316.00 L223.06,316.67 L223.33,317.33 L223.60,318.00 L223.87,318.67 L224.14,319.33 L224.40,320.00 L224.65,320.68 L224.91,321.37 L225.16,322.06 L225.40,322.74 L225.62,323.39 L225.80,324.00 L225.95,324.55 L226.07,325.04 L226.17,325.50 L226.25,325.96 L226.33,326.45 L226.40,327.00 L226.47,327.35 L226.53,327.44 L226.58,327.56 L226.63,328.00 L226.67,329.05 L226.70,331.00 L226.73,334.36 L226.75,339.00 L226.77,344.25 L226.78,349.44 L226.79,353.92 L226.80,357.00 L227.60,357.00 L227.61,353.92 L227.62,349.44 L227.63,344.25 L227.65,339.00 L227.67,334.36 L227.70,331.00 L227.73,329.05 L227.77,328.00 L227.82,327.56 L227.87,327.44 L227.93,327.35 L228.00,327.00 L228.07,326.45 L228.15,325.96 L228.23,325.50 L228.33,325.04 L228.45,324.55 L228.60,324.00 L228.78,323.39 L229.00,322.74 L229.24,322.06 L229.49,321.37 L229.75,320.68 L230.00,320.00 L230.26,319.33 L230.53,318.67 L230.80,318.00 L231.07,317.33 L231.34,316.67 L231.60,316.00 L231.86,315.32 L232.13,314.61 L232.39,313.91 L232.63,313.22 L232.84,312.58 L233.00,312.00 L233.12,311.50 L233.21,311.06 L233.26,310.66 L233.28,310.28 L233.26,309.90 L233.20,309.50 L233.10,309.09 L232.95,308.69 L232.77,308.28 L232.55,307.87 L232.29,307.45 L232.00,307.00 L231.65,306.53 L231.23,306.04 L230.77,305.53 L230.31,305.02 L229.87,304.51 L229.50,304.00 L229.18,303.49 L228.89,302.97 L228.62,302.45 L228.38,301.94 L228.17,301.45 L228.00,301.00 L227.87,300.56 L227.77,300.13 L227.71,299.71 L227.66,299.34 L227.63,299.03 L227.60,298.80 Z" fill="#e2eee4" stroke="#5a514c" stroke-width="1.0" stroke-linejoin="round"/>
<path d="M226.68,298.80 L226.65,299.03 L226.62,299.34 L226.57,299.71 L226.51,300.13 L226.41,300.56 L226.28,301.00 L228.12,301.00 L227.99,300.56 L227.89,300.13 L227.83,299.71 L227.78,299.34 L227.75,299.03 L227.72,298.80 Z" fill="#5a514c"/>
<path d="M226.28,327.00 L226.35,327.35 L226.41,327.44 L226.46,327.56 L226.51,328.00 L226.55,329.05 L226.58,331.00 L226.61,334.36 L226.63,339.00 L226.65,344.25 L226.66,349.44 L226.67,353.92 L226.68,357.00 L227.72,357.00 L227.73,353.92 L227.74,349.44 L227.75,344.25 L227.77,339.00 L227.79,334.36 L227.82,331.00 L227.85,329.05 L227.89,328.00 L227.94,327.56 L227.99,327.44 L228.05,327.35 L228.12,327.00 Z" fill="#5a514c"/>
<path d="M247.10,288.60 L247.10,289.94 L247.11,291.87 L247.12,294.11 L247.11,296.40 L247.08,298.45 L247.00,300.00 L246.87,301.00 L246.70,301.66 L246.49,302.09 L246.28,302.39 L246.08,302.66 L245.90,303.00 L245.75,303.36 L245.61,303.63 L245.49,303.88 L245.36,304.15 L245.24,304.50 L245.10,305.00 L244.95,305.65 L244.80,306.41 L244.64,307.25 L244.48,308.15 L244.33,309.07 L244.20,310.00 L244.07,310.94 L243.94,311.93 L243.82,312.94 L243.71,313.96 L243.64,314.99 L243.60,316.00 L243.60,317.01 L243.63,318.04 L243.69,319.06 L243.78,320.07 L243.88,321.06 L244.00,322.00 L244.14,322.90 L244.32,323.78 L244.51,324.62 L244.71,325.44 L244.91,326.24 L245.10,327.00 L245.28,327.74 L245.45,328.44 L245.62,329.12 L245.79,329.78 L245.95,330.40 L246.10,331.00 L246.24,331.49 L246.37,331.86 L246.49,332.20 L246.61,332.61 L246.71,333.18 L246.80,334.00 L246.88,335.23 L246.94,336.83 L246.99,338.59 L247.04,340.30 L247.07,341.78 L247.10,342.80 L247.90,342.80 L247.93,341.78 L247.96,340.30 L248.01,338.59 L248.06,336.83 L248.12,335.23 L248.20,334.00 L248.29,333.18 L248.39,332.61 L248.51,332.20 L248.63,331.86 L248.76,331.49 L248.90,331.00 L249.05,330.40 L249.21,329.78 L249.38,329.12 L249.55,328.44 L249.72,327.74 L249.90,327.00 L250.09,326.24 L250.29,325.44 L250.49,324.62 L250.68,323.78 L250.86,322.90 L251.00,322.00 L251.12,321.06 L251.22,320.07 L251.31,319.06 L251.37,318.04 L251.40,317.01 L251.40,316.00 L251.36,314.99 L251.29,313.96 L251.18,312.94 L251.06,311.93 L250.93,310.94 L250.80,310.00 L250.67,309.07 L250.52,308.15 L250.36,307.25 L250.20,306.41 L250.05,305.65 L249.90,305.00 L249.76,304.50 L249.64,304.15 L249.51,303.88 L249.39,303.63 L249.25,303.36 L249.10,303.00 L248.92,302.66 L248.72,302.39 L248.51,302.09 L248.30,301.66 L248.13,301.00 L248.00,300.00 L247.92,298.45 L247.89,296.40 L247.88,294.11 L247.89,291.87 L247.90,289.94 L247.90,288.60 Z" fill="#e2eee4" stroke="#5a514c" stroke-width="1.0" stroke-linejoin="round"/>
<path d="M246.98,288.60 L246.98,289.94 L246.99,291.87 L247.00,294.11 L246.99,296.40 L246.96,298.45 L246.88,300.00 L246.75,301.00 L248.25,301.00 L248.12,300.00 L248.04,298.45 L248.01,296.40 L248.00,294.11 L248.01,291.87 L248.02,289.94 L248.02,288.60 Z" fill="#5a514c"/>
<path d="M246.59,333.18 L246.68,334.00 L246.76,335.23 L246.82,336.83 L246.87,338.59 L246.92,340.30 L246.95,341.78 L246.98,342.80 L248.02,342.80 L248.05,341.78 L248.08,340.30 L248.13,338.59 L248.18,336.83 L248.24,335.23 L248.32,334.00 L248.41,333.18 Z" fill="#5a514c"/>
<path d="M266.90,289.00 L266.89,289.93 L266.89,291.26 L266.88,292.81 L266.87,294.41 L266.84,295.86 L266.80,297.00 L266.74,297.79 L266.66,298.37 L266.57,298.81 L266.48,299.19 L266.39,299.56 L266.30,300.00 L266.22,300.48 L266.14,300.93 L266.07,301.38 L265.99,301.85 L265.90,302.38 L265.80,303.00 L265.68,303.71 L265.54,304.48 L265.40,305.31 L265.26,306.19 L265.12,307.09 L265.00,308.00 L264.90,308.93 L264.80,309.89 L264.71,310.88 L264.63,311.89 L264.56,312.93 L264.50,314.00 L264.44,315.13 L264.40,316.33 L264.36,317.56 L264.33,318.78 L264.31,319.94 L264.30,321.00 L264.30,321.96 L264.30,322.85 L264.31,323.69 L264.34,324.48 L264.40,325.25 L264.50,326.00 L264.65,326.74 L264.84,327.44 L265.06,328.12 L265.29,328.78 L265.51,329.40 L265.70,330.00 L265.86,330.51 L266.01,330.93 L266.16,331.31 L266.29,331.74 L266.40,332.28 L266.50,333.00 L266.58,333.62 L266.64,334.04 L266.69,334.57 L266.73,335.53 L266.77,337.23 L266.80,340.00 L266.83,344.49 L266.85,350.56 L266.87,357.39 L266.88,364.11 L266.89,369.90 L266.90,373.90 L267.70,373.90 L267.71,369.90 L267.72,364.11 L267.73,357.39 L267.75,350.56 L267.77,344.49 L267.80,340.00 L267.83,337.23 L267.87,335.53 L267.91,334.57 L267.96,334.04 L268.02,333.62 L268.10,333.00 L268.20,332.28 L268.31,331.74 L268.44,331.31 L268.59,330.93 L268.74,330.51 L268.90,330.00 L269.09,329.40 L269.31,328.78 L269.54,328.12 L269.76,327.44 L269.95,326.74 L270.10,326.00 L270.20,325.25 L270.26,324.48 L270.29,323.69 L270.30,322.85 L270.30,321.96 L270.30,321.00 L270.29,319.94 L270.27,318.78 L270.24,317.56 L270.20,316.33 L270.16,315.13 L270.10,314.00 L270.04,312.93 L269.97,311.89 L269.89,310.88 L269.80,309.89 L269.70,308.93 L269.60,308.00 L269.48,307.09 L269.34,306.19 L269.20,305.31 L269.06,304.48 L268.92,303.71 L268.80,303.00 L268.70,302.38 L268.61,301.85 L268.53,301.38 L268.46,300.93 L268.38,300.48 L268.30,300.00 L268.21,299.56 L268.12,299.19 L268.03,298.81 L267.94,298.37 L267.86,297.79 L267.80,297.00 L267.76,295.86 L267.73,294.41 L267.72,292.81 L267.71,291.26 L267.71,289.93 L267.70,289.00 Z" fill="#e2eee4" stroke="#5a514c" stroke-width="1.0" stroke-linejoin="round"/>
<path d="M266.78,289.00 L266.77,289.93 L266.77,291.26 L266.76,292.81 L266.75,294.41 L266.72,295.86 L266.68,297.00 L266.62,297.79 L266.54,298.37 L266.45,298.81 L268.15,298.81 L268.06,298.37 L267.98,297.79 L267.92,297.00 L267.88,295.86 L267.85,294.41 L267.84,292.81 L267.83,291.26 L267.83,289.93 L267.82,289.00 Z" fill="#5a514c"/>
<path d="M266.38,333.00 L266.46,333.62 L266.52,334.04 L266.57,334.57 L266.61,335.53 L266.65,337.23 L266.68,340.00 L266.71,344.49 L266.73,350.56 L266.75,357.39 L266.76,364.11 L266.77,369.90 L266.78,373.90 L267.82,373.90 L267.83,369.90 L267.84,364.11 L267.85,357.39 L267.87,350.56 L267.89,344.49 L267.92,340.00 L267.95,337.23 L267.99,335.53 L268.03,334.57 L268.08,334.04 L268.14,333.62 L268.22,333.00 Z" fill="#5a514c"/>
<circle cx="147.9" cy="306.3" r="1.3" fill="#ccc" stroke="#555" stroke-width="0.6"/>
<path d="M145.5,308.2 L150.3,308.2 L147.9,312.3 Z" fill="#e00" stroke="#222" stroke-width="0.8"/>
<circle cx="168.0" cy="307.4" r="1.7" fill="#f08a00" stroke="#333" stroke-width="0.6"/>
<path d="M227.2,311.8 L229.4,314.0 L227.2,316.2 L225.0,314.0 Z" fill="#f07000" stroke="#333" stroke-width="0.6"/>
<path d="M247.6,300.6 L250.0,304.8 L245.2,304.8 Z" fill="#fff" stroke="#111" stroke-width="0.9"/>
<circle cx="247.6" cy="307.0" r="1.6" fill="#22bb22" stroke="#333" stroke-width="0.5"/>
<circle cx="267.6" cy="288.9" r="1.8" fill="#3ec8f0" stroke="#222" stroke-width="0.6"/>
<path d="M265.2,299.2 L270.0,299.2 L267.6,303.2 Z" fill="#3ec8f0" stroke="#222" stroke-width="0.6"/>
<text x="182" y="287.6" font-size="7.4" text-anchor="start" font-weight="normal" fill="#111" textLength="63.4" lengthAdjust="spacingAndGlyphs"  stroke="#111" stroke-width="0.12">Mim8 anti-FIXa OA</text>
<path d="M247.3,284.5 L257.6,284.5 L257.6,288.9 L263.4,288.9" fill="none" stroke="#111" stroke-width="0.7"/>
<path d="M265.4,288.9 L262.6,287.6 L262.6,290.2 Z" fill="#111"/>
<text x="294.0" y="276.2" font-size="11" text-anchor="start" font-weight="bold" fill="#111" >E</text>
<text transform="translate(303.5,331.0) rotate(-90)" font-size="9.4" text-anchor="middle" font-weight="normal" fill="#222" textLength="47.9" lengthAdjust="spacingAndGlyphs"  stroke="#222" stroke-width="0.12">Peak thrombin</text>
<text transform="translate(314.6,326.2) rotate(-90)" font-size="9.4" text-anchor="middle" font-weight="normal" fill="#222" textLength="40.1" lengthAdjust="spacingAndGlyphs"  stroke="#222" stroke-width="0.12">(normalized)</text>
<line x1="339.7" y1="284.2" x2="339.7" y2="378.9" stroke="#111" stroke-width="1.2"/>
<line x1="339.1" y1="378.4" x2="486.9" y2="378.4" stroke="#111" stroke-width="1.2"/>
<line x1="336.80" y1="373.80" x2="339.7" y2="373.80" stroke="#111" stroke-width="0.9"/>
<line x1="337.80" y1="370.42" x2="339.7" y2="370.42" stroke="#111" stroke-width="0.7"/>
<line x1="337.80" y1="367.04" x2="339.7" y2="367.04" stroke="#111" stroke-width="0.7"/>
<line x1="337.80" y1="363.66" x2="339.7" y2="363.66" stroke="#111" stroke-width="0.7"/>
<line x1="337.80" y1="360.28" x2="339.7" y2="360.28" stroke="#111" stroke-width="0.7"/>
<line x1="336.80" y1="356.90" x2="339.7" y2="356.90" stroke="#111" stroke-width="0.9"/>
<line x1="337.80" y1="353.52" x2="339.7" y2="353.52" stroke="#111" stroke-width="0.7"/>
<line x1="337.80" y1="350.14" x2="339.7" y2="350.14" stroke="#111" stroke-width="0.7"/>
<line x1="337.80" y1="346.76" x2="339.7" y2="346.76" stroke="#111" stroke-width="0.7"/>
<line x1="337.80" y1="343.38" x2="339.7" y2="343.38" stroke="#111" stroke-width="0.7"/>
<line x1="336.80" y1="340.00" x2="339.7" y2="340.00" stroke="#111" stroke-width="0.9"/>
<line x1="337.80" y1="336.62" x2="339.7" y2="336.62" stroke="#111" stroke-width="0.7"/>
<line x1="337.80" y1="333.24" x2="339.7" y2="333.24" stroke="#111" stroke-width="0.7"/>
<line x1="337.80" y1="329.86" x2="339.7" y2="329.86" stroke="#111" stroke-width="0.7"/>
<line x1="337.80" y1="326.48" x2="339.7" y2="326.48" stroke="#111" stroke-width="0.7"/>
<line x1="336.80" y1="323.10" x2="339.7" y2="323.10" stroke="#111" stroke-width="0.9"/>
<line x1="337.80" y1="319.72" x2="339.7" y2="319.72" stroke="#111" stroke-width="0.7"/>
<line x1="337.80" y1="316.34" x2="339.7" y2="316.34" stroke="#111" stroke-width="0.7"/>
<line x1="337.80" y1="312.96" x2="339.7" y2="312.96" stroke="#111" stroke-width="0.7"/>
<line x1="337.80" y1="309.58" x2="339.7" y2="309.58" stroke="#111" stroke-width="0.7"/>
<line x1="336.80" y1="306.20" x2="339.7" y2="306.20" stroke="#111" stroke-width="0.9"/>
<line x1="337.80" y1="302.82" x2="339.7" y2="302.82" stroke="#111" stroke-width="0.7"/>
<line x1="337.80" y1="299.44" x2="339.7" y2="299.44" stroke="#111" stroke-width="0.7"/>
<line x1="337.80" y1="296.06" x2="339.7" y2="296.06" stroke="#111" stroke-width="0.7"/>
<line x1="337.80" y1="292.68" x2="339.7" y2="292.68" stroke="#111" stroke-width="0.7"/>
<line x1="336.80" y1="289.30" x2="339.7" y2="289.30" stroke="#111" stroke-width="0.9"/>
<text x="335.4" y="376.65000000000003" font-size="8.0" text-anchor="end" font-weight="normal" fill="#222"  stroke="#222" stroke-width="0.12">0.00</text>
<text x="335.4" y="359.75000000000006" font-size="8.0" text-anchor="end" font-weight="normal" fill="#222"  stroke="#222" stroke-width="0.12">0.25</text>
<text x="335.4" y="342.85" font-size="8.0" text-anchor="end" font-weight="normal" fill="#222"  stroke="#222" stroke-width="0.12">0.50</text>
<text x="335.4" y="325.95000000000005" font-size="8.0" text-anchor="end" font-weight="normal" fill="#222"  stroke="#222" stroke-width="0.12">0.75</text>
<text x="335.4" y="309.05000000000007" font-size="8.0" text-anchor="end" font-weight="normal" fill="#222"  stroke="#222" stroke-width="0.12">1.00</text>
<text x="335.4" y="292.15000000000003" font-size="8.0" text-anchor="end" font-weight="normal" fill="#222"  stroke="#222" stroke-width="0.12">1.25</text>
<text x="340.0" y="389.2" font-size="7.2" text-anchor="middle" font-weight="normal" fill="#333" textLength="4.0" lengthAdjust="spacingAndGlyphs"  stroke="#333" stroke-width="0.12">0</text>
<line x1="366.5" y1="378.4" x2="366.5" y2="380.2" stroke="#111" stroke-width="0.7"/>
<text x="366.5" y="389.2" font-size="7.2" text-anchor="middle" font-weight="normal" fill="#333" textLength="7.4" lengthAdjust="spacingAndGlyphs"  stroke="#333" stroke-width="0.12">20</text>
<line x1="382.7" y1="378.4" x2="382.7" y2="380.2" stroke="#111" stroke-width="0.7"/>
<text x="382.7" y="389.2" font-size="7.2" text-anchor="middle" font-weight="normal" fill="#333" textLength="7.4" lengthAdjust="spacingAndGlyphs"  stroke="#333" stroke-width="0.12">30</text>
<line x1="393.8" y1="378.4" x2="393.8" y2="380.2" stroke="#111" stroke-width="0.7"/>
<text x="393.8" y="389.2" font-size="7.2" text-anchor="middle" font-weight="normal" fill="#333" textLength="7.4" lengthAdjust="spacingAndGlyphs"  stroke="#333" stroke-width="0.12">40</text>
<line x1="402.7" y1="378.4" x2="402.7" y2="380.2" stroke="#111" stroke-width="0.7"/>
<text x="402.7" y="389.2" font-size="7.2" text-anchor="middle" font-weight="normal" fill="#333" textLength="7.4" lengthAdjust="spacingAndGlyphs"  stroke="#333" stroke-width="0.12">50</text>
<line x1="432.1" y1="378.4" x2="432.1" y2="380.2" stroke="#111" stroke-width="0.7"/>
<text x="432.1" y="389.2" font-size="7.2" text-anchor="middle" font-weight="normal" fill="#333" textLength="11.0" lengthAdjust="spacingAndGlyphs"  stroke="#333" stroke-width="0.12">100</text>
<line x1="459.7" y1="378.4" x2="459.7" y2="380.2" stroke="#111" stroke-width="0.7"/>
<text x="459.7" y="389.2" font-size="7.2" text-anchor="middle" font-weight="normal" fill="#333" textLength="11.0" lengthAdjust="spacingAndGlyphs"  stroke="#333" stroke-width="0.12">200</text>
<line x1="476.5" y1="378.4" x2="476.5" y2="380.2" stroke="#111" stroke-width="0.7"/>
<text x="476.5" y="389.2" font-size="7.2" text-anchor="middle" font-weight="normal" fill="#333" textLength="11.0" lengthAdjust="spacingAndGlyphs"  stroke="#333" stroke-width="0.12">300</text>
<line x1="411.2" y1="378.4" x2="411.2" y2="379.6" stroke="#111" stroke-width="0.6"/>
<line x1="417.2" y1="378.4" x2="417.2" y2="379.6" stroke="#111" stroke-width="0.6"/>
<line x1="422.2" y1="378.4" x2="422.2" y2="379.6" stroke="#111" stroke-width="0.6"/>
<line x1="424.8" y1="378.4" x2="424.8" y2="379.6" stroke="#111" stroke-width="0.6"/>
<line x1="427.4" y1="378.4" x2="427.4" y2="379.6" stroke="#111" stroke-width="0.6"/>
<line x1="429.6" y1="378.4" x2="429.6" y2="379.6" stroke="#111" stroke-width="0.6"/>
<text x="398.9" y="399.9" font-size="9.3" text-anchor="start" font-weight="normal" fill="#333" textLength="33.8" lengthAdjust="spacingAndGlyphs"  stroke="#333" stroke-width="0.12">biAb (nM)</text>
<polyline points="346.6,318.26 391.5,304.90 435.9,290.20 480.4,288.53" fill="none" stroke="#39b9ec" stroke-width="1.3" stroke-dasharray="9.5,9.2" stroke-dashoffset="-1.2"/>
<polyline points="346.6,320.93 391.5,309.24 435.9,297.88 480.4,300.89" fill="none" stroke="#39b9ec" stroke-width="1.3"/>
<polyline points="346.6,347.98 391.5,330.28 435.9,319.59 480.4,303.56" fill="none" stroke="#7fc4cc" stroke-width="1.3"/>
<polyline points="346.6,335.62 391.5,320.26 435.9,305.90 480.4,305.90" fill="none" stroke="#f0a020" stroke-width="1.3"/>
<polyline points="346.6,333.62 391.5,324.27 435.9,309.91 480.4,323.27" fill="none" stroke="#5b6868" stroke-width="1.3"/>
<polyline points="346.6,344.98 391.5,331.28 435.9,321.93 480.4,317.25" fill="none" stroke="#e8301c" stroke-width="1.3"/>
<polyline points="346.6,346.98 391.5,333.62 435.9,318.59 480.4,321.26" fill="none" stroke="#2fbf2f" stroke-width="1.3"/>
<polyline points="346.6,350.32 391.5,338.63 435.9,325.94 480.4,329.95" fill="none" stroke="#e8641c" stroke-width="1.3"/>
<polyline points="346.6,365.02 391.5,366.69 435.9,371.70 480.4,372.36" fill="none" stroke="#7ed321" stroke-width="1.3"/>
<path d="M346.6,316.06 L348.8,318.26 L346.6,320.46 L344.40000000000003,318.26 Z" fill="#5ccaf0" stroke="#000" stroke-width="1.15"/>
<path d="M391.5,302.70 L393.7,304.90 L391.5,307.10 L389.3,304.90 Z" fill="#5ccaf0" stroke="#000" stroke-width="1.15"/>
<path d="M435.9,288.00 L438.09999999999997,290.20 L435.9,292.40 L433.7,290.20 Z" fill="#5ccaf0" stroke="#000" stroke-width="1.15"/>
<path d="M480.4,286.33 L482.59999999999997,288.53 L480.4,290.73 L478.2,288.53 Z" fill="#5ccaf0" stroke="#000" stroke-width="1.15"/>
<circle cx="346.6" cy="320.93" r="1.6" fill="#5ccaf0" stroke="#000" stroke-width="1.15"/>
<circle cx="391.5" cy="309.24" r="1.6" fill="#5ccaf0" stroke="#000" stroke-width="1.15"/>
<circle cx="435.9" cy="297.88" r="1.6" fill="#5ccaf0" stroke="#000" stroke-width="1.15"/>
<circle cx="480.4" cy="300.89" r="1.6" fill="#5ccaf0" stroke="#000" stroke-width="1.15"/>
<path d="M346.6,350.48 L349.1,346.18 L344.1,346.18 Z" fill="#3cc8c8" stroke="#000" stroke-width="1.15"/>
<path d="M391.5,332.78 L394.0,328.48 L389.0,328.48 Z" fill="#3cc8c8" stroke="#000" stroke-width="1.15"/>
<path d="M435.9,322.09 L438.4,317.79 L433.4,317.79 Z" fill="#3cc8c8" stroke="#000" stroke-width="1.15"/>
<path d="M480.4,306.06 L482.9,301.76 L477.9,301.76 Z" fill="#3cc8c8" stroke="#000" stroke-width="1.15"/>
<circle cx="346.6" cy="335.62" r="1.6" fill="#f0a020" stroke="#000" stroke-width="1.15"/>
<circle cx="391.5" cy="320.26" r="1.6" fill="#f0a020" stroke="#000" stroke-width="1.15"/>
<circle cx="435.9" cy="305.90" r="1.6" fill="#f0a020" stroke="#000" stroke-width="1.15"/>
<circle cx="480.4" cy="305.90" r="1.6" fill="#f0a020" stroke="#000" stroke-width="1.15"/>
<path d="M346.6,331.12 L349.1,335.42 L344.1,335.42 Z" fill="#6a7070" stroke="#000" stroke-width="1.15"/>
<path d="M391.5,321.77 L394.0,326.07 L389.0,326.07 Z" fill="#6a7070" stroke="#000" stroke-width="1.15"/>
<path d="M435.9,307.41 L438.4,311.71 L433.4,311.71 Z" fill="#6a7070" stroke="#000" stroke-width="1.15"/>
<path d="M480.4,320.77 L482.9,325.07 L477.9,325.07 Z" fill="#6a7070" stroke="#000" stroke-width="1.15"/>
<path d="M346.6,347.48 L349.1,343.18 L344.1,343.18 Z" fill="#c82818" stroke="#000" stroke-width="1.15"/>
<path d="M391.5,333.78 L394.0,329.48 L389.0,329.48 Z" fill="#c82818" stroke="#000" stroke-width="1.15"/>
<path d="M435.9,324.43 L438.4,320.13 L433.4,320.13 Z" fill="#c82818" stroke="#000" stroke-width="1.15"/>
<path d="M480.4,319.75 L482.9,315.45 L477.9,315.45 Z" fill="#c82818" stroke="#000" stroke-width="1.15"/>
<rect x="344.8" y="345.18" width="3.6" height="3.6" fill="#2fbf2f" stroke="#000" stroke-width="1.15"/>
<rect x="389.7" y="331.82" width="3.6" height="3.6" fill="#2fbf2f" stroke="#000" stroke-width="1.15"/>
<rect x="434.09999999999997" y="316.79" width="3.6" height="3.6" fill="#2fbf2f" stroke="#000" stroke-width="1.15"/>
<rect x="478.59999999999997" y="319.46" width="3.6" height="3.6" fill="#2fbf2f" stroke="#000" stroke-width="1.15"/>
<path d="M346.6,348.12 L348.8,350.32 L346.6,352.52 L344.40000000000003,350.32 Z" fill="#e8641c" stroke="#000" stroke-width="1.15"/>
<path d="M391.5,336.43 L393.7,338.63 L391.5,340.83 L389.3,338.63 Z" fill="#e8641c" stroke="#000" stroke-width="1.15"/>
<path d="M435.9,323.74 L438.09999999999997,325.94 L435.9,328.14 L433.7,325.94 Z" fill="#e8641c" stroke="#000" stroke-width="1.15"/>
<path d="M480.4,327.75 L482.59999999999997,329.95 L480.4,332.15 L478.2,329.95 Z" fill="#e8641c" stroke="#000" stroke-width="1.15"/>
<path d="M346.6,362.52 L349.1,366.82 L344.1,366.82 Z" fill="#7ed321" stroke="#000" stroke-width="1.15"/>
<path d="M391.5,364.19 L394.0,368.49 L389.0,368.49 Z" fill="#7ed321" stroke="#000" stroke-width="1.15"/>
<path d="M435.9,369.20 L438.4,373.50 L433.4,373.50 Z" fill="#7ed321" stroke="#000" stroke-width="1.15"/>
<path d="M480.4,369.86 L482.9,374.16 L477.9,374.16 Z" fill="#7ed321" stroke="#000" stroke-width="1.15"/></svg>
</body></html>
